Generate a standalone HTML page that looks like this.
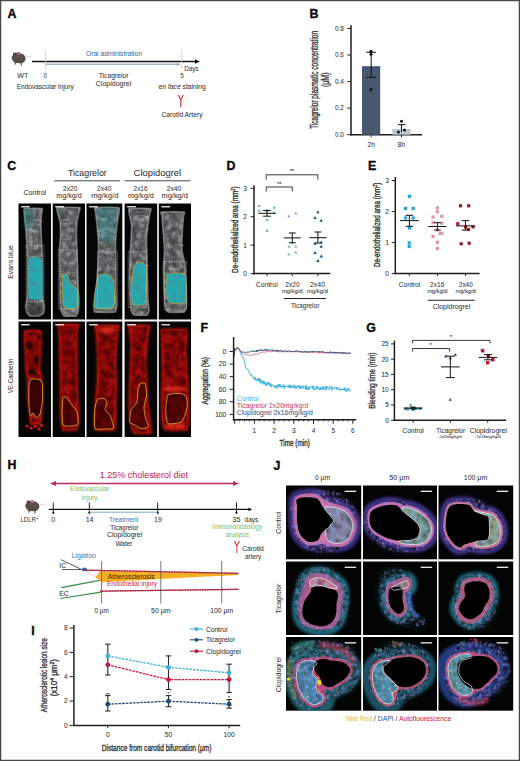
<!DOCTYPE html>
<html><head><meta charset="utf-8"><style>
html,body{margin:0;padding:0;background:#fff;overflow:hidden;}
svg{display:block;font-family:"Liberation Sans", sans-serif;}
</style></head><body>
<svg width="520" height="761" viewBox="0 0 520 761">
<defs>
<filter id="b05" x="-50%" y="-50%" width="200%" height="200%"><feGaussianBlur stdDeviation="0.5"/></filter>
<filter id="b1" x="-50%" y="-50%" width="200%" height="200%"><feGaussianBlur stdDeviation="0.8"/></filter>
<filter id="nzD" x="0" y="0" width="100%" height="100%"><feTurbulence type="fractalNoise" baseFrequency="0.13" numOctaves="2" seed="3"/><feColorMatrix type="matrix" values="0 0 0 0 0  0 0 0 0 0  0 0 0 0 0  0 0 0 1.0 -0.42"/></filter>
<filter id="nzL" x="0" y="0" width="100%" height="100%"><feTurbulence type="fractalNoise" baseFrequency="0.18" numOctaves="2" seed="8"/><feColorMatrix type="matrix" values="0 0 0 0 1  0 0 0 0 1  0 0 0 0 1  0 0 0 1.0 -0.45"/></filter>
<filter id="nzD2" x="0" y="0" width="100%" height="100%"><feTurbulence type="fractalNoise" baseFrequency="0.15" numOctaves="2" seed="5"/><feColorMatrix type="matrix" values="0 0 0 0 0.05  0 0 0 0 0.3  0 0 0 0 0.35  0 0 0 2.4 -0.95"/></filter>
<filter id="nzJ" x="0" y="0" width="100%" height="100%"><feTurbulence type="fractalNoise" baseFrequency="0.2" numOctaves="2" seed="13"/><feColorMatrix type="matrix" values="0 0 0 0 0  0 0 0 0 0  0 0 0 0 0  0 0 0 1.6 -0.62"/></filter>
<filter id="nzP" x="0" y="0" width="100%" height="100%"><feTurbulence type="fractalNoise" baseFrequency="0.22" numOctaves="2" seed="21"/><feColorMatrix type="matrix" values="0 0 0 0 0.2  0 0 0 0 0.45  0 0 0 0 0.75  0 0 0 2.0 -0.8"/></filter>
<filter id="nzR" x="0" y="0" width="100%" height="100%"><feTurbulence type="fractalNoise" baseFrequency="0.3" numOctaves="2" seed="17"/><feColorMatrix type="matrix" values="0 0 0 0 0.35  0 0 0 0 0.3  0 0 0 0 0.75  0 0 0 1.6 -0.7"/></filter>
<filter id="nzD3" x="0" y="0" width="100%" height="100%"><feTurbulence type="fractalNoise" baseFrequency="0.14" numOctaves="2" seed="9"/><feColorMatrix type="matrix" values="0 0 0 0 0.1  0 0 0 0 0  0 0 0 0 0  0 0 0 2.4 -0.7"/></filter>
<filter id="b2" x="-50%" y="-50%" width="200%" height="200%"><feGaussianBlur stdDeviation="1.6"/></filter>
<filter id="b3" x="-50%" y="-50%" width="200%" height="200%"><feGaussianBlur stdDeviation="3"/></filter>
</defs>
<rect width="520" height="761" fill="#fff"/>
<text x="7.40" y="17.90" font-size="12.4" fill="#0a0a0a" stroke="#0a0a0a" stroke-width="0.35" font-weight="bold">A</text>
<g transform="translate(0,0)"><path d="M11.4,57.6 L13.2,54.6 C14.6,52.6 17.5,52.4 19.8,53.4 C23,53.2 25.6,55.4 25.6,58.4 C25.6,61.4 23.2,63.1 20.2,63.3 L15.6,63.1 C13.6,62.3 12.2,60.2 11.4,57.6 Z" fill="#594d4a"/><circle cx="14.4" cy="53.8" r="1.4" fill="#4a3f3d"/><circle cx="18.7" cy="53.4" r="1.7" fill="#8e7f7b"/><path d="M15.3,62.5 L15.3,64.6 M21.3,62.5 L21.3,65.6" stroke="#4a3f3d" stroke-width="1.1"/><path d="M25.3,57.6 Q28,55.4 31.7,56.3" stroke="#e3c4c4" stroke-width="0.9" fill="none"/><path d="M16,56 l2,1 M20,58 l2,-1" stroke="#6e625e" stroke-width="0.6"/></g>
<line x1="32.00" y1="61.50" x2="196.00" y2="61.50" stroke="#111" stroke-width="1.5"/>
<path d="M195,59.2 L200,61.5 L195,63.8 Z" fill="#111"/>
<line x1="45.60" y1="50.50" x2="45.60" y2="69.00" stroke="#c8c8c8" stroke-width="0.8"/>
<line x1="181.70" y1="50.50" x2="181.70" y2="69.00" stroke="#c8c8c8" stroke-width="0.8"/>
<line x1="45.60" y1="64.20" x2="178.00" y2="64.20" stroke="#7f95ad" stroke-width="1.0"/>
<path d="M177,62.9 L180,64.2 L177,65.5 Z" fill="#7f95ad"/>
<text x="86.00" y="56.30" font-size="7" fill="#3d6da6" stroke="#3d6da6" stroke-width="0.05" textLength="56.00" lengthAdjust="spacingAndGlyphs">Oral administration</text>
<text x="17.30" y="78.00" font-size="7" fill="#333333" stroke="#333333" stroke-width="0.05" textLength="10.90" lengthAdjust="spacingAndGlyphs">WT</text>
<text x="43.40" y="78.00" font-size="7" fill="#333333" stroke="#333333" stroke-width="0.05" textLength="3.40" lengthAdjust="spacingAndGlyphs">0</text>
<text x="16.70" y="89.00" font-size="7" fill="#333333" stroke="#333333" stroke-width="0.05" textLength="57.00" lengthAdjust="spacingAndGlyphs">Endovascular injury</text>
<text x="98.70" y="77.50" font-size="7" fill="#333333" stroke="#333333" stroke-width="0.05" textLength="29.80" lengthAdjust="spacingAndGlyphs">Ticagrelor</text>
<text x="95.80" y="86.00" font-size="7" fill="#333333" stroke="#333333" stroke-width="0.05" textLength="35.40" lengthAdjust="spacingAndGlyphs">Clopidogrel</text>
<text x="180.50" y="78.00" font-size="7" fill="#333333" stroke="#333333" stroke-width="0.05" textLength="3.30" lengthAdjust="spacingAndGlyphs">5</text>
<text x="184.20" y="70.80" font-size="7" fill="#333333" stroke="#333333" stroke-width="0.05" textLength="14.30" lengthAdjust="spacingAndGlyphs">Days</text>
<text x="158.60" y="89.00" font-size="7" fill="#333333" stroke="#333333" stroke-width="0.05" textLength="47.20" lengthAdjust="spacingAndGlyphs">en <tspan font-style="italic">face</tspan> staining</text>
<path d="M178.4,95 L180.8,100 L183.2,95 M180.8,100 L180.8,107.3" fill="none" stroke="#c4262e" stroke-width="1.1"/>
<text x="161.50" y="117.00" font-size="7" fill="#333333" stroke="#333333" stroke-width="0.05" textLength="41.00" lengthAdjust="spacingAndGlyphs">Carotid Artery</text>
<text x="309.50" y="18.00" font-size="12.4" fill="#0a0a0a" stroke="#0a0a0a" stroke-width="0.35" font-weight="bold">B</text>
<line x1="351.00" y1="25.20" x2="351.00" y2="135.40" stroke="#1e1e1e" stroke-width="1.5"/>
<line x1="350.30" y1="134.70" x2="422.00" y2="134.70" stroke="#1e1e1e" stroke-width="1.5"/>
<line x1="347.30" y1="28.40" x2="351.00" y2="28.40" stroke="#1e1e1e" stroke-width="1"/>
<text x="343.80" y="30.70" font-size="6.4" fill="#333333" stroke="#333333" stroke-width="0.05" text-anchor="end">0.8</text>
<line x1="347.30" y1="54.98" x2="351.00" y2="54.98" stroke="#1e1e1e" stroke-width="1"/>
<text x="343.80" y="57.28" font-size="6.4" fill="#333333" stroke="#333333" stroke-width="0.05" text-anchor="end">0.6</text>
<line x1="347.30" y1="81.55" x2="351.00" y2="81.55" stroke="#1e1e1e" stroke-width="1"/>
<text x="343.80" y="83.85" font-size="6.4" fill="#333333" stroke="#333333" stroke-width="0.05" text-anchor="end">0.4</text>
<line x1="347.30" y1="108.12" x2="351.00" y2="108.12" stroke="#1e1e1e" stroke-width="1"/>
<text x="343.80" y="110.42" font-size="6.4" fill="#333333" stroke="#333333" stroke-width="0.05" text-anchor="end">0.2</text>
<line x1="347.30" y1="134.70" x2="351.00" y2="134.70" stroke="#1e1e1e" stroke-width="1"/>
<text x="343.80" y="137.00" font-size="6.4" fill="#333333" stroke="#333333" stroke-width="0.05" text-anchor="end">0.0</text>
<rect x="362.00" y="66.20" width="18.20" height="68.50" fill="#48586e"/>
<rect x="392.30" y="129.00" width="18.50" height="5.70" fill="#c2c8d0"/>
<line x1="371.20" y1="52.30" x2="371.20" y2="77.30" stroke="#111" stroke-width="1"/>
<line x1="366.30" y1="52.30" x2="376.00" y2="52.30" stroke="#111" stroke-width="1"/>
<line x1="366.30" y1="77.30" x2="376.00" y2="77.30" stroke="#111" stroke-width="1"/>
<line x1="401.50" y1="124.60" x2="401.50" y2="132.00" stroke="#111" stroke-width="1"/>
<line x1="398.00" y1="124.60" x2="405.50" y2="124.60" stroke="#111" stroke-width="1"/>
<circle cx="371.00" cy="51.30" r="1.50" fill="#111"/>
<circle cx="371.00" cy="54.30" r="1.50" fill="#111"/>
<circle cx="371.00" cy="89.50" r="1.50" fill="#111"/>
<circle cx="401.50" cy="121.20" r="1.50" fill="#111"/>
<circle cx="398.40" cy="132.10" r="1.50" fill="#111"/>
<circle cx="404.50" cy="130.00" r="1.50" fill="#111"/>
<line x1="371.20" y1="134.70" x2="371.20" y2="137.30" stroke="#222" stroke-width="1"/>
<line x1="401.50" y1="134.70" x2="401.50" y2="137.30" stroke="#222" stroke-width="1"/>
<text x="371.20" y="147.20" font-size="6.6" fill="#333333" stroke="#333333" stroke-width="0.05" text-anchor="middle">2h</text>
<text x="401.50" y="147.20" font-size="6.6" fill="#333333" stroke="#333333" stroke-width="0.05" text-anchor="middle">8h</text>
<text transform="translate(318.40,79.90) rotate(-90)" x="0" y="0" text-anchor="middle" font-size="10.2" fill="#333333" stroke="#333333" stroke-width="0.35" textLength="97.80" lengthAdjust="spacingAndGlyphs">Ticagrelor plasmatic concentration</text>
<text transform="translate(328.80,79.75) rotate(-90)" x="0" y="0" text-anchor="middle" font-size="10.2" fill="#333333" stroke="#333333" stroke-width="0.35" textLength="14.70" lengthAdjust="spacingAndGlyphs">(μM)</text>
<text x="7.20" y="169.90" font-size="12.4" fill="#0a0a0a" stroke="#0a0a0a" stroke-width="0.35" font-weight="bold">C</text>
<text x="67.90" y="175.90" font-size="8.8" fill="#333333" stroke="#333333" stroke-width="0.05" textLength="38.90" lengthAdjust="spacingAndGlyphs">Ticagrelor</text>
<text x="133.60" y="175.90" font-size="8.8" fill="#333333" stroke="#333333" stroke-width="0.05" textLength="47.60" lengthAdjust="spacingAndGlyphs">Clopidogrel</text>
<line x1="54.30" y1="180.80" x2="120.00" y2="180.80" stroke="#333" stroke-width="0.9"/>
<line x1="124.40" y1="180.80" x2="190.50" y2="180.80" stroke="#333" stroke-width="0.9"/>
<text x="23.50" y="194.60" font-size="7" fill="#333333" stroke="#333333" stroke-width="0.05" textLength="22.70" lengthAdjust="spacingAndGlyphs">Control</text>
<text x="63.00" y="190.60" font-size="7" fill="#333333" stroke="#333333" stroke-width="0.05" textLength="14.40" lengthAdjust="spacingAndGlyphs">2x20</text>
<text x="97.00" y="190.60" font-size="7" fill="#333333" stroke="#333333" stroke-width="0.05" textLength="14.40" lengthAdjust="spacingAndGlyphs">2x40</text>
<text x="133.60" y="190.60" font-size="7" fill="#333333" stroke="#333333" stroke-width="0.05" textLength="13.90" lengthAdjust="spacingAndGlyphs">2x16</text>
<text x="166.80" y="190.60" font-size="7" fill="#333333" stroke="#333333" stroke-width="0.05" textLength="14.40" lengthAdjust="spacingAndGlyphs">2x40</text>
<text x="56.30" y="197.80" font-size="7" fill="#333333" stroke="#333333" stroke-width="0.05" textLength="25.40" lengthAdjust="spacingAndGlyphs">mg/kg/d</text>
<text x="91.20" y="197.80" font-size="7" fill="#333333" stroke="#333333" stroke-width="0.05" textLength="27.20" lengthAdjust="spacingAndGlyphs">mg/kg/d</text>
<text x="127.90" y="197.80" font-size="7" fill="#333333" stroke="#333333" stroke-width="0.05" textLength="25.90" lengthAdjust="spacingAndGlyphs">mg/kg/d</text>
<text x="161.60" y="197.80" font-size="7" fill="#333333" stroke="#333333" stroke-width="0.05" textLength="26.30" lengthAdjust="spacingAndGlyphs">mg/kg/d</text>
<text transform="translate(13.20,262.00) rotate(-90)" x="0" y="0" text-anchor="middle" font-size="7" fill="#333333" stroke="#333333" stroke-width="0.05" textLength="33.50" lengthAdjust="spacingAndGlyphs">Evans blue</text>
<text transform="translate(13.20,376.00) rotate(-90)" x="0" y="0" text-anchor="middle" font-size="7" fill="#333333" stroke="#333333" stroke-width="0.05" textLength="34.50" lengthAdjust="spacingAndGlyphs">VE-Cadherin</text>
<rect x="18.50" y="203.50" width="32.50" height="116.00" fill="#050505"/>
<rect x="18.50" y="321.50" width="32.50" height="115.50" fill="#050505"/>
<rect x="52.70" y="203.50" width="32.30" height="116.00" fill="#050505"/>
<rect x="52.70" y="321.50" width="32.30" height="115.50" fill="#050505"/>
<rect x="86.50" y="203.50" width="35.80" height="116.00" fill="#050505"/>
<rect x="86.50" y="321.50" width="35.80" height="115.50" fill="#050505"/>
<rect x="124.60" y="203.50" width="32.60" height="116.00" fill="#050505"/>
<rect x="124.60" y="321.50" width="32.60" height="115.50" fill="#050505"/>
<rect x="158.80" y="203.50" width="32.20" height="116.00" fill="#050505"/>
<rect x="158.80" y="321.50" width="32.20" height="115.50" fill="#050505"/>
<clipPath id="cp1"><rect x="18.50" y="203.50" width="32.50" height="116.00"/></clipPath>
<g clip-path="url(#cp1)">
<path d="M24.50,208.50 C23.32,208.87 24.23,212.90 24.30,214.00 C24.37,215.10 25.35,223.27 25.50,225.00 C25.65,226.73 26.37,237.67 26.50,240.00 C26.63,242.33 27.43,256.67 27.50,260.00 C27.57,263.33 27.53,287.33 27.50,290.00 C27.47,292.67 27.13,298.93 27.00,300.00 C26.87,301.07 25.50,305.13 25.50,306.00 C25.50,306.87 26.70,312.33 27.00,313.00 C27.30,313.67 29.20,315.80 30.00,316.00 C30.80,316.20 38.10,316.20 39.00,316.00 C39.90,315.80 43.13,313.67 43.50,313.00 C43.87,312.33 44.53,306.87 44.50,306.00 C44.47,305.13 43.13,301.07 43.00,300.00 C42.87,298.93 42.53,292.67 42.50,290.00 C42.47,287.33 42.57,263.33 42.50,260.00 C42.43,256.67 41.60,242.33 41.50,240.00 C41.40,237.67 41.00,226.73 41.00,225.00 C41.00,223.27 41.43,215.10 41.50,214.00 C41.57,212.90 43.13,208.87 42.00,208.50 C40.87,208.13 25.68,208.13 24.50,208.50 Z" fill="#5e6264" filter="url(#b05)"/>
<clipPath id="cp2"><path d="M24.50,208.50 C23.32,208.87 24.23,212.90 24.30,214.00 C24.37,215.10 25.35,223.27 25.50,225.00 C25.65,226.73 26.37,237.67 26.50,240.00 C26.63,242.33 27.43,256.67 27.50,260.00 C27.57,263.33 27.53,287.33 27.50,290.00 C27.47,292.67 27.13,298.93 27.00,300.00 C26.87,301.07 25.50,305.13 25.50,306.00 C25.50,306.87 26.70,312.33 27.00,313.00 C27.30,313.67 29.20,315.80 30.00,316.00 C30.80,316.20 38.10,316.20 39.00,316.00 C39.90,315.80 43.13,313.67 43.50,313.00 C43.87,312.33 44.53,306.87 44.50,306.00 C44.47,305.13 43.13,301.07 43.00,300.00 C42.87,298.93 42.53,292.67 42.50,290.00 C42.47,287.33 42.57,263.33 42.50,260.00 C42.43,256.67 41.60,242.33 41.50,240.00 C41.40,237.67 41.00,226.73 41.00,225.00 C41.00,223.27 41.43,215.10 41.50,214.00 C41.57,212.90 43.13,208.87 42.00,208.50 C40.87,208.13 25.68,208.13 24.50,208.50 Z"/></clipPath><rect x="18.50" y="203.50" width="32.50" height="116.00" fill="#000" filter="url(#nzD)" clip-path="url(#cp2)"/>
<clipPath id="cp3"><path d="M24.50,208.50 C23.32,208.87 24.23,212.90 24.30,214.00 C24.37,215.10 25.35,223.27 25.50,225.00 C25.65,226.73 26.37,237.67 26.50,240.00 C26.63,242.33 27.43,256.67 27.50,260.00 C27.57,263.33 27.53,287.33 27.50,290.00 C27.47,292.67 27.13,298.93 27.00,300.00 C26.87,301.07 25.50,305.13 25.50,306.00 C25.50,306.87 26.70,312.33 27.00,313.00 C27.30,313.67 29.20,315.80 30.00,316.00 C30.80,316.20 38.10,316.20 39.00,316.00 C39.90,315.80 43.13,313.67 43.50,313.00 C43.87,312.33 44.53,306.87 44.50,306.00 C44.47,305.13 43.13,301.07 43.00,300.00 C42.87,298.93 42.53,292.67 42.50,290.00 C42.47,287.33 42.57,263.33 42.50,260.00 C42.43,256.67 41.60,242.33 41.50,240.00 C41.40,237.67 41.00,226.73 41.00,225.00 C41.00,223.27 41.43,215.10 41.50,214.00 C41.57,212.90 43.13,208.87 42.00,208.50 C40.87,208.13 25.68,208.13 24.50,208.50 Z"/></clipPath><rect x="18.50" y="203.50" width="32.50" height="116.00" fill="#000" filter="url(#nzL)" clip-path="url(#cp3)"/>
<path d="M24.50,208.50 C23.32,208.87 24.23,212.90 24.30,214.00 C24.37,215.10 25.35,223.27 25.50,225.00 C25.65,226.73 26.37,237.67 26.50,240.00 C26.63,242.33 27.43,256.67 27.50,260.00 C27.57,263.33 27.53,287.33 27.50,290.00 C27.47,292.67 27.13,298.93 27.00,300.00 C26.87,301.07 25.50,305.13 25.50,306.00 C25.50,306.87 26.70,312.33 27.00,313.00 C27.30,313.67 29.20,315.80 30.00,316.00 C30.80,316.20 38.10,316.20 39.00,316.00 C39.90,315.80 43.13,313.67 43.50,313.00 C43.87,312.33 44.53,306.87 44.50,306.00 C44.47,305.13 43.13,301.07 43.00,300.00 C42.87,298.93 42.53,292.67 42.50,290.00 C42.47,287.33 42.57,263.33 42.50,260.00 C42.43,256.67 41.60,242.33 41.50,240.00 C41.40,237.67 41.00,226.73 41.00,225.00 C41.00,223.27 41.43,215.10 41.50,214.00 C41.57,212.90 43.13,208.87 42.00,208.50 C40.87,208.13 25.68,208.13 24.50,208.50 Z" fill="none" stroke="#a4a8aa" stroke-width="1.6" opacity="0.6" filter="url(#b05)"/>
<path d="M31.3,256.5 q5.8,-0.2 8.0,0.3" stroke="#c0c2c4" stroke-width="0.6" fill="none" opacity="0.7"/>
<path d="M30.9,229.9 q4.9,1.8 6.4,-0.8" stroke="#c0c2c4" stroke-width="0.6" fill="none" opacity="0.7"/>
<path d="M33.4,220.5 q5.1,-2.7 9.9,1.9" stroke="#c0c2c4" stroke-width="0.6" fill="none" opacity="0.7"/>
<path d="M31.7,276.6 q3.5,-2.9 8.1,-1.8" stroke="#c0c2c4" stroke-width="0.6" fill="none" opacity="0.7"/>
<path d="M28.6,230.4 q3.1,-0.2 7.8,1.4" stroke="#c0c2c4" stroke-width="0.6" fill="none" opacity="0.7"/>
<path d="M31.9,263.2 q4.5,1.0 7.8,-0.9" stroke="#c0c2c4" stroke-width="0.6" fill="none" opacity="0.7"/>
<ellipse cx="35" cy="310" rx="8" ry="6" fill="#1a1a1a" opacity="0.55" filter="url(#b1)"/>
<path d="M24.50,210.00 C25.50,206.83 29.58,208.00 31.00,209.00 C32.42,210.00 33.00,212.83 33.00,216.00 C33.00,219.17 32.33,226.00 31.00,228.00 C29.67,230.00 26.08,231.00 25.00,228.00 C23.92,225.00 23.50,213.17 24.50,210.00 Z" fill="#2aa8a8" opacity="0.32" filter="url(#b2)"/>
<path d="M29.00,259.00 C29.75,256.75 34.70,257.40 36.00,257.50 C37.30,257.60 41.35,257.75 42.00,260.00 C42.65,262.25 42.50,276.10 42.50,280.00 C42.50,283.90 42.75,297.05 42.00,299.00 C41.25,300.95 36.30,299.60 35.00,299.50 C33.70,299.40 29.65,299.95 29.00,298.00 C28.35,296.05 28.50,283.90 28.50,280.00 C28.50,276.10 28.25,261.25 29.00,259.00 Z" fill="#26aaae" filter="url(#b05)"/>
<clipPath id="cp4"><path d="M29.00,259.00 C29.75,256.75 34.70,257.40 36.00,257.50 C37.30,257.60 41.35,257.75 42.00,260.00 C42.65,262.25 42.50,276.10 42.50,280.00 C42.50,283.90 42.75,297.05 42.00,299.00 C41.25,300.95 36.30,299.60 35.00,299.50 C33.70,299.40 29.65,299.95 29.00,298.00 C28.35,296.05 28.50,283.90 28.50,280.00 C28.50,276.10 28.25,261.25 29.00,259.00 Z"/></clipPath><rect x="18.50" y="203.50" width="32.50" height="116.00" fill="#000" filter="url(#nzD2)" clip-path="url(#cp4)"/>
<rect x="26" y="245.5" width="18.00" height="56.00" fill="none" stroke="#dddddd" stroke-width="0.6" stroke-dasharray="0.8 0.8"/>
<rect x="21.10" y="206.10" width="8.6" height="1.3" fill="#f0f0f0"/>
</g>
<clipPath id="cp5"><rect x="18.50" y="321.50" width="32.50" height="115.50"/></clipPath>
<g clip-path="url(#cp5)">
<path d="M25.00,331.00 C23.93,331.60 24.47,338.40 24.50,340.00 C24.53,341.60 25.40,353.00 25.50,355.00 C25.60,357.00 25.87,368.33 26.00,370.00 C26.13,371.67 27.37,378.00 27.50,380.00 C27.63,382.00 27.83,397.47 28.00,400.00 C28.17,402.53 29.80,416.40 30.00,418.00 C30.20,419.60 30.33,423.60 31.00,424.00 C31.67,424.40 39.30,424.40 40.00,424.00 C40.70,423.60 41.33,419.60 41.50,418.00 C41.67,416.40 42.47,402.53 42.50,400.00 C42.53,397.47 42.17,382.00 42.00,380.00 C41.83,378.00 40.10,371.67 40.00,370.00 C39.90,368.33 40.43,357.00 40.50,355.00 C40.57,353.00 41.00,341.60 41.00,340.00 C41.00,338.40 41.57,331.60 40.50,331.00 C39.43,330.40 26.07,330.40 25.00,331.00 Z" fill="#9c0a08" filter="url(#b05)"/>
<clipPath id="cp6"><path d="M25.00,331.00 C23.93,331.60 24.47,338.40 24.50,340.00 C24.53,341.60 25.40,353.00 25.50,355.00 C25.60,357.00 25.87,368.33 26.00,370.00 C26.13,371.67 27.37,378.00 27.50,380.00 C27.63,382.00 27.83,397.47 28.00,400.00 C28.17,402.53 29.80,416.40 30.00,418.00 C30.20,419.60 30.33,423.60 31.00,424.00 C31.67,424.40 39.30,424.40 40.00,424.00 C40.70,423.60 41.33,419.60 41.50,418.00 C41.67,416.40 42.47,402.53 42.50,400.00 C42.53,397.47 42.17,382.00 42.00,380.00 C41.83,378.00 40.10,371.67 40.00,370.00 C39.90,368.33 40.43,357.00 40.50,355.00 C40.57,353.00 41.00,341.60 41.00,340.00 C41.00,338.40 41.57,331.60 40.50,331.00 C39.43,330.40 26.07,330.40 25.00,331.00 Z"/></clipPath><rect x="18.50" y="321.50" width="32.50" height="115.50" fill="#000" filter="url(#nzD3)" clip-path="url(#cp6)"/>
<path d="M25.00,331.00 C23.93,331.60 24.47,338.40 24.50,340.00 C24.53,341.60 25.40,353.00 25.50,355.00 C25.60,357.00 25.87,368.33 26.00,370.00 C26.13,371.67 27.37,378.00 27.50,380.00 C27.63,382.00 27.83,397.47 28.00,400.00 C28.17,402.53 29.80,416.40 30.00,418.00 C30.20,419.60 30.33,423.60 31.00,424.00 C31.67,424.40 39.30,424.40 40.00,424.00 C40.70,423.60 41.33,419.60 41.50,418.00 C41.67,416.40 42.47,402.53 42.50,400.00 C42.53,397.47 42.17,382.00 42.00,380.00 C41.83,378.00 40.10,371.67 40.00,370.00 C39.90,368.33 40.43,357.00 40.50,355.00 C40.57,353.00 41.00,341.60 41.00,340.00 C41.00,338.40 41.57,331.60 40.50,331.00 C39.43,330.40 26.07,330.40 25.00,331.00 Z" fill="none" stroke="#e82418" stroke-width="2.2" opacity="0.55" filter="url(#b1)"/>
<ellipse cx="29" cy="345" rx="2" ry="4" fill="#100202" opacity="0.8" filter="url(#b1)"/>
<ellipse cx="37" cy="360" rx="2" ry="5" fill="#100202" opacity="0.8" filter="url(#b1)"/>
<ellipse cx="32" cy="372" rx="3" ry="3" fill="#100202" opacity="0.8" filter="url(#b1)"/>
<ellipse cx="39" cy="338" rx="1.5" ry="3" fill="#100202" opacity="0.8" filter="url(#b1)"/>
<path d="M30.00,380.00 C30.72,378.90 34.80,378.80 36.00,379.00 C37.20,379.20 41.35,379.90 42.00,382.00 C42.65,384.10 42.70,396.80 42.50,400.00 C42.30,403.20 40.65,412.20 40.00,414.00 C39.35,415.80 36.70,418.10 36.00,418.00 C35.30,417.90 33.55,413.20 33.00,413.00 C32.45,412.80 30.90,416.80 30.50,416.00 C30.10,415.20 29.17,407.60 29.00,405.00 C28.83,402.40 28.70,392.50 28.80,390.00 C28.90,387.50 29.28,381.10 30.00,380.00 Z" fill="#200202" opacity="0.75" filter="url(#b05)"/>
<path d="M30.00,380.00 C30.72,378.90 34.80,378.80 36.00,379.00 C37.20,379.20 41.35,379.90 42.00,382.00 C42.65,384.10 42.70,396.80 42.50,400.00 C42.30,403.20 40.65,412.20 40.00,414.00 C39.35,415.80 36.70,418.10 36.00,418.00 C35.30,417.90 33.55,413.20 33.00,413.00 C32.45,412.80 30.90,416.80 30.50,416.00 C30.10,415.20 29.17,407.60 29.00,405.00 C28.83,402.40 28.70,392.50 28.80,390.00 C28.90,387.50 29.28,381.10 30.00,380.00 Z" fill="none" stroke="#e8b030" stroke-width="0.8"/>
<circle cx="31" cy="428" r="1.6" fill="#d01818" filter="url(#b05)"/>
<circle cx="35" cy="426.5" r="1.6" fill="#d01818" filter="url(#b05)"/>
<circle cx="39" cy="429" r="1.6" fill="#d01818" filter="url(#b05)"/>
<circle cx="41.5" cy="425.5" r="1.6" fill="#d01818" filter="url(#b05)"/>
<circle cx="27" cy="426" r="1.6" fill="#d01818" filter="url(#b05)"/>
<rect x="21.10" y="324.10" width="8.6" height="1.3" fill="#f0f0f0"/>
</g>
<clipPath id="cp7"><rect x="52.70" y="203.50" width="32.30" height="116.00"/></clipPath>
<g clip-path="url(#cp7)">
<path d="M57.50,207.50 C56.03,207.80 57.33,211.03 57.50,212.00 C57.67,212.97 59.80,220.47 60.00,222.00 C60.20,223.53 60.53,233.13 60.50,235.00 C60.47,236.87 59.53,247.00 59.50,250.00 C59.47,253.00 59.97,276.67 60.00,280.00 C60.03,283.33 59.93,298.00 60.00,300.00 C60.07,302.00 60.73,308.93 61.00,310.00 C61.27,311.07 63.00,315.60 64.00,316.00 C65.00,316.40 75.03,316.40 76.00,316.00 C76.97,315.60 78.33,311.07 78.50,310.00 C78.67,308.93 78.53,302.00 78.50,300.00 C78.47,298.00 78.10,283.33 78.00,280.00 C77.90,276.67 77.10,253.00 77.00,250.00 C76.90,247.00 76.50,236.87 76.50,235.00 C76.50,233.13 76.83,223.53 77.00,222.00 C77.17,220.47 78.83,212.97 79.00,212.00 C79.17,211.03 80.93,207.80 79.50,207.50 C78.07,207.20 58.97,207.20 57.50,207.50 Z" fill="#5e6264" filter="url(#b05)"/>
<clipPath id="cp8"><path d="M57.50,207.50 C56.03,207.80 57.33,211.03 57.50,212.00 C57.67,212.97 59.80,220.47 60.00,222.00 C60.20,223.53 60.53,233.13 60.50,235.00 C60.47,236.87 59.53,247.00 59.50,250.00 C59.47,253.00 59.97,276.67 60.00,280.00 C60.03,283.33 59.93,298.00 60.00,300.00 C60.07,302.00 60.73,308.93 61.00,310.00 C61.27,311.07 63.00,315.60 64.00,316.00 C65.00,316.40 75.03,316.40 76.00,316.00 C76.97,315.60 78.33,311.07 78.50,310.00 C78.67,308.93 78.53,302.00 78.50,300.00 C78.47,298.00 78.10,283.33 78.00,280.00 C77.90,276.67 77.10,253.00 77.00,250.00 C76.90,247.00 76.50,236.87 76.50,235.00 C76.50,233.13 76.83,223.53 77.00,222.00 C77.17,220.47 78.83,212.97 79.00,212.00 C79.17,211.03 80.93,207.80 79.50,207.50 C78.07,207.20 58.97,207.20 57.50,207.50 Z"/></clipPath><rect x="52.70" y="203.50" width="32.30" height="116.00" fill="#000" filter="url(#nzD)" clip-path="url(#cp8)"/>
<clipPath id="cp9"><path d="M57.50,207.50 C56.03,207.80 57.33,211.03 57.50,212.00 C57.67,212.97 59.80,220.47 60.00,222.00 C60.20,223.53 60.53,233.13 60.50,235.00 C60.47,236.87 59.53,247.00 59.50,250.00 C59.47,253.00 59.97,276.67 60.00,280.00 C60.03,283.33 59.93,298.00 60.00,300.00 C60.07,302.00 60.73,308.93 61.00,310.00 C61.27,311.07 63.00,315.60 64.00,316.00 C65.00,316.40 75.03,316.40 76.00,316.00 C76.97,315.60 78.33,311.07 78.50,310.00 C78.67,308.93 78.53,302.00 78.50,300.00 C78.47,298.00 78.10,283.33 78.00,280.00 C77.90,276.67 77.10,253.00 77.00,250.00 C76.90,247.00 76.50,236.87 76.50,235.00 C76.50,233.13 76.83,223.53 77.00,222.00 C77.17,220.47 78.83,212.97 79.00,212.00 C79.17,211.03 80.93,207.80 79.50,207.50 C78.07,207.20 58.97,207.20 57.50,207.50 Z"/></clipPath><rect x="52.70" y="203.50" width="32.30" height="116.00" fill="#000" filter="url(#nzL)" clip-path="url(#cp9)"/>
<path d="M57.50,207.50 C56.03,207.80 57.33,211.03 57.50,212.00 C57.67,212.97 59.80,220.47 60.00,222.00 C60.20,223.53 60.53,233.13 60.50,235.00 C60.47,236.87 59.53,247.00 59.50,250.00 C59.47,253.00 59.97,276.67 60.00,280.00 C60.03,283.33 59.93,298.00 60.00,300.00 C60.07,302.00 60.73,308.93 61.00,310.00 C61.27,311.07 63.00,315.60 64.00,316.00 C65.00,316.40 75.03,316.40 76.00,316.00 C76.97,315.60 78.33,311.07 78.50,310.00 C78.67,308.93 78.53,302.00 78.50,300.00 C78.47,298.00 78.10,283.33 78.00,280.00 C77.90,276.67 77.10,253.00 77.00,250.00 C76.90,247.00 76.50,236.87 76.50,235.00 C76.50,233.13 76.83,223.53 77.00,222.00 C77.17,220.47 78.83,212.97 79.00,212.00 C79.17,211.03 80.93,207.80 79.50,207.50 C78.07,207.20 58.97,207.20 57.50,207.50 Z" fill="none" stroke="#a4a8aa" stroke-width="1.6" opacity="0.6" filter="url(#b05)"/>
<path d="M69.0,310.8 q5.5,1.2 7.3,-1.1" stroke="#c0c2c4" stroke-width="0.6" fill="none" opacity="0.7"/>
<path d="M61.3,239.5 q5.3,-0.6 9.4,-0.5" stroke="#c0c2c4" stroke-width="0.6" fill="none" opacity="0.7"/>
<path d="M67.7,306.8 q3.0,-1.7 9.6,-0.1" stroke="#c0c2c4" stroke-width="0.6" fill="none" opacity="0.7"/>
<path d="M64.0,309.0 q3.2,0.8 9.1,-0.9" stroke="#c0c2c4" stroke-width="0.6" fill="none" opacity="0.7"/>
<path d="M63.5,219.3 q5.9,1.5 6.5,-1.0" stroke="#c0c2c4" stroke-width="0.6" fill="none" opacity="0.7"/>
<path d="M61.2,220.7 q5.4,-1.9 8.2,-0.2" stroke="#c0c2c4" stroke-width="0.6" fill="none" opacity="0.7"/>
<path d="M62.80,274.00 C63.35,272.00 67.28,275.10 68.00,276.00 C68.72,276.90 69.00,281.60 70.00,283.00 C71.00,284.40 77.17,287.60 78.00,290.00 C78.83,292.40 79.60,305.20 78.30,307.00 C77.00,308.80 66.58,309.10 65.00,308.00 C63.42,306.90 62.72,299.40 62.50,296.00 C62.28,292.60 62.25,276.00 62.80,274.00 Z" fill="#26aaae" filter="url(#b05)"/>
<clipPath id="cp10"><path d="M62.80,274.00 C63.35,272.00 67.28,275.10 68.00,276.00 C68.72,276.90 69.00,281.60 70.00,283.00 C71.00,284.40 77.17,287.60 78.00,290.00 C78.83,292.40 79.60,305.20 78.30,307.00 C77.00,308.80 66.58,309.10 65.00,308.00 C63.42,306.90 62.72,299.40 62.50,296.00 C62.28,292.60 62.25,276.00 62.80,274.00 Z"/></clipPath><rect x="52.70" y="203.50" width="32.30" height="116.00" fill="#000" filter="url(#nzD2)" clip-path="url(#cp10)"/>
<path d="M62.80,274.00 C63.35,272.00 67.28,275.10 68.00,276.00 C68.72,276.90 69.00,281.60 70.00,283.00 C71.00,284.40 77.17,287.60 78.00,290.00 C78.83,292.40 79.60,305.20 78.30,307.00 C77.00,308.80 66.58,309.10 65.00,308.00 C63.42,306.90 62.72,299.40 62.50,296.00 C62.28,292.60 62.25,276.00 62.80,274.00 Z" fill="none" stroke="#c9a030" stroke-width="0.7"/>
<rect x="58.4" y="249.7" width="19.00" height="59.30" fill="none" stroke="#dddddd" stroke-width="0.6" stroke-dasharray="0.8 0.8"/>
<rect x="55.30" y="206.10" width="8.6" height="1.3" fill="#f0f0f0"/>
</g>
<clipPath id="cp11"><rect x="52.70" y="321.50" width="32.30" height="115.50"/></clipPath>
<g clip-path="url(#cp11)">
<path d="M58.50,324.50 C57.20,324.87 58.93,328.63 59.00,330.00 C59.07,331.37 59.43,342.67 59.50,345.00 C59.57,347.33 59.93,362.33 60.00,365.00 C60.07,367.67 60.47,382.67 60.50,385.00 C60.53,387.33 60.47,397.67 60.50,400.00 C60.53,402.33 60.83,418.00 61.00,420.00 C61.17,422.00 62.00,429.33 63.00,430.00 C64.00,430.67 74.93,430.67 76.00,430.00 C77.07,429.33 78.87,422.00 79.00,420.00 C79.13,418.00 78.10,402.33 78.00,400.00 C77.90,397.67 77.57,387.33 77.50,385.00 C77.43,382.67 77.03,367.67 77.00,365.00 C76.97,362.33 76.97,347.33 77.00,345.00 C77.03,342.67 77.40,331.37 77.50,330.00 C77.60,328.63 79.77,324.87 78.50,324.50 C77.23,324.13 59.80,324.13 58.50,324.50 Z" fill="#9c0a08" filter="url(#b05)"/>
<clipPath id="cp12"><path d="M58.50,324.50 C57.20,324.87 58.93,328.63 59.00,330.00 C59.07,331.37 59.43,342.67 59.50,345.00 C59.57,347.33 59.93,362.33 60.00,365.00 C60.07,367.67 60.47,382.67 60.50,385.00 C60.53,387.33 60.47,397.67 60.50,400.00 C60.53,402.33 60.83,418.00 61.00,420.00 C61.17,422.00 62.00,429.33 63.00,430.00 C64.00,430.67 74.93,430.67 76.00,430.00 C77.07,429.33 78.87,422.00 79.00,420.00 C79.13,418.00 78.10,402.33 78.00,400.00 C77.90,397.67 77.57,387.33 77.50,385.00 C77.43,382.67 77.03,367.67 77.00,365.00 C76.97,362.33 76.97,347.33 77.00,345.00 C77.03,342.67 77.40,331.37 77.50,330.00 C77.60,328.63 79.77,324.87 78.50,324.50 C77.23,324.13 59.80,324.13 58.50,324.50 Z"/></clipPath><rect x="52.70" y="321.50" width="32.30" height="115.50" fill="#000" filter="url(#nzD3)" clip-path="url(#cp12)"/>
<path d="M58.50,324.50 C57.20,324.87 58.93,328.63 59.00,330.00 C59.07,331.37 59.43,342.67 59.50,345.00 C59.57,347.33 59.93,362.33 60.00,365.00 C60.07,367.67 60.47,382.67 60.50,385.00 C60.53,387.33 60.47,397.67 60.50,400.00 C60.53,402.33 60.83,418.00 61.00,420.00 C61.17,422.00 62.00,429.33 63.00,430.00 C64.00,430.67 74.93,430.67 76.00,430.00 C77.07,429.33 78.87,422.00 79.00,420.00 C79.13,418.00 78.10,402.33 78.00,400.00 C77.90,397.67 77.57,387.33 77.50,385.00 C77.43,382.67 77.03,367.67 77.00,365.00 C76.97,362.33 76.97,347.33 77.00,345.00 C77.03,342.67 77.40,331.37 77.50,330.00 C77.60,328.63 79.77,324.87 78.50,324.50 C77.23,324.13 59.80,324.13 58.50,324.50 Z" fill="none" stroke="#e82418" stroke-width="2.2" opacity="0.55" filter="url(#b1)"/>
<path d="M63.00,397.00 C63.48,395.80 66.10,397.20 67.00,398.00 C67.90,398.80 71.00,403.60 72.00,405.00 C73.00,406.40 76.40,410.10 77.00,412.00 C77.60,413.90 78.60,422.60 78.00,424.00 C77.40,425.40 72.50,425.90 71.00,426.00 C69.50,426.10 63.88,426.60 63.00,425.00 C62.12,423.40 62.20,412.80 62.20,410.00 C62.20,407.20 62.52,398.20 63.00,397.00 Z" fill="#200202" opacity="0.5" filter="url(#b05)"/>
<path d="M63.00,397.00 C63.48,395.80 66.10,397.20 67.00,398.00 C67.90,398.80 71.00,403.60 72.00,405.00 C73.00,406.40 76.40,410.10 77.00,412.00 C77.60,413.90 78.60,422.60 78.00,424.00 C77.40,425.40 72.50,425.90 71.00,426.00 C69.50,426.10 63.88,426.60 63.00,425.00 C62.12,423.40 62.20,412.80 62.20,410.00 C62.20,407.20 62.52,398.20 63.00,397.00 Z" fill="none" stroke="#e8b030" stroke-width="0.8"/>
<rect x="55.30" y="324.10" width="8.6" height="1.3" fill="#f0f0f0"/>
</g>
<clipPath id="cp13"><rect x="86.50" y="203.50" width="35.80" height="116.00"/></clipPath>
<g clip-path="url(#cp13)">
<path d="M95.50,207.50 C93.97,207.80 95.40,210.83 95.50,212.00 C95.60,213.17 96.80,222.80 97.00,225.00 C97.20,227.20 98.43,242.33 98.50,245.00 C98.57,247.67 98.17,262.00 98.00,265.00 C97.83,268.00 96.27,287.33 96.00,290.00 C95.73,292.67 94.07,303.53 94.00,305.00 C93.93,306.47 93.60,311.53 95.00,312.00 C96.40,312.47 113.57,312.47 115.00,312.00 C116.43,311.53 116.43,306.47 116.50,305.00 C116.57,303.53 116.03,292.67 116.00,290.00 C115.97,287.33 116.03,268.00 116.00,265.00 C115.97,262.00 115.43,247.67 115.50,245.00 C115.57,242.33 116.77,227.20 117.00,225.00 C117.23,222.80 118.90,213.17 119.00,212.00 C119.10,210.83 120.07,207.80 118.50,207.50 C116.93,207.20 97.03,207.20 95.50,207.50 Z" fill="#5e6264" filter="url(#b05)"/>
<clipPath id="cp14"><path d="M95.50,207.50 C93.97,207.80 95.40,210.83 95.50,212.00 C95.60,213.17 96.80,222.80 97.00,225.00 C97.20,227.20 98.43,242.33 98.50,245.00 C98.57,247.67 98.17,262.00 98.00,265.00 C97.83,268.00 96.27,287.33 96.00,290.00 C95.73,292.67 94.07,303.53 94.00,305.00 C93.93,306.47 93.60,311.53 95.00,312.00 C96.40,312.47 113.57,312.47 115.00,312.00 C116.43,311.53 116.43,306.47 116.50,305.00 C116.57,303.53 116.03,292.67 116.00,290.00 C115.97,287.33 116.03,268.00 116.00,265.00 C115.97,262.00 115.43,247.67 115.50,245.00 C115.57,242.33 116.77,227.20 117.00,225.00 C117.23,222.80 118.90,213.17 119.00,212.00 C119.10,210.83 120.07,207.80 118.50,207.50 C116.93,207.20 97.03,207.20 95.50,207.50 Z"/></clipPath><rect x="86.50" y="203.50" width="35.80" height="116.00" fill="#000" filter="url(#nzD)" clip-path="url(#cp14)"/>
<clipPath id="cp15"><path d="M95.50,207.50 C93.97,207.80 95.40,210.83 95.50,212.00 C95.60,213.17 96.80,222.80 97.00,225.00 C97.20,227.20 98.43,242.33 98.50,245.00 C98.57,247.67 98.17,262.00 98.00,265.00 C97.83,268.00 96.27,287.33 96.00,290.00 C95.73,292.67 94.07,303.53 94.00,305.00 C93.93,306.47 93.60,311.53 95.00,312.00 C96.40,312.47 113.57,312.47 115.00,312.00 C116.43,311.53 116.43,306.47 116.50,305.00 C116.57,303.53 116.03,292.67 116.00,290.00 C115.97,287.33 116.03,268.00 116.00,265.00 C115.97,262.00 115.43,247.67 115.50,245.00 C115.57,242.33 116.77,227.20 117.00,225.00 C117.23,222.80 118.90,213.17 119.00,212.00 C119.10,210.83 120.07,207.80 118.50,207.50 C116.93,207.20 97.03,207.20 95.50,207.50 Z"/></clipPath><rect x="86.50" y="203.50" width="35.80" height="116.00" fill="#000" filter="url(#nzL)" clip-path="url(#cp15)"/>
<path d="M95.50,207.50 C93.97,207.80 95.40,210.83 95.50,212.00 C95.60,213.17 96.80,222.80 97.00,225.00 C97.20,227.20 98.43,242.33 98.50,245.00 C98.57,247.67 98.17,262.00 98.00,265.00 C97.83,268.00 96.27,287.33 96.00,290.00 C95.73,292.67 94.07,303.53 94.00,305.00 C93.93,306.47 93.60,311.53 95.00,312.00 C96.40,312.47 113.57,312.47 115.00,312.00 C116.43,311.53 116.43,306.47 116.50,305.00 C116.57,303.53 116.03,292.67 116.00,290.00 C115.97,287.33 116.03,268.00 116.00,265.00 C115.97,262.00 115.43,247.67 115.50,245.00 C115.57,242.33 116.77,227.20 117.00,225.00 C117.23,222.80 118.90,213.17 119.00,212.00 C119.10,210.83 120.07,207.80 118.50,207.50 C116.93,207.20 97.03,207.20 95.50,207.50 Z" fill="none" stroke="#a4a8aa" stroke-width="1.6" opacity="0.6" filter="url(#b05)"/>
<path d="M103.1,228.9 q3.4,0.9 6.5,-0.3" stroke="#c0c2c4" stroke-width="0.6" fill="none" opacity="0.7"/>
<path d="M97.7,231.0 q5.9,1.8 7.2,1.5" stroke="#c0c2c4" stroke-width="0.6" fill="none" opacity="0.7"/>
<path d="M99.2,230.8 q5.6,0.9 6.4,2.0" stroke="#c0c2c4" stroke-width="0.6" fill="none" opacity="0.7"/>
<path d="M97.5,231.1 q5.3,-1.0 7.2,-1.7" stroke="#c0c2c4" stroke-width="0.6" fill="none" opacity="0.7"/>
<path d="M101.4,219.2 q3.7,0.6 7.5,-0.2" stroke="#c0c2c4" stroke-width="0.6" fill="none" opacity="0.7"/>
<path d="M100.2,303.1 q4.7,2.2 6.7,-1.4" stroke="#c0c2c4" stroke-width="0.6" fill="none" opacity="0.7"/>
<path d="M97.00,209.00 C100.17,206.33 113.83,206.33 117.00,209.00 C120.17,211.67 116.67,219.83 116.00,225.00 C115.33,230.17 115.50,237.50 113.00,240.00 C110.50,242.50 103.50,242.50 101.00,240.00 C98.50,237.50 98.67,230.17 98.00,225.00 C97.33,219.83 93.83,211.67 97.00,209.00 Z" fill="#2aa8a8" opacity="0.32" filter="url(#b2)"/>
<path d="M99.00,275.00 C100.10,274.10 106.60,273.50 108.00,274.00 C109.40,274.50 112.35,277.80 113.00,280.00 C113.65,282.20 114.60,293.20 114.50,296.00 C114.40,298.80 113.95,306.80 112.00,308.00 C110.05,309.20 96.75,309.30 95.00,308.00 C93.25,306.70 94.30,297.50 94.50,295.00 C94.70,292.50 96.55,285.00 97.00,283.00 C97.45,281.00 97.90,275.90 99.00,275.00 Z" fill="#26aaae" filter="url(#b05)"/>
<clipPath id="cp16"><path d="M99.00,275.00 C100.10,274.10 106.60,273.50 108.00,274.00 C109.40,274.50 112.35,277.80 113.00,280.00 C113.65,282.20 114.60,293.20 114.50,296.00 C114.40,298.80 113.95,306.80 112.00,308.00 C110.05,309.20 96.75,309.30 95.00,308.00 C93.25,306.70 94.30,297.50 94.50,295.00 C94.70,292.50 96.55,285.00 97.00,283.00 C97.45,281.00 97.90,275.90 99.00,275.00 Z"/></clipPath><rect x="86.50" y="203.50" width="35.80" height="116.00" fill="#000" filter="url(#nzD2)" clip-path="url(#cp16)"/>
<path d="M99.00,275.00 C100.10,274.10 106.60,273.50 108.00,274.00 C109.40,274.50 112.35,277.80 113.00,280.00 C113.65,282.20 114.60,293.20 114.50,296.00 C114.40,298.80 113.95,306.80 112.00,308.00 C110.05,309.20 96.75,309.30 95.00,308.00 C93.25,306.70 94.30,297.50 94.50,295.00 C94.70,292.50 96.55,285.00 97.00,283.00 C97.45,281.00 97.90,275.90 99.00,275.00 Z" fill="none" stroke="#c9a030" stroke-width="0.7"/>
<rect x="97.5" y="251.8" width="20.10" height="56.20" fill="none" stroke="#dddddd" stroke-width="0.6" stroke-dasharray="0.8 0.8"/>
<rect x="89.10" y="206.10" width="8.6" height="1.3" fill="#f0f0f0"/>
</g>
<clipPath id="cp17"><rect x="86.50" y="321.50" width="35.80" height="115.50"/></clipPath>
<g clip-path="url(#cp17)">
<path d="M95.50,325.50 C94.00,325.93 95.90,330.70 96.00,332.00 C96.10,333.30 96.90,342.80 97.00,345.00 C97.10,347.20 97.50,362.33 97.50,365.00 C97.50,367.67 97.17,382.33 97.00,385.00 C96.83,387.67 95.20,402.67 95.00,405.00 C94.80,407.33 93.93,418.33 94.00,420.00 C94.07,421.67 94.67,429.33 96.00,430.00 C97.33,430.67 112.67,430.67 114.00,430.00 C115.33,429.33 115.87,421.67 116.00,420.00 C116.13,418.33 115.97,407.33 116.00,405.00 C116.03,402.67 116.50,387.67 116.50,385.00 C116.50,382.33 116.00,367.67 116.00,365.00 C116.00,362.33 116.37,347.20 116.50,345.00 C116.63,342.80 117.87,333.30 118.00,332.00 C118.13,330.70 120.00,325.93 118.50,325.50 C117.00,325.07 97.00,325.07 95.50,325.50 Z" fill="#9c0a08" filter="url(#b05)"/>
<clipPath id="cp18"><path d="M95.50,325.50 C94.00,325.93 95.90,330.70 96.00,332.00 C96.10,333.30 96.90,342.80 97.00,345.00 C97.10,347.20 97.50,362.33 97.50,365.00 C97.50,367.67 97.17,382.33 97.00,385.00 C96.83,387.67 95.20,402.67 95.00,405.00 C94.80,407.33 93.93,418.33 94.00,420.00 C94.07,421.67 94.67,429.33 96.00,430.00 C97.33,430.67 112.67,430.67 114.00,430.00 C115.33,429.33 115.87,421.67 116.00,420.00 C116.13,418.33 115.97,407.33 116.00,405.00 C116.03,402.67 116.50,387.67 116.50,385.00 C116.50,382.33 116.00,367.67 116.00,365.00 C116.00,362.33 116.37,347.20 116.50,345.00 C116.63,342.80 117.87,333.30 118.00,332.00 C118.13,330.70 120.00,325.93 118.50,325.50 C117.00,325.07 97.00,325.07 95.50,325.50 Z"/></clipPath><rect x="86.50" y="321.50" width="35.80" height="115.50" fill="#000" filter="url(#nzD3)" clip-path="url(#cp18)"/>
<path d="M95.50,325.50 C94.00,325.93 95.90,330.70 96.00,332.00 C96.10,333.30 96.90,342.80 97.00,345.00 C97.10,347.20 97.50,362.33 97.50,365.00 C97.50,367.67 97.17,382.33 97.00,385.00 C96.83,387.67 95.20,402.67 95.00,405.00 C94.80,407.33 93.93,418.33 94.00,420.00 C94.07,421.67 94.67,429.33 96.00,430.00 C97.33,430.67 112.67,430.67 114.00,430.00 C115.33,429.33 115.87,421.67 116.00,420.00 C116.13,418.33 115.97,407.33 116.00,405.00 C116.03,402.67 116.50,387.67 116.50,385.00 C116.50,382.33 116.00,367.67 116.00,365.00 C116.00,362.33 116.37,347.20 116.50,345.00 C116.63,342.80 117.87,333.30 118.00,332.00 C118.13,330.70 120.00,325.93 118.50,325.50 C117.00,325.07 97.00,325.07 95.50,325.50 Z" fill="none" stroke="#e82418" stroke-width="2.2" opacity="0.55" filter="url(#b1)"/>
<ellipse cx="107" cy="330" rx="10" ry="3" fill="#f03020" opacity="0.7" filter="url(#b1)"/>
<path d="M98.00,399.00 C98.75,398.35 102.10,398.20 103.00,398.50 C103.90,398.80 106.80,400.85 107.00,402.00 C107.20,403.15 104.70,408.70 105.00,410.00 C105.30,411.30 109.15,413.20 110.00,415.00 C110.85,416.80 114.10,426.60 113.50,428.00 C112.90,429.40 105.85,428.95 104.00,429.00 C102.15,429.05 95.95,429.90 95.00,428.50 C94.05,427.10 94.45,417.35 94.50,415.00 C94.55,412.65 95.15,406.60 95.50,405.00 C95.85,403.40 97.25,399.65 98.00,399.00 Z" fill="#200202" opacity="0.5" filter="url(#b05)"/>
<path d="M98.00,399.00 C98.75,398.35 102.10,398.20 103.00,398.50 C103.90,398.80 106.80,400.85 107.00,402.00 C107.20,403.15 104.70,408.70 105.00,410.00 C105.30,411.30 109.15,413.20 110.00,415.00 C110.85,416.80 114.10,426.60 113.50,428.00 C112.90,429.40 105.85,428.95 104.00,429.00 C102.15,429.05 95.95,429.90 95.00,428.50 C94.05,427.10 94.45,417.35 94.50,415.00 C94.55,412.65 95.15,406.60 95.50,405.00 C95.85,403.40 97.25,399.65 98.00,399.00 Z" fill="none" stroke="#e8b030" stroke-width="0.8"/>
<rect x="89.10" y="324.10" width="8.6" height="1.3" fill="#f0f0f0"/>
</g>
<clipPath id="cp19"><rect x="124.60" y="203.50" width="32.60" height="116.00"/></clipPath>
<g clip-path="url(#cp19)">
<path d="M129.50,208.50 C128.07,208.80 128.87,211.90 129.00,213.00 C129.13,214.10 131.37,223.20 131.50,225.00 C131.63,226.80 131.10,238.00 131.00,240.00 C130.90,242.00 130.10,252.33 130.00,255.00 C129.90,257.67 129.50,277.00 129.50,280.00 C129.50,283.00 129.90,298.00 130.00,300.00 C130.10,302.00 130.73,309.00 131.00,310.00 C131.27,311.00 132.93,314.67 134.00,315.00 C135.07,315.33 146.00,315.33 147.00,315.00 C148.00,314.67 148.93,311.00 149.00,310.00 C149.07,309.00 148.10,302.00 148.00,300.00 C147.90,298.00 147.57,283.00 147.50,280.00 C147.43,277.00 147.07,257.67 147.00,255.00 C146.93,252.33 146.43,242.00 146.50,240.00 C146.57,238.00 147.77,226.80 148.00,225.00 C148.23,223.20 149.83,214.10 150.00,213.00 C150.17,211.90 151.87,208.80 150.50,208.50 C149.13,208.20 130.93,208.20 129.50,208.50 Z" fill="#5e6264" filter="url(#b05)"/>
<clipPath id="cp20"><path d="M129.50,208.50 C128.07,208.80 128.87,211.90 129.00,213.00 C129.13,214.10 131.37,223.20 131.50,225.00 C131.63,226.80 131.10,238.00 131.00,240.00 C130.90,242.00 130.10,252.33 130.00,255.00 C129.90,257.67 129.50,277.00 129.50,280.00 C129.50,283.00 129.90,298.00 130.00,300.00 C130.10,302.00 130.73,309.00 131.00,310.00 C131.27,311.00 132.93,314.67 134.00,315.00 C135.07,315.33 146.00,315.33 147.00,315.00 C148.00,314.67 148.93,311.00 149.00,310.00 C149.07,309.00 148.10,302.00 148.00,300.00 C147.90,298.00 147.57,283.00 147.50,280.00 C147.43,277.00 147.07,257.67 147.00,255.00 C146.93,252.33 146.43,242.00 146.50,240.00 C146.57,238.00 147.77,226.80 148.00,225.00 C148.23,223.20 149.83,214.10 150.00,213.00 C150.17,211.90 151.87,208.80 150.50,208.50 C149.13,208.20 130.93,208.20 129.50,208.50 Z"/></clipPath><rect x="124.60" y="203.50" width="32.60" height="116.00" fill="#000" filter="url(#nzD)" clip-path="url(#cp20)"/>
<clipPath id="cp21"><path d="M129.50,208.50 C128.07,208.80 128.87,211.90 129.00,213.00 C129.13,214.10 131.37,223.20 131.50,225.00 C131.63,226.80 131.10,238.00 131.00,240.00 C130.90,242.00 130.10,252.33 130.00,255.00 C129.90,257.67 129.50,277.00 129.50,280.00 C129.50,283.00 129.90,298.00 130.00,300.00 C130.10,302.00 130.73,309.00 131.00,310.00 C131.27,311.00 132.93,314.67 134.00,315.00 C135.07,315.33 146.00,315.33 147.00,315.00 C148.00,314.67 148.93,311.00 149.00,310.00 C149.07,309.00 148.10,302.00 148.00,300.00 C147.90,298.00 147.57,283.00 147.50,280.00 C147.43,277.00 147.07,257.67 147.00,255.00 C146.93,252.33 146.43,242.00 146.50,240.00 C146.57,238.00 147.77,226.80 148.00,225.00 C148.23,223.20 149.83,214.10 150.00,213.00 C150.17,211.90 151.87,208.80 150.50,208.50 C149.13,208.20 130.93,208.20 129.50,208.50 Z"/></clipPath><rect x="124.60" y="203.50" width="32.60" height="116.00" fill="#000" filter="url(#nzL)" clip-path="url(#cp21)"/>
<path d="M129.50,208.50 C128.07,208.80 128.87,211.90 129.00,213.00 C129.13,214.10 131.37,223.20 131.50,225.00 C131.63,226.80 131.10,238.00 131.00,240.00 C130.90,242.00 130.10,252.33 130.00,255.00 C129.90,257.67 129.50,277.00 129.50,280.00 C129.50,283.00 129.90,298.00 130.00,300.00 C130.10,302.00 130.73,309.00 131.00,310.00 C131.27,311.00 132.93,314.67 134.00,315.00 C135.07,315.33 146.00,315.33 147.00,315.00 C148.00,314.67 148.93,311.00 149.00,310.00 C149.07,309.00 148.10,302.00 148.00,300.00 C147.90,298.00 147.57,283.00 147.50,280.00 C147.43,277.00 147.07,257.67 147.00,255.00 C146.93,252.33 146.43,242.00 146.50,240.00 C146.57,238.00 147.77,226.80 148.00,225.00 C148.23,223.20 149.83,214.10 150.00,213.00 C150.17,211.90 151.87,208.80 150.50,208.50 C149.13,208.20 130.93,208.20 129.50,208.50 Z" fill="none" stroke="#a4a8aa" stroke-width="1.6" opacity="0.6" filter="url(#b05)"/>
<path d="M139.6,301.0 q3.7,-1.9 9.0,1.8" stroke="#c0c2c4" stroke-width="0.6" fill="none" opacity="0.7"/>
<path d="M140.8,230.9 q5.6,0.6 7.7,-1.6" stroke="#c0c2c4" stroke-width="0.6" fill="none" opacity="0.7"/>
<path d="M140.9,215.3 q3.7,1.2 7.0,1.3" stroke="#c0c2c4" stroke-width="0.6" fill="none" opacity="0.7"/>
<path d="M135.1,270.3 q3.5,1.3 6.3,-1.1" stroke="#c0c2c4" stroke-width="0.6" fill="none" opacity="0.7"/>
<path d="M139.9,266.6 q4.8,-1.3 9.7,-1.2" stroke="#c0c2c4" stroke-width="0.6" fill="none" opacity="0.7"/>
<path d="M134.9,213.1 q4.3,-2.6 6.7,-0.5" stroke="#c0c2c4" stroke-width="0.6" fill="none" opacity="0.7"/>
<path d="M136.00,263.50 C137.00,262.75 141.95,262.05 143.00,262.50 C144.05,262.95 146.15,265.25 146.50,268.00 C146.85,270.75 146.65,286.40 146.50,290.00 C146.35,293.60 146.35,302.50 145.00,304.00 C143.65,305.50 134.35,306.40 133.00,305.00 C131.65,303.60 131.50,293.50 131.50,290.00 C131.50,286.50 132.55,272.65 133.00,270.00 C133.45,267.35 135.00,264.25 136.00,263.50 Z" fill="#26aaae" filter="url(#b05)"/>
<clipPath id="cp22"><path d="M136.00,263.50 C137.00,262.75 141.95,262.05 143.00,262.50 C144.05,262.95 146.15,265.25 146.50,268.00 C146.85,270.75 146.65,286.40 146.50,290.00 C146.35,293.60 146.35,302.50 145.00,304.00 C143.65,305.50 134.35,306.40 133.00,305.00 C131.65,303.60 131.50,293.50 131.50,290.00 C131.50,286.50 132.55,272.65 133.00,270.00 C133.45,267.35 135.00,264.25 136.00,263.50 Z"/></clipPath><rect x="124.60" y="203.50" width="32.60" height="116.00" fill="#000" filter="url(#nzD2)" clip-path="url(#cp22)"/>
<path d="M136.00,263.50 C137.00,262.75 141.95,262.05 143.00,262.50 C144.05,262.95 146.15,265.25 146.50,268.00 C146.85,270.75 146.65,286.40 146.50,290.00 C146.35,293.60 146.35,302.50 145.00,304.00 C143.65,305.50 134.35,306.40 133.00,305.00 C131.65,303.60 131.50,293.50 131.50,290.00 C131.50,286.50 132.55,272.65 133.00,270.00 C133.45,267.35 135.00,264.25 136.00,263.50 Z" fill="none" stroke="#c9a030" stroke-width="0.7"/>
<rect x="128.2" y="251.7" width="18.10" height="55.80" fill="none" stroke="#dddddd" stroke-width="0.6" stroke-dasharray="0.8 0.8"/>
<rect x="127.20" y="206.10" width="8.6" height="1.3" fill="#f0f0f0"/>
</g>
<clipPath id="cp23"><rect x="124.60" y="321.50" width="32.60" height="115.50"/></clipPath>
<g clip-path="url(#cp23)">
<path d="M129.00,325.50 C127.67,325.93 129.37,330.70 129.50,332.00 C129.63,333.30 130.93,342.80 131.00,345.00 C131.07,347.20 130.60,362.33 130.50,365.00 C130.40,367.67 129.60,382.33 129.50,385.00 C129.40,387.67 128.97,402.67 129.00,405.00 C129.03,407.33 129.67,418.13 130.00,420.00 C130.33,421.87 132.60,432.13 134.00,433.00 C135.40,433.87 149.93,433.87 151.00,433.00 C152.07,432.13 150.20,421.87 150.00,420.00 C149.80,418.13 148.20,407.33 148.00,405.00 C147.80,402.67 147.13,387.67 147.00,385.00 C146.87,382.33 146.00,367.67 146.00,365.00 C146.00,362.33 146.83,347.20 147.00,345.00 C147.17,342.80 148.33,333.30 148.50,332.00 C148.67,330.70 150.80,325.93 149.50,325.50 C148.20,325.07 130.33,325.07 129.00,325.50 Z" fill="#9c0a08" filter="url(#b05)"/>
<clipPath id="cp24"><path d="M129.00,325.50 C127.67,325.93 129.37,330.70 129.50,332.00 C129.63,333.30 130.93,342.80 131.00,345.00 C131.07,347.20 130.60,362.33 130.50,365.00 C130.40,367.67 129.60,382.33 129.50,385.00 C129.40,387.67 128.97,402.67 129.00,405.00 C129.03,407.33 129.67,418.13 130.00,420.00 C130.33,421.87 132.60,432.13 134.00,433.00 C135.40,433.87 149.93,433.87 151.00,433.00 C152.07,432.13 150.20,421.87 150.00,420.00 C149.80,418.13 148.20,407.33 148.00,405.00 C147.80,402.67 147.13,387.67 147.00,385.00 C146.87,382.33 146.00,367.67 146.00,365.00 C146.00,362.33 146.83,347.20 147.00,345.00 C147.17,342.80 148.33,333.30 148.50,332.00 C148.67,330.70 150.80,325.93 149.50,325.50 C148.20,325.07 130.33,325.07 129.00,325.50 Z"/></clipPath><rect x="124.60" y="321.50" width="32.60" height="115.50" fill="#000" filter="url(#nzD3)" clip-path="url(#cp24)"/>
<path d="M129.00,325.50 C127.67,325.93 129.37,330.70 129.50,332.00 C129.63,333.30 130.93,342.80 131.00,345.00 C131.07,347.20 130.60,362.33 130.50,365.00 C130.40,367.67 129.60,382.33 129.50,385.00 C129.40,387.67 128.97,402.67 129.00,405.00 C129.03,407.33 129.67,418.13 130.00,420.00 C130.33,421.87 132.60,432.13 134.00,433.00 C135.40,433.87 149.93,433.87 151.00,433.00 C152.07,432.13 150.20,421.87 150.00,420.00 C149.80,418.13 148.20,407.33 148.00,405.00 C147.80,402.67 147.13,387.67 147.00,385.00 C146.87,382.33 146.00,367.67 146.00,365.00 C146.00,362.33 146.83,347.20 147.00,345.00 C147.17,342.80 148.33,333.30 148.50,332.00 C148.67,330.70 150.80,325.93 149.50,325.50 C148.20,325.07 130.33,325.07 129.00,325.50 Z" fill="none" stroke="#e82418" stroke-width="2.2" opacity="0.55" filter="url(#b1)"/>
<path d="M140.00,384.00 C140.70,383.35 144.35,382.40 145.00,383.50 C145.65,384.60 146.60,392.65 146.50,395.00 C146.40,397.35 144.10,404.70 144.00,407.00 C143.90,409.30 145.05,416.00 145.50,418.00 C145.95,420.00 148.95,425.95 148.50,427.00 C148.05,428.05 142.35,428.70 141.00,428.50 C139.65,428.30 136.12,425.65 135.00,425.00 C133.88,424.35 130.20,423.50 129.80,422.00 C129.40,420.50 130.28,412.00 131.00,410.00 C131.72,408.00 136.30,404.00 137.00,402.00 C137.70,400.00 137.70,391.80 138.00,390.00 C138.30,388.20 139.30,384.65 140.00,384.00 Z" fill="#200202" opacity="0.5" filter="url(#b05)"/>
<path d="M140.00,384.00 C140.70,383.35 144.35,382.40 145.00,383.50 C145.65,384.60 146.60,392.65 146.50,395.00 C146.40,397.35 144.10,404.70 144.00,407.00 C143.90,409.30 145.05,416.00 145.50,418.00 C145.95,420.00 148.95,425.95 148.50,427.00 C148.05,428.05 142.35,428.70 141.00,428.50 C139.65,428.30 136.12,425.65 135.00,425.00 C133.88,424.35 130.20,423.50 129.80,422.00 C129.40,420.50 130.28,412.00 131.00,410.00 C131.72,408.00 136.30,404.00 137.00,402.00 C137.70,400.00 137.70,391.80 138.00,390.00 C138.30,388.20 139.30,384.65 140.00,384.00 Z" fill="none" stroke="#e8b030" stroke-width="0.8"/>
<rect x="127.20" y="324.10" width="8.6" height="1.3" fill="#f0f0f0"/>
</g>
<clipPath id="cp25"><rect x="158.80" y="203.50" width="32.20" height="116.00"/></clipPath>
<g clip-path="url(#cp25)">
<path d="M161.50,212.00 C160.03,212.27 161.90,214.80 162.00,216.00 C162.10,217.20 162.83,227.73 163.00,230.00 C163.17,232.27 164.47,247.67 164.50,250.00 C164.53,252.33 163.53,262.33 163.50,265.00 C163.47,267.67 163.90,287.33 164.00,290.00 C164.10,292.67 164.73,303.53 165.00,305.00 C165.27,306.47 166.73,311.53 168.00,312.00 C169.27,312.47 182.77,312.47 184.00,312.00 C185.23,311.53 186.37,306.47 186.50,305.00 C186.63,303.53 186.10,292.67 186.00,290.00 C185.90,287.33 185.27,267.67 185.00,265.00 C184.73,262.33 182.17,252.33 182.00,250.00 C181.83,247.67 182.40,232.27 182.50,230.00 C182.60,227.73 183.40,217.20 183.50,216.00 C183.60,214.80 185.47,212.27 184.00,212.00 C182.53,211.73 162.97,211.73 161.50,212.00 Z" fill="#5e6264" filter="url(#b05)"/>
<clipPath id="cp26"><path d="M161.50,212.00 C160.03,212.27 161.90,214.80 162.00,216.00 C162.10,217.20 162.83,227.73 163.00,230.00 C163.17,232.27 164.47,247.67 164.50,250.00 C164.53,252.33 163.53,262.33 163.50,265.00 C163.47,267.67 163.90,287.33 164.00,290.00 C164.10,292.67 164.73,303.53 165.00,305.00 C165.27,306.47 166.73,311.53 168.00,312.00 C169.27,312.47 182.77,312.47 184.00,312.00 C185.23,311.53 186.37,306.47 186.50,305.00 C186.63,303.53 186.10,292.67 186.00,290.00 C185.90,287.33 185.27,267.67 185.00,265.00 C184.73,262.33 182.17,252.33 182.00,250.00 C181.83,247.67 182.40,232.27 182.50,230.00 C182.60,227.73 183.40,217.20 183.50,216.00 C183.60,214.80 185.47,212.27 184.00,212.00 C182.53,211.73 162.97,211.73 161.50,212.00 Z"/></clipPath><rect x="158.80" y="203.50" width="32.20" height="116.00" fill="#000" filter="url(#nzD)" clip-path="url(#cp26)"/>
<clipPath id="cp27"><path d="M161.50,212.00 C160.03,212.27 161.90,214.80 162.00,216.00 C162.10,217.20 162.83,227.73 163.00,230.00 C163.17,232.27 164.47,247.67 164.50,250.00 C164.53,252.33 163.53,262.33 163.50,265.00 C163.47,267.67 163.90,287.33 164.00,290.00 C164.10,292.67 164.73,303.53 165.00,305.00 C165.27,306.47 166.73,311.53 168.00,312.00 C169.27,312.47 182.77,312.47 184.00,312.00 C185.23,311.53 186.37,306.47 186.50,305.00 C186.63,303.53 186.10,292.67 186.00,290.00 C185.90,287.33 185.27,267.67 185.00,265.00 C184.73,262.33 182.17,252.33 182.00,250.00 C181.83,247.67 182.40,232.27 182.50,230.00 C182.60,227.73 183.40,217.20 183.50,216.00 C183.60,214.80 185.47,212.27 184.00,212.00 C182.53,211.73 162.97,211.73 161.50,212.00 Z"/></clipPath><rect x="158.80" y="203.50" width="32.20" height="116.00" fill="#000" filter="url(#nzL)" clip-path="url(#cp27)"/>
<path d="M161.50,212.00 C160.03,212.27 161.90,214.80 162.00,216.00 C162.10,217.20 162.83,227.73 163.00,230.00 C163.17,232.27 164.47,247.67 164.50,250.00 C164.53,252.33 163.53,262.33 163.50,265.00 C163.47,267.67 163.90,287.33 164.00,290.00 C164.10,292.67 164.73,303.53 165.00,305.00 C165.27,306.47 166.73,311.53 168.00,312.00 C169.27,312.47 182.77,312.47 184.00,312.00 C185.23,311.53 186.37,306.47 186.50,305.00 C186.63,303.53 186.10,292.67 186.00,290.00 C185.90,287.33 185.27,267.67 185.00,265.00 C184.73,262.33 182.17,252.33 182.00,250.00 C181.83,247.67 182.40,232.27 182.50,230.00 C182.60,227.73 183.40,217.20 183.50,216.00 C183.60,214.80 185.47,212.27 184.00,212.00 C182.53,211.73 162.97,211.73 161.50,212.00 Z" fill="none" stroke="#a4a8aa" stroke-width="1.6" opacity="0.6" filter="url(#b05)"/>
<path d="M167.9,267.6 q4.1,2.3 9.9,0.6" stroke="#c0c2c4" stroke-width="0.6" fill="none" opacity="0.7"/>
<path d="M171.6,278.6 q3.4,-2.8 6.1,1.6" stroke="#c0c2c4" stroke-width="0.6" fill="none" opacity="0.7"/>
<path d="M174.7,279.5 q3.1,0.8 7.9,0.9" stroke="#c0c2c4" stroke-width="0.6" fill="none" opacity="0.7"/>
<path d="M175.0,244.3 q3.2,0.3 8.9,1.6" stroke="#c0c2c4" stroke-width="0.6" fill="none" opacity="0.7"/>
<path d="M172.6,282.8 q5.4,2.5 7.4,0.7" stroke="#c0c2c4" stroke-width="0.6" fill="none" opacity="0.7"/>
<path d="M173.9,297.9 q4.3,1.7 9.5,0.3" stroke="#c0c2c4" stroke-width="0.6" fill="none" opacity="0.7"/>
<path d="M168.00,274.00 C168.95,273.30 174.30,272.90 176.00,273.00 C177.70,273.10 183.95,273.30 185.00,275.00 C186.05,276.70 186.45,287.25 186.50,290.00 C186.55,292.75 187.15,301.20 185.50,302.50 C183.85,303.80 171.95,303.75 170.00,303.00 C168.05,302.25 166.35,297.30 166.00,295.00 C165.65,292.70 166.30,282.10 166.50,280.00 C166.70,277.90 167.05,274.70 168.00,274.00 Z" fill="#26aaae" filter="url(#b05)"/>
<clipPath id="cp28"><path d="M168.00,274.00 C168.95,273.30 174.30,272.90 176.00,273.00 C177.70,273.10 183.95,273.30 185.00,275.00 C186.05,276.70 186.45,287.25 186.50,290.00 C186.55,292.75 187.15,301.20 185.50,302.50 C183.85,303.80 171.95,303.75 170.00,303.00 C168.05,302.25 166.35,297.30 166.00,295.00 C165.65,292.70 166.30,282.10 166.50,280.00 C166.70,277.90 167.05,274.70 168.00,274.00 Z"/></clipPath><rect x="158.80" y="203.50" width="32.20" height="116.00" fill="#000" filter="url(#nzD2)" clip-path="url(#cp28)"/>
<path d="M168.00,274.00 C168.95,273.30 174.30,272.90 176.00,273.00 C177.70,273.10 183.95,273.30 185.00,275.00 C186.05,276.70 186.45,287.25 186.50,290.00 C186.55,292.75 187.15,301.20 185.50,302.50 C183.85,303.80 171.95,303.75 170.00,303.00 C168.05,302.25 166.35,297.30 166.00,295.00 C165.65,292.70 166.30,282.10 166.50,280.00 C166.70,277.90 167.05,274.70 168.00,274.00 Z" fill="none" stroke="#c9a030" stroke-width="0.7"/>
<rect x="164.3" y="261.5" width="22.20" height="48.50" fill="none" stroke="#dddddd" stroke-width="0.6" stroke-dasharray="0.8 0.8"/>
<rect x="161.40" y="206.10" width="8.6" height="1.3" fill="#f0f0f0"/>
</g>
<clipPath id="cp29"><rect x="158.80" y="321.50" width="32.20" height="115.50"/></clipPath>
<g clip-path="url(#cp29)">
<path d="M162.00,329.50 C160.37,329.87 161.50,333.63 161.50,335.00 C161.50,336.37 161.93,347.67 162.00,350.00 C162.07,352.33 162.50,367.67 162.50,370.00 C162.50,372.33 162.07,383.00 162.00,385.00 C161.93,387.00 161.50,397.67 161.50,400.00 C161.50,402.33 161.77,418.00 162.00,420.00 C162.23,422.00 163.33,429.33 165.00,430.00 C166.67,430.67 185.43,430.67 187.00,430.00 C188.57,429.33 188.40,422.00 188.50,420.00 C188.60,418.00 188.53,402.33 188.50,400.00 C188.47,397.67 188.10,387.00 188.00,385.00 C187.90,383.00 187.13,372.33 187.00,370.00 C186.87,367.67 186.00,352.33 186.00,350.00 C186.00,347.67 187.00,336.37 187.00,335.00 C187.00,333.63 187.67,329.87 186.00,329.50 C184.33,329.13 163.63,329.13 162.00,329.50 Z" fill="#9c0a08" filter="url(#b05)"/>
<clipPath id="cp30"><path d="M162.00,329.50 C160.37,329.87 161.50,333.63 161.50,335.00 C161.50,336.37 161.93,347.67 162.00,350.00 C162.07,352.33 162.50,367.67 162.50,370.00 C162.50,372.33 162.07,383.00 162.00,385.00 C161.93,387.00 161.50,397.67 161.50,400.00 C161.50,402.33 161.77,418.00 162.00,420.00 C162.23,422.00 163.33,429.33 165.00,430.00 C166.67,430.67 185.43,430.67 187.00,430.00 C188.57,429.33 188.40,422.00 188.50,420.00 C188.60,418.00 188.53,402.33 188.50,400.00 C188.47,397.67 188.10,387.00 188.00,385.00 C187.90,383.00 187.13,372.33 187.00,370.00 C186.87,367.67 186.00,352.33 186.00,350.00 C186.00,347.67 187.00,336.37 187.00,335.00 C187.00,333.63 187.67,329.87 186.00,329.50 C184.33,329.13 163.63,329.13 162.00,329.50 Z"/></clipPath><rect x="158.80" y="321.50" width="32.20" height="115.50" fill="#000" filter="url(#nzD3)" clip-path="url(#cp30)"/>
<path d="M162.00,329.50 C160.37,329.87 161.50,333.63 161.50,335.00 C161.50,336.37 161.93,347.67 162.00,350.00 C162.07,352.33 162.50,367.67 162.50,370.00 C162.50,372.33 162.07,383.00 162.00,385.00 C161.93,387.00 161.50,397.67 161.50,400.00 C161.50,402.33 161.77,418.00 162.00,420.00 C162.23,422.00 163.33,429.33 165.00,430.00 C166.67,430.67 185.43,430.67 187.00,430.00 C188.57,429.33 188.40,422.00 188.50,420.00 C188.60,418.00 188.53,402.33 188.50,400.00 C188.47,397.67 188.10,387.00 188.00,385.00 C187.90,383.00 187.13,372.33 187.00,370.00 C186.87,367.67 186.00,352.33 186.00,350.00 C186.00,347.67 187.00,336.37 187.00,335.00 C187.00,333.63 187.67,329.87 186.00,329.50 C184.33,329.13 163.63,329.13 162.00,329.50 Z" fill="none" stroke="#e82418" stroke-width="2.2" opacity="0.55" filter="url(#b1)"/>
<ellipse cx="175" cy="389" rx="12" ry="3" fill="#f03020" opacity="0.7" filter="url(#b1)"/>
<ellipse cx="175" cy="426" rx="11" ry="3" fill="#f03020" opacity="0.7" filter="url(#b1)"/>
<path d="M168.00,395.00 C169.42,393.35 178.20,393.40 180.00,393.50 C181.80,393.60 185.27,394.85 186.00,396.00 C186.73,397.15 187.40,403.10 187.30,405.00 C187.20,406.90 185.63,413.30 185.00,415.00 C184.37,416.70 182.70,421.15 181.00,422.00 C179.30,422.85 169.52,424.70 168.00,423.50 C166.48,422.30 165.80,412.85 165.80,410.00 C165.80,407.15 166.58,396.65 168.00,395.00 Z" fill="#200202" opacity="0.5" filter="url(#b05)"/>
<path d="M168.00,395.00 C169.42,393.35 178.20,393.40 180.00,393.50 C181.80,393.60 185.27,394.85 186.00,396.00 C186.73,397.15 187.40,403.10 187.30,405.00 C187.20,406.90 185.63,413.30 185.00,415.00 C184.37,416.70 182.70,421.15 181.00,422.00 C179.30,422.85 169.52,424.70 168.00,423.50 C166.48,422.30 165.80,412.85 165.80,410.00 C165.80,407.15 166.58,396.65 168.00,395.00 Z" fill="none" stroke="#e8b030" stroke-width="0.8"/>
<rect x="161.40" y="324.10" width="8.6" height="1.3" fill="#f0f0f0"/>
</g>
<text x="226.40" y="169.50" font-size="12.4" fill="#0a0a0a" stroke="#0a0a0a" stroke-width="0.35" font-weight="bold">D</text>
<line x1="254.00" y1="185.20" x2="254.00" y2="274.40" stroke="#1e1e1e" stroke-width="1.5"/>
<line x1="253.30" y1="273.60" x2="330.30" y2="273.60" stroke="#1e1e1e" stroke-width="1.5"/>
<line x1="250.50" y1="273.60" x2="254.00" y2="273.60" stroke="#222" stroke-width="1"/>
<text x="247.00" y="276.00" font-size="6.6" fill="#333333" stroke="#333333" stroke-width="0.05" text-anchor="end">0</text>
<line x1="250.50" y1="245.17" x2="254.00" y2="245.17" stroke="#222" stroke-width="1"/>
<text x="247.00" y="247.57" font-size="6.6" fill="#333333" stroke="#333333" stroke-width="0.05" text-anchor="end">1</text>
<line x1="250.50" y1="216.73" x2="254.00" y2="216.73" stroke="#222" stroke-width="1"/>
<text x="247.00" y="219.13" font-size="6.6" fill="#333333" stroke="#333333" stroke-width="0.05" text-anchor="end">2</text>
<line x1="250.50" y1="188.30" x2="254.00" y2="188.30" stroke="#222" stroke-width="1"/>
<text x="247.00" y="190.70" font-size="6.6" fill="#333333" stroke="#333333" stroke-width="0.05" text-anchor="end">3</text>
<line x1="267.00" y1="273.70" x2="267.00" y2="276.20" stroke="#222" stroke-width="1"/>
<line x1="292.30" y1="273.70" x2="292.30" y2="276.20" stroke="#222" stroke-width="1"/>
<line x1="317.90" y1="273.70" x2="317.90" y2="276.20" stroke="#222" stroke-width="1"/>
<text transform="translate(238.30,229.60) rotate(-90)" x="0" y="0" text-anchor="middle" font-size="9" fill="#333333" stroke="#333333" stroke-width="0.35" textLength="86.60" lengthAdjust="spacingAndGlyphs">De-endothelialized area (mm<tspan font-size="5.5" dy="-3.5">2</tspan><tspan dy="3.5">)</tspan></text>
<path d="M266.2,191.5 L266.2,187 L292.3,187 L292.3,191.5" fill="none" stroke="#222" stroke-width="0.9"/>
<path d="M266.2,179.6 L266.2,174.8 L317.9,174.8 L317.9,179.6" fill="none" stroke="#222" stroke-width="0.9"/>
<text x="279.30" y="185.60" font-size="6" fill="#333333" stroke="#333333" stroke-width="0.05" text-anchor="middle">**</text>
<text x="291.80" y="173.40" font-size="6" fill="#333333" stroke="#333333" stroke-width="0.05" text-anchor="middle">**</text>
<path d="M259.20,203.90 L260.90,206.88 L257.50,206.88 Z" fill="#5cb6d8"/>
<path d="M259.20,208.70 L260.90,211.68 L257.50,211.68 Z" fill="#5cb6d8"/>
<path d="M274.20,205.80 L275.90,208.78 L272.50,208.78 Z" fill="#5cb6d8"/>
<path d="M274.20,211.00 L275.90,213.97 L272.50,213.97 Z" fill="#5cb6d8"/>
<path d="M267.00,208.70 L268.70,211.68 L265.30,211.68 Z" fill="#5cb6d8"/>
<path d="M267.00,217.90 L268.70,220.88 L265.30,220.88 Z" fill="#5cb6d8"/>
<path d="M267.00,228.90 L268.70,231.88 L265.30,231.88 Z" fill="#5cb6d8"/>
<path d="M289.00,214.50 L290.70,217.47 L287.30,217.47 Z" fill="#8fb0cf"/>
<path d="M295.80,211.60 L297.50,214.58 L294.10,214.58 Z" fill="#8fb0cf"/>
<path d="M289.00,244.80 L290.70,247.78 L287.30,247.78 Z" fill="#8fb0cf"/>
<path d="M295.80,244.80 L297.50,247.78 L294.10,247.78 Z" fill="#8fb0cf"/>
<path d="M289.00,252.50 L290.70,255.47 L287.30,255.47 Z" fill="#8fb0cf"/>
<path d="M295.80,250.60 L297.50,253.58 L294.10,253.58 Z" fill="#8fb0cf"/>
<path d="M292.30,241.30 L294.00,244.28 L290.60,244.28 Z" fill="#8fb0cf"/>
<path d="M317.90,210.20 L319.60,213.18 L316.20,213.18 Z" fill="#1f4f85"/>
<path d="M315.00,216.00 L316.70,218.97 L313.30,218.97 Z" fill="#1f4f85"/>
<path d="M321.20,218.70 L322.90,221.68 L319.50,221.68 Z" fill="#1f4f85"/>
<path d="M315.00,241.80 L316.70,244.78 L313.30,244.78 Z" fill="#1f4f85"/>
<path d="M321.20,240.40 L322.90,243.38 L319.50,243.38 Z" fill="#1f4f85"/>
<path d="M321.20,244.80 L322.90,247.78 L319.50,247.78 Z" fill="#1f4f85"/>
<path d="M315.00,251.00 L316.70,253.97 L313.30,253.97 Z" fill="#1f4f85"/>
<path d="M321.20,254.50 L322.90,257.47 L319.50,257.47 Z" fill="#1f4f85"/>
<path d="M317.90,259.10 L319.60,262.07 L316.20,262.07 Z" fill="#1f4f85"/>
<line x1="258.30" y1="213.30" x2="275.70" y2="213.30" stroke="#111" stroke-width="1"/>
<line x1="267.00" y1="210.40" x2="267.00" y2="216.20" stroke="#111" stroke-width="1"/>
<line x1="263.10" y1="210.40" x2="270.90" y2="210.40" stroke="#111" stroke-width="1"/>
<line x1="263.10" y1="216.20" x2="270.90" y2="216.20" stroke="#111" stroke-width="1"/>
<line x1="283.80" y1="237.90" x2="300.80" y2="237.90" stroke="#111" stroke-width="1"/>
<line x1="292.30" y1="233.00" x2="292.30" y2="242.70" stroke="#111" stroke-width="1"/>
<line x1="288.90" y1="233.00" x2="295.70" y2="233.00" stroke="#111" stroke-width="1"/>
<line x1="288.90" y1="242.70" x2="295.70" y2="242.70" stroke="#111" stroke-width="1"/>
<line x1="309.20" y1="237.70" x2="326.60" y2="237.70" stroke="#111" stroke-width="1"/>
<line x1="317.90" y1="232.00" x2="317.90" y2="243.00" stroke="#111" stroke-width="1"/>
<line x1="314.50" y1="232.00" x2="321.30" y2="232.00" stroke="#111" stroke-width="1"/>
<line x1="314.50" y1="243.00" x2="321.30" y2="243.00" stroke="#111" stroke-width="1"/>
<text x="266.70" y="286.50" font-size="7" fill="#333333" stroke="#333333" stroke-width="0.05" text-anchor="middle" textLength="21.90" lengthAdjust="spacingAndGlyphs">Control</text>
<text x="285.30" y="286.50" font-size="7" fill="#333333" stroke="#333333" stroke-width="0.05" textLength="14.30" lengthAdjust="spacingAndGlyphs">2x20</text>
<text x="310.00" y="286.50" font-size="7" fill="#333333" stroke="#333333" stroke-width="0.05" textLength="15.00" lengthAdjust="spacingAndGlyphs">2x40</text>
<text x="281.90" y="293.30" font-size="5.2" fill="#333333" stroke="#333333" stroke-width="0.05" textLength="20.70" lengthAdjust="spacingAndGlyphs">mg/kg/d</text>
<text x="307.00" y="293.30" font-size="5.2" fill="#333333" stroke="#333333" stroke-width="0.05" textLength="21.00" lengthAdjust="spacingAndGlyphs">mg/kg/d</text>
<line x1="283.80" y1="298.50" x2="325.90" y2="298.50" stroke="#222" stroke-width="1.1"/>
<text x="290.90" y="307.80" font-size="7" fill="#333333" stroke="#333333" stroke-width="0.05" textLength="28.40" lengthAdjust="spacingAndGlyphs">Ticagrelor</text>
<text x="368.10" y="169.60" font-size="12.4" fill="#0a0a0a" stroke="#0a0a0a" stroke-width="0.35" font-weight="bold">E</text>
<line x1="395.30" y1="177.00" x2="395.30" y2="274.30" stroke="#1e1e1e" stroke-width="1.5"/>
<line x1="394.60" y1="273.60" x2="479.60" y2="273.60" stroke="#1e1e1e" stroke-width="1.5"/>
<line x1="391.80" y1="273.60" x2="395.30" y2="273.60" stroke="#222" stroke-width="1"/>
<text x="388.80" y="276.00" font-size="6.6" fill="#333333" stroke="#333333" stroke-width="0.05" text-anchor="end">0</text>
<line x1="391.80" y1="242.57" x2="395.30" y2="242.57" stroke="#222" stroke-width="1"/>
<text x="388.80" y="244.97" font-size="6.6" fill="#333333" stroke="#333333" stroke-width="0.05" text-anchor="end">1</text>
<line x1="391.80" y1="211.53" x2="395.30" y2="211.53" stroke="#222" stroke-width="1"/>
<text x="388.80" y="213.93" font-size="6.6" fill="#333333" stroke="#333333" stroke-width="0.05" text-anchor="end">2</text>
<line x1="391.80" y1="180.50" x2="395.30" y2="180.50" stroke="#222" stroke-width="1"/>
<text x="388.80" y="182.90" font-size="6.6" fill="#333333" stroke="#333333" stroke-width="0.05" text-anchor="end">3</text>
<line x1="409.30" y1="273.40" x2="409.30" y2="275.90" stroke="#222" stroke-width="1"/>
<line x1="437.50" y1="273.40" x2="437.50" y2="275.90" stroke="#222" stroke-width="1"/>
<line x1="465.50" y1="273.40" x2="465.50" y2="275.90" stroke="#222" stroke-width="1"/>
<text transform="translate(380.20,224.80) rotate(-90)" x="0" y="0" text-anchor="middle" font-size="9" fill="#333333" stroke="#333333" stroke-width="0.35" textLength="84.30" lengthAdjust="spacingAndGlyphs">De-endothelialized area (mm<tspan font-size="5.5" dy="-3.5">2</tspan><tspan dy="3.5">)</tspan></text>
<rect x="407.80" y="194.70" width="3.20" height="3.20" fill="#2aa3d6"/>
<rect x="404.00" y="206.90" width="3.20" height="3.20" fill="#2aa3d6"/>
<rect x="411.60" y="206.90" width="3.20" height="3.20" fill="#2aa3d6"/>
<rect x="404.00" y="216.40" width="3.20" height="3.20" fill="#2aa3d6"/>
<rect x="411.60" y="216.40" width="3.20" height="3.20" fill="#2aa3d6"/>
<rect x="407.80" y="226.40" width="3.20" height="3.20" fill="#2aa3d6"/>
<rect x="407.60" y="241.40" width="3.20" height="3.20" fill="#2aa3d6"/>
<rect x="407.60" y="244.90" width="3.20" height="3.20" fill="#2aa3d6"/>
<rect x="435.80" y="206.30" width="3.20" height="3.20" fill="#dc94a8"/>
<rect x="435.80" y="210.10" width="3.20" height="3.20" fill="#dc94a8"/>
<rect x="431.40" y="215.40" width="3.20" height="3.20" fill="#dc94a8"/>
<rect x="440.20" y="214.70" width="3.20" height="3.20" fill="#dc94a8"/>
<rect x="431.40" y="221.10" width="3.20" height="3.20" fill="#dc94a8"/>
<rect x="440.20" y="221.50" width="3.20" height="3.20" fill="#dc94a8"/>
<rect x="440.20" y="231.70" width="3.20" height="3.20" fill="#dc94a8"/>
<rect x="435.80" y="228.50" width="3.20" height="3.20" fill="#dc94a8"/>
<rect x="431.40" y="234.80" width="3.20" height="3.20" fill="#dc94a8"/>
<rect x="435.80" y="240.60" width="3.20" height="3.20" fill="#dc94a8"/>
<rect x="435.80" y="246.90" width="3.20" height="3.20" fill="#dc94a8"/>
<rect x="438.80" y="231.90" width="3.20" height="3.20" fill="#dc94a8"/>
<rect x="458.90" y="204.20" width="3.20" height="3.20" fill="#9c1a1e"/>
<rect x="467.10" y="204.20" width="3.20" height="3.20" fill="#9c1a1e"/>
<rect x="456.20" y="222.20" width="3.20" height="3.20" fill="#9c1a1e"/>
<rect x="463.90" y="225.30" width="3.20" height="3.20" fill="#9c1a1e"/>
<rect x="471.40" y="225.30" width="3.20" height="3.20" fill="#9c1a1e"/>
<rect x="466.90" y="227.90" width="3.20" height="3.20" fill="#9c1a1e"/>
<rect x="459.60" y="242.20" width="3.20" height="3.20" fill="#9c1a1e"/>
<rect x="467.60" y="241.60" width="3.20" height="3.20" fill="#9c1a1e"/>
<line x1="399.90" y1="220.60" x2="418.90" y2="220.60" stroke="#111" stroke-width="1"/>
<line x1="409.40" y1="215.30" x2="409.40" y2="226.30" stroke="#111" stroke-width="1"/>
<line x1="405.60" y1="215.30" x2="413.20" y2="215.30" stroke="#111" stroke-width="1"/>
<line x1="405.60" y1="226.30" x2="413.20" y2="226.30" stroke="#111" stroke-width="1"/>
<line x1="428.40" y1="226.50" x2="446.40" y2="226.50" stroke="#111" stroke-width="1"/>
<line x1="437.40" y1="222.70" x2="437.40" y2="230.10" stroke="#111" stroke-width="1"/>
<line x1="434.00" y1="222.70" x2="440.80" y2="222.70" stroke="#111" stroke-width="1"/>
<line x1="434.00" y1="230.10" x2="440.80" y2="230.10" stroke="#111" stroke-width="1"/>
<line x1="456.00" y1="225.90" x2="475.00" y2="225.90" stroke="#111" stroke-width="1"/>
<line x1="465.50" y1="220.60" x2="465.50" y2="230.10" stroke="#111" stroke-width="1"/>
<line x1="461.70" y1="220.60" x2="469.30" y2="220.60" stroke="#111" stroke-width="1"/>
<line x1="461.70" y1="230.10" x2="469.30" y2="230.10" stroke="#111" stroke-width="1"/>
<text x="409.50" y="286.50" font-size="7" fill="#333333" stroke="#333333" stroke-width="0.05" text-anchor="middle" textLength="21.50" lengthAdjust="spacingAndGlyphs">Control</text>
<text x="430.00" y="286.50" font-size="7" fill="#333333" stroke="#333333" stroke-width="0.05" textLength="14.30" lengthAdjust="spacingAndGlyphs">2x16</text>
<text x="458.90" y="286.50" font-size="7" fill="#333333" stroke="#333333" stroke-width="0.05" textLength="13.80" lengthAdjust="spacingAndGlyphs">2x40</text>
<text x="427.40" y="293.10" font-size="5.2" fill="#333333" stroke="#333333" stroke-width="0.05" textLength="20.10" lengthAdjust="spacingAndGlyphs">mg/kg/d</text>
<text x="455.40" y="293.10" font-size="5.2" fill="#333333" stroke="#333333" stroke-width="0.05" textLength="20.40" lengthAdjust="spacingAndGlyphs">mg/kg/d</text>
<line x1="427.80" y1="300.20" x2="474.80" y2="300.20" stroke="#222" stroke-width="1.1"/>
<text x="432.70" y="309.40" font-size="7" fill="#333333" stroke="#333333" stroke-width="0.05" textLength="37.50" lengthAdjust="spacingAndGlyphs">Clopidrogrel</text>
<text x="200.50" y="331.60" font-size="12.4" fill="#0a0a0a" stroke="#0a0a0a" stroke-width="0.35" font-weight="bold">F</text>
<line x1="233.60" y1="337.00" x2="233.60" y2="420.40" stroke="#1e1e1e" stroke-width="1.5"/>
<line x1="232.90" y1="419.70" x2="356.20" y2="419.70" stroke="#1e1e1e" stroke-width="1.5"/>
<line x1="229.60" y1="351.50" x2="233.60" y2="351.50" stroke="#1e1e1e" stroke-width="1"/>
<text x="226.30" y="353.80" font-size="6.7" fill="#333333" stroke="#333333" stroke-width="0.05" text-anchor="end">0</text>
<line x1="229.60" y1="364.08" x2="233.60" y2="364.08" stroke="#1e1e1e" stroke-width="1"/>
<text x="226.30" y="366.38" font-size="6.7" fill="#333333" stroke="#333333" stroke-width="0.05" text-anchor="end">20</text>
<line x1="229.60" y1="376.66" x2="233.60" y2="376.66" stroke="#1e1e1e" stroke-width="1"/>
<text x="226.30" y="378.96" font-size="6.7" fill="#333333" stroke="#333333" stroke-width="0.05" text-anchor="end">40</text>
<line x1="229.60" y1="389.24" x2="233.60" y2="389.24" stroke="#1e1e1e" stroke-width="1"/>
<text x="226.30" y="391.54" font-size="6.7" fill="#333333" stroke="#333333" stroke-width="0.05" text-anchor="end">60</text>
<line x1="229.60" y1="401.82" x2="233.60" y2="401.82" stroke="#1e1e1e" stroke-width="1"/>
<text x="226.30" y="404.12" font-size="6.7" fill="#333333" stroke="#333333" stroke-width="0.05" text-anchor="end">80</text>
<line x1="229.60" y1="414.40" x2="233.60" y2="414.40" stroke="#1e1e1e" stroke-width="1"/>
<text x="226.30" y="416.70" font-size="6.7" fill="#333333" stroke="#333333" stroke-width="0.05" text-anchor="end">100</text>
<line x1="234.70" y1="419.70" x2="234.70" y2="423.80" stroke="#1e1e1e" stroke-width="1.0"/>
<line x1="239.62" y1="419.70" x2="239.62" y2="421.60" stroke="#1e1e1e" stroke-width="0.7"/>
<line x1="244.55" y1="419.70" x2="244.55" y2="421.60" stroke="#1e1e1e" stroke-width="0.7"/>
<line x1="249.47" y1="419.70" x2="249.47" y2="421.60" stroke="#1e1e1e" stroke-width="0.7"/>
<line x1="254.40" y1="419.70" x2="254.40" y2="423.80" stroke="#1e1e1e" stroke-width="1.0"/>
<line x1="259.32" y1="419.70" x2="259.32" y2="421.60" stroke="#1e1e1e" stroke-width="0.7"/>
<line x1="264.25" y1="419.70" x2="264.25" y2="421.60" stroke="#1e1e1e" stroke-width="0.7"/>
<line x1="269.18" y1="419.70" x2="269.18" y2="421.60" stroke="#1e1e1e" stroke-width="0.7"/>
<line x1="274.10" y1="419.70" x2="274.10" y2="423.80" stroke="#1e1e1e" stroke-width="1.0"/>
<line x1="279.02" y1="419.70" x2="279.02" y2="421.60" stroke="#1e1e1e" stroke-width="0.7"/>
<line x1="283.95" y1="419.70" x2="283.95" y2="421.60" stroke="#1e1e1e" stroke-width="0.7"/>
<line x1="288.88" y1="419.70" x2="288.88" y2="421.60" stroke="#1e1e1e" stroke-width="0.7"/>
<line x1="293.80" y1="419.70" x2="293.80" y2="423.80" stroke="#1e1e1e" stroke-width="1.0"/>
<line x1="298.72" y1="419.70" x2="298.72" y2="421.60" stroke="#1e1e1e" stroke-width="0.7"/>
<line x1="303.65" y1="419.70" x2="303.65" y2="421.60" stroke="#1e1e1e" stroke-width="0.7"/>
<line x1="308.57" y1="419.70" x2="308.57" y2="421.60" stroke="#1e1e1e" stroke-width="0.7"/>
<line x1="313.50" y1="419.70" x2="313.50" y2="423.80" stroke="#1e1e1e" stroke-width="1.0"/>
<line x1="318.42" y1="419.70" x2="318.42" y2="421.60" stroke="#1e1e1e" stroke-width="0.7"/>
<line x1="323.35" y1="419.70" x2="323.35" y2="421.60" stroke="#1e1e1e" stroke-width="0.7"/>
<line x1="328.27" y1="419.70" x2="328.27" y2="421.60" stroke="#1e1e1e" stroke-width="0.7"/>
<line x1="333.20" y1="419.70" x2="333.20" y2="423.80" stroke="#1e1e1e" stroke-width="1.0"/>
<line x1="338.12" y1="419.70" x2="338.12" y2="421.60" stroke="#1e1e1e" stroke-width="0.7"/>
<line x1="343.05" y1="419.70" x2="343.05" y2="421.60" stroke="#1e1e1e" stroke-width="0.7"/>
<line x1="347.97" y1="419.70" x2="347.97" y2="421.60" stroke="#1e1e1e" stroke-width="0.7"/>
<line x1="352.90" y1="419.70" x2="352.90" y2="423.80" stroke="#1e1e1e" stroke-width="1.0"/>
<text x="254.40" y="432.70" font-size="6.5" fill="#333333" stroke="#333333" stroke-width="0.05" text-anchor="middle">1</text>
<text x="274.10" y="432.70" font-size="6.5" fill="#333333" stroke="#333333" stroke-width="0.05" text-anchor="middle">2</text>
<text x="293.80" y="432.70" font-size="6.5" fill="#333333" stroke="#333333" stroke-width="0.05" text-anchor="middle">3</text>
<text x="313.50" y="432.70" font-size="6.5" fill="#333333" stroke="#333333" stroke-width="0.05" text-anchor="middle">4</text>
<text x="333.20" y="432.70" font-size="6.5" fill="#333333" stroke="#333333" stroke-width="0.05" text-anchor="middle">5</text>
<text x="352.90" y="432.70" font-size="6.5" fill="#333333" stroke="#333333" stroke-width="0.05" text-anchor="middle">6</text>
<text x="279.60" y="445.70" font-size="9.3" fill="#333333" stroke="#333333" stroke-width="0.35" textLength="30.30" lengthAdjust="spacingAndGlyphs">Time (min)</text>
<text transform="translate(208.30,380.80) rotate(-90)" x="0" y="0" text-anchor="middle" font-size="8.7" fill="#333333" stroke="#333333" stroke-width="0.35" textLength="47.40" lengthAdjust="spacingAndGlyphs">Aggregation (%)</text>
<polyline points="233.71,351.14 234.11,351.44 234.50,350.89 234.90,350.75 235.29,350.23 235.69,348.87 236.08,348.22 236.47,348.83 236.87,347.65 237.26,347.40 237.66,348.43 238.05,347.99 238.44,348.98 238.84,349.16 239.23,350.20 239.62,350.45 240.02,352.07 240.41,353.36 240.81,353.83 241.20,355.00 241.59,355.65 241.99,355.42 242.38,356.75 242.78,356.66 243.17,356.60 243.56,357.14 243.96,359.61 244.35,360.70 244.75,362.80 245.14,364.79 245.53,366.19 245.93,367.81 246.32,368.01 246.72,368.89 247.11,368.54 247.50,369.59 247.90,370.08 248.29,369.73 248.69,370.59 249.08,371.56 249.47,373.43 249.87,373.52 250.26,374.49 250.66,373.99 251.05,375.30 251.44,374.89 251.84,374.78 252.23,376.00 252.63,376.23 253.02,377.98 253.41,377.33 253.81,378.83 254.20,378.90 254.60,379.91 254.99,378.85 255.38,376.90 255.78,380.36 256.17,381.07 256.57,380.95 256.96,379.49 257.36,380.18 257.75,378.01 258.14,380.99 258.54,380.04 258.93,378.99 259.32,378.28 259.72,382.17 260.11,383.11 260.51,379.37 260.90,382.92 261.30,381.47 261.69,380.58 262.08,381.49 262.48,383.86 262.87,384.49 263.26,380.85 263.66,383.47 264.05,380.91 264.45,384.01 264.84,382.34 265.24,384.94 265.63,385.52 266.02,383.51 266.42,385.90 266.81,382.95 267.20,382.06 267.60,384.59 267.99,382.18 268.39,383.07 268.78,384.16 269.18,385.18 269.57,383.21 269.96,382.75 270.36,386.50 270.75,384.01 271.14,386.97 271.54,386.76 271.93,384.50 272.33,384.99 272.72,385.38 273.12,386.07 273.51,385.99 273.90,385.96 274.30,386.37 274.69,387.96 275.09,386.11 275.48,385.88 275.87,387.28 276.27,385.16 276.66,385.49 277.06,388.57 277.45,386.51 277.84,386.63 278.24,384.20 278.63,386.04 279.03,386.79 279.42,384.26 279.81,386.97 280.21,387.06 280.60,384.48 281.00,387.06 281.39,386.34 281.78,387.32 282.18,385.85 282.57,387.47 282.97,387.63 283.36,384.40 283.75,384.59 284.15,387.39 284.54,388.70 284.94,385.49 285.33,386.44 285.72,387.07 286.12,385.84 286.51,386.05 286.91,385.83 287.30,386.10 287.69,387.13 288.09,385.80 288.48,386.16 288.88,387.95 289.27,384.58 289.66,387.04 290.06,387.79 290.45,385.87 290.85,385.47 291.24,388.11 291.63,385.55 292.03,385.33 292.42,386.46 292.82,387.66 293.21,384.97 293.60,385.97 294.00,386.04 294.39,388.31 294.79,386.54 295.18,388.44 295.57,385.35 295.97,386.12 296.36,387.56 296.76,388.64 297.15,386.69 297.54,385.69 297.94,385.24 298.33,387.11 298.73,385.60 299.12,388.41 299.51,388.57 299.91,385.63 300.30,386.08 300.70,388.50 301.09,387.77 301.48,388.54 301.88,386.48 302.27,385.53 302.67,386.29 303.06,388.58 303.45,386.24 303.85,386.61 304.24,386.95 304.64,386.99 305.03,386.97 305.42,389.31 305.82,385.87 306.21,385.21 306.61,389.49 307.00,389.22 307.39,389.73 307.79,387.25 308.18,389.61 308.58,389.53 308.97,386.36 309.36,388.76 309.76,389.19 310.15,388.43 310.55,387.80 310.94,386.78 311.33,387.03 311.73,386.54 312.12,385.83 312.52,388.21 312.91,386.86 313.30,389.25 313.70,385.80 314.09,389.70 314.49,388.77 314.88,389.82 315.27,389.71 315.67,389.74 316.06,388.29 316.45,385.74 316.85,389.07 317.24,386.48 317.64,387.06 318.03,388.71 318.42,388.09 318.82,387.59 319.21,389.97 319.61,388.49 320.00,387.27 320.39,386.87 320.79,389.63 321.18,387.89 321.58,389.28 321.97,387.34 322.36,386.65 322.76,388.19 323.15,389.48 323.55,386.57 323.94,389.39 324.33,390.00 324.73,389.49 325.12,389.58 325.52,385.91 325.91,388.74 326.30,389.82 326.70,386.16 327.09,387.18 327.49,387.19 327.88,388.39 328.27,387.94 328.67,388.19 329.06,389.59 329.46,386.10 329.85,386.37 330.24,386.72 330.64,386.74 331.03,386.51 331.43,390.64 331.82,390.13 332.21,386.68 332.61,388.59 333.00,387.77 333.40,387.80 333.79,387.99 334.18,389.36 334.58,389.12 334.97,388.12 335.37,387.38 335.76,388.04 336.15,387.14 336.55,389.12 336.94,389.88 337.34,388.39 337.73,387.06 338.12,387.53 338.52,388.44 338.91,389.52 339.31,390.35 339.70,388.56 340.09,390.49 340.49,389.71 340.88,388.87 341.28,388.62 341.67,389.21 342.06,390.17 342.46,388.91 342.85,390.18 343.25,389.14 343.64,388.19 344.03,389.52 344.43,390.27 344.82,387.46 345.22,389.08 345.61,389.10 346.00,391.17 346.40,391.44 346.79,388.91 347.19,391.30 347.58,390.82 347.97,388.44 348.37,389.36 348.76,387.83 349.16,390.96 349.55,390.28 349.94,391.30 350.34,390.88 350.73,390.31" fill="none" stroke="#3ab4dc" stroke-width="1.0" stroke-linejoin="round"/>
<polyline points="233.71,351.45 234.31,351.17 234.90,350.59 235.49,349.70 236.08,348.80 236.67,348.14 237.26,347.84 237.85,347.86 238.44,348.21 239.03,348.71 239.62,349.55 240.22,350.37 240.81,351.26 241.40,352.13 241.99,352.92 242.58,353.66 243.17,354.00 243.76,354.08 244.35,354.12 244.94,354.10 245.53,354.26 246.13,354.47 246.72,354.66 247.31,354.85 247.90,355.02 248.49,355.01 249.08,355.22 249.67,355.29 250.26,355.27 250.85,355.03 251.44,355.13 252.04,354.77 252.63,355.16 253.22,354.96 253.81,354.59 254.40,354.28 254.99,354.52 255.58,354.19 256.17,354.30 256.76,354.24 257.36,354.00 257.95,353.84 258.54,353.80 259.13,353.48 259.72,353.06 260.31,352.89 260.90,352.94 261.49,352.21 262.08,352.00 262.67,352.20 263.26,351.89 263.86,352.02 264.45,351.98 265.04,351.88 265.63,352.27 266.22,351.74 266.81,351.84 267.40,351.67 267.99,351.90 268.58,351.63 269.18,351.64 269.77,351.84 270.36,351.53 270.95,351.65 271.54,351.83 272.13,351.30 272.72,351.25 273.31,351.34 273.90,351.67 274.49,351.57 275.09,351.34 275.68,351.40 276.27,351.31 276.86,351.49 277.45,351.24 278.04,351.66 278.63,351.79 279.22,351.84 279.81,351.71 280.40,351.87 280.99,351.29 281.59,351.47 282.18,351.91 282.77,351.80 283.36,351.59 283.95,351.94 284.54,351.75 285.13,351.89 285.72,351.57 286.31,351.52 286.90,351.69 287.50,351.51 288.09,351.68 288.68,352.05 289.27,351.67 289.86,351.47 290.45,351.50 291.04,351.59 291.63,351.98 292.22,351.72 292.81,351.68 293.41,351.56 294.00,352.12 294.59,351.77 295.18,351.64 295.77,351.55 296.36,351.56 296.95,351.65 297.54,351.99 298.13,351.67 298.72,351.62 299.32,351.93 299.91,351.80 300.50,352.30 301.09,351.77 301.68,352.05 302.27,352.24 302.86,352.03 303.45,352.43 304.04,352.13 304.63,352.01 305.23,352.15 305.82,351.94 306.41,352.21 307.00,352.13 307.59,352.55 308.18,352.54 308.77,352.35 309.36,352.08 309.95,352.24 310.54,352.24 311.14,352.23 311.73,352.26 312.32,352.67 312.91,352.22 313.50,352.16 314.09,352.71 314.68,352.49 315.27,352.76 315.86,352.40 316.45,352.72 317.05,352.58 317.64,352.68 318.23,352.66 318.82,352.52 319.41,352.28 320.00,352.37 320.59,352.81 321.18,352.84 321.77,352.88 322.36,352.53 322.96,352.75 323.55,352.86 324.14,352.78 324.73,352.91 325.32,352.75 325.91,352.84 326.50,352.88 327.09,352.64 327.68,353.07 328.27,353.10 328.87,352.56 329.46,353.14 330.05,353.14 330.64,352.97 331.23,352.58 331.82,353.13 332.41,352.65 333.00,353.18 333.59,352.99 334.18,352.61 334.78,352.69 335.37,352.99 335.96,352.96 336.55,353.09 337.14,353.22 337.73,352.79 338.32,352.67 338.91,353.27 339.50,352.72 340.09,353.29 340.69,352.84 341.28,353.30 341.87,353.31 342.46,353.39 343.05,353.21 343.64,353.44 344.23,353.04 344.82,353.36 345.41,353.16 346.00,353.54 346.60,353.48 347.19,353.31 347.78,353.36 348.37,353.06 348.96,353.08 349.55,353.44 350.14,353.38 350.73,353.62" fill="none" stroke="#d0506e" stroke-width="0.8" stroke-linejoin="round"/>
<polyline points="233.71,351.56 234.11,351.49 234.50,351.20 234.90,350.81 235.29,350.16 235.69,349.66 236.08,348.67 236.47,348.36 236.87,348.18 237.26,347.82 237.66,347.93 238.05,347.76 238.44,348.25 238.84,348.59 239.23,349.24 239.62,349.82 240.02,350.14 240.41,350.77 240.81,351.29 241.20,351.96 241.59,352.16 241.99,351.97 242.38,352.27 242.78,351.98 243.17,352.21 243.56,352.00 243.96,351.97 244.35,352.38 244.75,352.10 245.14,352.11 245.53,352.47 245.93,352.42 246.32,352.15 246.72,352.43 247.11,352.21 247.50,352.22 247.90,351.96 248.29,352.23 248.69,352.05 249.08,352.11 249.47,352.00 249.87,351.67 250.26,351.63 250.66,351.13 251.05,351.05 251.44,350.89 251.84,351.22 252.23,351.66 252.63,350.75 253.02,351.76 253.41,351.22 253.81,351.15 254.20,351.89 254.60,351.33 254.99,351.03 255.38,351.23 255.78,351.50 256.17,350.46 256.57,351.77 256.96,350.26 257.36,351.29 257.75,351.35 258.14,350.03 258.54,351.11 258.93,350.39 259.32,350.64 259.72,349.70 260.11,349.69 260.51,349.82 260.90,350.92 261.30,349.72 261.69,350.50 262.08,350.72 262.48,350.69 262.87,349.75 263.26,349.74 263.66,349.98 264.05,350.34 264.45,349.34 264.84,350.31 265.24,350.39 265.63,350.49 266.02,349.26 266.42,350.64 266.81,349.37 267.20,349.76 267.60,350.19 267.99,350.68 268.39,349.83 268.78,350.73 269.18,350.19 269.57,349.86 269.96,349.90 270.36,349.71 270.75,349.59 271.14,349.73 271.54,350.58 271.93,351.07 272.33,349.84 272.72,349.70 273.12,351.15 273.51,350.49 273.90,350.33 274.30,350.10 274.69,350.67 275.09,351.05 275.48,350.51 275.87,350.49 276.27,349.96 276.66,351.28 277.06,349.96 277.45,350.68 277.84,351.21 278.24,350.16 278.63,351.08 279.03,351.42 279.42,350.94 279.81,351.18 280.21,350.15 280.60,350.65 281.00,350.22 281.39,351.28 281.78,350.46 282.18,350.70 282.57,351.54 282.97,351.33 283.36,351.53 283.75,350.75 284.15,350.82 284.54,351.20 284.94,350.84 285.33,350.58 285.72,350.76 286.12,350.39 286.51,350.76 286.91,351.70 287.30,351.68 287.69,351.19 288.09,351.02 288.48,350.80 288.88,350.44 289.27,350.73 289.66,351.52 290.06,351.66 290.45,350.91 290.85,351.57 291.24,351.56 291.63,351.45 292.03,351.41 292.42,351.57 292.82,350.97 293.21,351.49 293.60,350.85 294.00,351.16 294.39,351.59 294.79,351.48 295.18,350.88 295.57,351.87 295.97,351.43 296.36,351.34 296.76,350.49 297.15,351.30 297.54,350.87 297.94,351.52 298.33,351.21 298.73,351.76 299.12,351.52 299.51,351.76 299.91,351.10 300.30,351.56 300.70,351.72 301.09,351.88 301.48,351.17 301.88,351.93 302.27,351.99 302.67,351.74 303.06,352.19 303.45,352.18 303.85,351.54 304.24,351.57 304.64,351.04 305.03,352.07 305.42,352.24 305.82,351.57 306.21,351.91 306.61,351.97 307.00,352.00 307.39,351.18 307.79,352.11 308.18,351.82 308.58,351.97 308.97,351.61 309.36,351.93 309.76,352.17 310.15,351.97 310.55,352.11 310.94,351.07 311.33,351.28 311.73,351.71 312.12,352.03 312.52,351.39 312.91,352.09 313.30,352.01 313.70,351.12 314.09,351.77 314.49,351.41 314.88,351.15 315.27,351.28 315.67,351.56 316.06,351.36 316.45,351.39 316.85,351.16 317.24,351.82 317.64,351.71 318.03,352.07 318.42,352.05 318.82,351.53 319.21,352.55 319.61,351.20 320.00,351.83 320.39,351.66 320.79,351.87 321.18,351.45 321.58,352.55 321.97,351.87 322.36,351.38 322.76,352.27 323.15,351.51 323.55,352.21 323.94,351.91 324.33,352.30 324.73,352.89 325.12,352.69 325.52,352.11 325.91,352.72 326.30,352.48 326.70,352.09 327.09,351.76 327.49,352.46 327.88,352.43 328.27,353.04 328.67,353.07 329.06,352.54 329.46,352.16 329.85,352.99 330.24,351.65 330.64,351.82 331.03,352.52 331.43,352.60 331.82,351.89 332.21,352.63 332.61,353.03 333.00,352.26 333.40,352.34 333.79,352.03 334.18,352.14 334.58,353.17 334.97,352.28 335.37,353.17 335.76,353.11 336.15,352.65 336.55,352.16 336.94,353.26 337.34,352.55 337.73,352.45 338.12,352.32 338.52,353.35 338.91,352.63 339.31,352.35 339.70,352.66 340.09,352.15 340.49,352.93 340.88,352.69 341.28,352.49 341.67,353.25 342.06,353.35 342.46,352.14 342.85,352.96 343.25,352.59 343.64,353.62 344.03,353.41 344.43,352.63 344.82,352.69 345.22,352.54 345.61,353.82 346.00,352.79 346.40,353.29 346.79,353.11 347.19,353.39 347.58,353.34 347.97,353.57 348.37,352.64 348.76,353.62 349.16,352.94 349.55,353.30 349.94,353.01 350.34,352.95 350.73,353.31" fill="none" stroke="#2e4a78" stroke-width="0.9" stroke-linejoin="round"/>
<line x1="234.20" y1="347.80" x2="234.20" y2="356.50" stroke="#333" stroke-width="1.2"/>
<text x="236.80" y="400.60" font-size="7" fill="#4cb8de" stroke="#4cb8de" stroke-width="0.05" textLength="21.80" lengthAdjust="spacingAndGlyphs">Control</text>
<text x="236.80" y="407.60" font-size="7" fill="#cc4464" stroke="#cc4464" stroke-width="0.05" textLength="71.50" lengthAdjust="spacingAndGlyphs">Ticagrelor 2x20mg/kg/d</text>
<text x="236.80" y="415.00" font-size="7" fill="#34568a" stroke="#34568a" stroke-width="0.05" textLength="76.10" lengthAdjust="spacingAndGlyphs">Clopidogrel 2x16mg/kg/d</text>
<text x="366.20" y="332.00" font-size="12.4" fill="#0a0a0a" stroke="#0a0a0a" stroke-width="0.35" font-weight="bold">G</text>
<line x1="394.40" y1="340.70" x2="394.40" y2="420.90" stroke="#1e1e1e" stroke-width="1.5"/>
<line x1="393.70" y1="420.20" x2="506.20" y2="420.20" stroke="#1e1e1e" stroke-width="1.5"/>
<line x1="391.00" y1="420.20" x2="394.60" y2="420.20" stroke="#222" stroke-width="1"/>
<text x="388.80" y="422.60" font-size="6.6" fill="#333333" stroke="#333333" stroke-width="0.05" text-anchor="end">0</text>
<line x1="391.00" y1="404.94" x2="394.60" y2="404.94" stroke="#222" stroke-width="1"/>
<text x="388.80" y="407.34" font-size="6.6" fill="#333333" stroke="#333333" stroke-width="0.05" text-anchor="end">5</text>
<line x1="391.00" y1="389.68" x2="394.60" y2="389.68" stroke="#222" stroke-width="1"/>
<text x="388.80" y="392.08" font-size="6.6" fill="#333333" stroke="#333333" stroke-width="0.05" text-anchor="end">10</text>
<line x1="391.00" y1="374.42" x2="394.60" y2="374.42" stroke="#222" stroke-width="1"/>
<text x="388.80" y="376.82" font-size="6.6" fill="#333333" stroke="#333333" stroke-width="0.05" text-anchor="end">15</text>
<line x1="391.00" y1="359.16" x2="394.60" y2="359.16" stroke="#222" stroke-width="1"/>
<text x="388.80" y="361.56" font-size="6.6" fill="#333333" stroke="#333333" stroke-width="0.05" text-anchor="end">20</text>
<line x1="391.00" y1="343.90" x2="394.60" y2="343.90" stroke="#222" stroke-width="1"/>
<text x="388.80" y="346.30" font-size="6.6" fill="#333333" stroke="#333333" stroke-width="0.05" text-anchor="end">25</text>
<line x1="413.20" y1="420.20" x2="413.20" y2="422.80" stroke="#222" stroke-width="1"/>
<line x1="450.30" y1="420.20" x2="450.30" y2="422.80" stroke="#222" stroke-width="1"/>
<line x1="487.70" y1="420.20" x2="487.70" y2="422.80" stroke="#222" stroke-width="1"/>
<text transform="translate(374.60,380.60) rotate(-90)" x="0" y="0" text-anchor="middle" font-size="9.3" fill="#333333" stroke="#333333" stroke-width="0.35" textLength="56.30" lengthAdjust="spacingAndGlyphs">Bleeding time (min)</text>
<path d="M412.6,351.7 L412.6,348.5 L449.6,348.5 L449.6,351.7" fill="none" stroke="#222" stroke-width="0.9"/>
<path d="M412.6,343.3 L412.6,340.4 L490,340.4 L490,343.3" fill="none" stroke="#222" stroke-width="0.9"/>
<text x="430.70" y="347.00" font-size="6" fill="#333333" stroke="#333333" stroke-width="0.05" text-anchor="middle">*</text>
<text x="451.10" y="339.00" font-size="6" fill="#333333" stroke="#333333" stroke-width="0.05" text-anchor="middle">*</text>
<path d="M410.60,403.30 L412.30,406.27 L408.90,406.27 Z" fill="#2f94b0"/>
<path d="M408.00,407.60 L409.70,410.57 L406.30,410.57 Z" fill="#2f94b0"/>
<path d="M413.00,407.90 L414.70,410.88 L411.30,410.88 Z" fill="#2f94b0"/>
<path d="M416.00,406.90 L417.70,409.88 L414.30,409.88 Z" fill="#2f94b0"/>
<path d="M420.00,407.10 L421.70,410.07 L418.30,410.07 Z" fill="#2f94b0"/>
<path d="M405.50,407.10 L407.20,410.07 L403.80,410.07 Z" fill="#2f94b0"/>
<path d="M445.70,354.60 L447.30,357.40 L444.10,357.40 Z" fill="#1f4f75"/>
<path d="M455.40,353.00 L457.00,355.80 L453.80,355.80 Z" fill="#1f4f75"/>
<path d="M450.30,356.50 L451.90,359.30 L448.70,359.30 Z" fill="#1f4f75"/>
<path d="M450.30,398.00 L451.90,400.80 L448.70,400.80 Z" fill="#1f4f75"/>
<rect x="480.90" y="349.00" width="3.40" height="3.40" fill="#c8102e"/>
<rect x="486.70" y="354.10" width="3.40" height="3.40" fill="#c8102e"/>
<rect x="486.00" y="361.00" width="3.40" height="3.40" fill="#c8102e"/>
<rect x="491.10" y="358.00" width="3.40" height="3.40" fill="#c8102e"/>
<line x1="403.80" y1="408.10" x2="422.40" y2="408.10" stroke="#111" stroke-width="1.3"/>
<line x1="413.10" y1="407.20" x2="413.10" y2="409.00" stroke="#111" stroke-width="1.3"/>
<line x1="410.60" y1="407.20" x2="415.60" y2="407.20" stroke="#111" stroke-width="1.3"/>
<line x1="410.60" y1="409.00" x2="415.60" y2="409.00" stroke="#111" stroke-width="1.3"/>
<line x1="441.00" y1="366.90" x2="459.60" y2="366.90" stroke="#111" stroke-width="1"/>
<line x1="450.30" y1="356.20" x2="450.30" y2="377.60" stroke="#111" stroke-width="1"/>
<line x1="445.80" y1="356.20" x2="454.80" y2="356.20" stroke="#111" stroke-width="1"/>
<line x1="445.80" y1="377.60" x2="454.80" y2="377.60" stroke="#111" stroke-width="1"/>
<line x1="478.50" y1="357.40" x2="497.30" y2="357.40" stroke="#111" stroke-width="1"/>
<line x1="487.90" y1="354.60" x2="487.90" y2="359.80" stroke="#111" stroke-width="1"/>
<line x1="483.90" y1="354.60" x2="491.90" y2="354.60" stroke="#111" stroke-width="1"/>
<line x1="483.90" y1="359.80" x2="491.90" y2="359.80" stroke="#111" stroke-width="1"/>
<text x="413.10" y="432.60" font-size="7" fill="#333333" stroke="#333333" stroke-width="0.05" text-anchor="middle" textLength="21.50" lengthAdjust="spacingAndGlyphs">Control</text>
<text x="450.70" y="432.60" font-size="7" fill="#333333" stroke="#333333" stroke-width="0.05" text-anchor="middle" textLength="29.10" lengthAdjust="spacingAndGlyphs">Ticagrelor</text>
<text x="488.30" y="432.60" font-size="7" fill="#333333" stroke="#333333" stroke-width="0.05" text-anchor="middle" textLength="37.20" lengthAdjust="spacingAndGlyphs">Clopidrogrel</text>
<text x="450.50" y="438.40" font-size="3.6" fill="#333333" stroke="#333333" stroke-width="0.05" text-anchor="middle" textLength="22.60" lengthAdjust="spacingAndGlyphs">2x20mg/kg/d</text>
<text x="488.60" y="438.40" font-size="3.6" fill="#333333" stroke="#333333" stroke-width="0.05" text-anchor="middle" textLength="24.80" lengthAdjust="spacingAndGlyphs">2x16mg/kg/d</text>
<text x="7.50" y="469.30" font-size="12.4" fill="#0a0a0a" stroke="#0a0a0a" stroke-width="0.35" font-weight="bold">H</text>
<line x1="53.00" y1="483.50" x2="235.50" y2="483.50" stroke="#c42a5e" stroke-width="1.3"/>
<path d="M50,483.5 L56,480.9 L56,486.1 Z" fill="#c42a5e"/>
<path d="M239,483.5 L233,480.9 L233,486.1 Z" fill="#c42a5e"/>
<text x="99.80" y="478.00" font-size="8.6" fill="#c42a5e" stroke="#c42a5e" stroke-width="0.05" textLength="88.20" lengthAdjust="spacingAndGlyphs">1.25% cholesterol diet</text>
<line x1="48.80" y1="509.40" x2="249.00" y2="509.40" stroke="#111" stroke-width="1.1"/>
<path d="M248.5,507.6 L252,509.4 L248.5,511.2 Z" fill="#111"/>
<line x1="53.30" y1="502.50" x2="53.30" y2="513.40" stroke="#111" stroke-width="0.9"/>
<path d="M52.0,512 L53.3,514.6 L54.599999999999994,512 Z" fill="#111"/>
<line x1="89.30" y1="502.50" x2="89.30" y2="513.40" stroke="#111" stroke-width="0.9"/>
<path d="M88.0,512 L89.3,514.6 L90.6,512 Z" fill="#111"/>
<line x1="157.70" y1="502.50" x2="157.70" y2="513.40" stroke="#111" stroke-width="0.9"/>
<path d="M156.39999999999998,512 L157.7,514.6 L159.0,512 Z" fill="#111"/>
<line x1="236.50" y1="502.50" x2="236.50" y2="513.40" stroke="#111" stroke-width="0.9"/>
<path d="M235.2,512 L236.5,514.6 L237.8,512 Z" fill="#111"/>
<line x1="89.30" y1="512.20" x2="157.70" y2="512.20" stroke="#6f9ed0" stroke-width="0.9"/>
<text x="70.00" y="491.30" font-size="7" fill="#7cc27a" stroke="#7cc27a" stroke-width="0.05" textLength="39.50" lengthAdjust="spacingAndGlyphs">Endovascular</text>
<text x="81.80" y="499.50" font-size="7" fill="#7cc27a" stroke="#7cc27a" stroke-width="0.05" textLength="15.70" lengthAdjust="spacingAndGlyphs">injury</text>
<g transform="translate(13.7,448)"><path d="M11.4,57.6 L13.2,54.6 C14.6,52.6 17.5,52.4 19.8,53.4 C23,53.2 25.6,55.4 25.6,58.4 C25.6,61.4 23.2,63.1 20.2,63.3 L15.6,63.1 C13.6,62.3 12.2,60.2 11.4,57.6 Z" fill="#594d4a"/><circle cx="14.4" cy="53.8" r="1.4" fill="#4a3f3d"/><circle cx="18.7" cy="53.4" r="1.7" fill="#b08a8e"/><path d="M15.3,62.5 L15.3,64.6 M21.3,62.5 L21.3,65.6" stroke="#4a3f3d" stroke-width="1.1"/><path d="M25.3,57.6 Q28,55.4 31.7,56.3" stroke="#e3c4c4" stroke-width="0.9" fill="none"/><path d="M16,56 l2,1 M20,58 l2,-1" stroke="#6e625e" stroke-width="0.6"/></g>
<text x="20.50" y="522.00" font-size="7" fill="#333333" stroke="#333333" stroke-width="0.05" textLength="18.50" lengthAdjust="spacingAndGlyphs">LDLR<tspan font-size="4" dy="-3">-/-</tspan></text>
<text x="53.30" y="522.00" font-size="7" fill="#333333" stroke="#333333" stroke-width="0.05" text-anchor="middle">0</text>
<text x="89.60" y="522.00" font-size="7" fill="#333333" stroke="#333333" stroke-width="0.05" text-anchor="middle">14</text>
<text x="158.00" y="521.50" font-size="7" fill="#333333" stroke="#333333" stroke-width="0.05" text-anchor="middle">19</text>
<text x="236.40" y="522.40" font-size="7" fill="#333333" stroke="#333333" stroke-width="0.05" text-anchor="middle">35</text>
<text x="244.60" y="522.00" font-size="7" fill="#333333" stroke="#333333" stroke-width="0.05" textLength="13.60" lengthAdjust="spacingAndGlyphs">days</text>
<text x="109.00" y="521.50" font-size="7" fill="#3c7cc0" stroke="#3c7cc0" stroke-width="0.05" textLength="29.40" lengthAdjust="spacingAndGlyphs">Treatment</text>
<text x="110.30" y="529.50" font-size="7" fill="#333333" stroke="#333333" stroke-width="0.05" textLength="28.10" lengthAdjust="spacingAndGlyphs">Ticagrelor</text>
<text x="107.00" y="537.40" font-size="7" fill="#333333" stroke="#333333" stroke-width="0.05" textLength="35.30" lengthAdjust="spacingAndGlyphs">Clopidogrel</text>
<text x="115.50" y="545.80" font-size="7" fill="#333333" stroke="#333333" stroke-width="0.05" textLength="17.00" lengthAdjust="spacingAndGlyphs">Water</text>
<text x="212.30" y="529.20" font-size="7" fill="#7cc27a" stroke="#7cc27a" stroke-width="0.05" textLength="50.00" lengthAdjust="spacingAndGlyphs">Immunohistology</text>
<text x="225.40" y="537.00" font-size="7" fill="#7cc27a" stroke="#7cc27a" stroke-width="0.05" textLength="23.50" lengthAdjust="spacingAndGlyphs">analysis</text>
<path d="M234.4,541 L236.9,546 L239.4,541 M236.9,546 L236.9,553" fill="none" stroke="#d04058" stroke-width="1.1"/>
<text x="242.30" y="550.80" font-size="7" fill="#333333" stroke="#333333" stroke-width="0.05" textLength="21.50" lengthAdjust="spacingAndGlyphs">Carotid</text>
<text x="245.00" y="558.50" font-size="7" fill="#333333" stroke="#333333" stroke-width="0.05" textLength="16.20" lengthAdjust="spacingAndGlyphs">artery</text>
<path d="M95.5,577 L100,571.3 L238,573.6 L238,575 Q170,578.2 102,582.2 Z" fill="#f5b022"/>
<path d="M85,570.3 L96,577.2 L101,582" stroke="#e890a8" stroke-width="1.1" fill="none" stroke-dasharray="0.9 1.2"/>
<text x="71.70" y="557.50" font-size="7" fill="#3c7cc0" stroke="#3c7cc0" stroke-width="0.05" textLength="24.10" lengthAdjust="spacingAndGlyphs">Ligation</text>
<line x1="60.80" y1="559.60" x2="81.00" y2="569.20" stroke="#333" stroke-width="0.8"/>
<line x1="62.00" y1="569.50" x2="84.00" y2="569.50" stroke="#333" stroke-width="0.8"/>
<text x="59.20" y="568.30" font-size="7" fill="#333333" stroke="#333333" stroke-width="0.05" textLength="7.00" lengthAdjust="spacingAndGlyphs">IC</text>
<ellipse cx="84.4" cy="569.4" rx="2.6" ry="1.9" fill="#2a72b8"/>
<line x1="84.00" y1="570.20" x2="238.50" y2="573.30" stroke="#c93058" stroke-width="1.3"/>
<line x1="100.00" y1="591.20" x2="238.50" y2="589.30" stroke="#c93058" stroke-width="1.3"/>
<line x1="84" y1="570.2" x2="238.5" y2="573.3" stroke="#7a1e30" stroke-width="1.3" stroke-dasharray="0.9 1.6"/>
<line x1="100" y1="591.2" x2="238.5" y2="589.3" stroke="#7a1e30" stroke-width="1.3" stroke-dasharray="0.9 1.6"/>
<line x1="61.20" y1="587.70" x2="99.50" y2="580.40" stroke="#3b8a4a" stroke-width="1.2"/>
<line x1="60.20" y1="598.50" x2="101.00" y2="592.10" stroke="#3b8a4a" stroke-width="1.2"/>
<text x="59.20" y="596.00" font-size="7" fill="#333333" stroke="#333333" stroke-width="0.05" textLength="9.60" lengthAdjust="spacingAndGlyphs">EC</text>
<line x1="101.60" y1="561.00" x2="101.60" y2="603.60" stroke="#555" stroke-width="0.8"/>
<line x1="160.80" y1="561.00" x2="160.80" y2="603.60" stroke="#555" stroke-width="0.8"/>
<line x1="221.70" y1="561.00" x2="221.70" y2="603.60" stroke="#555" stroke-width="0.8"/>
<text x="107.80" y="579.00" font-size="7" fill="#3a2a00" stroke="#3a2a00" stroke-width="0.05" textLength="46.80" lengthAdjust="spacingAndGlyphs">Atherosclerosis</text>
<text x="106.90" y="585.80" font-size="7" fill="#c93058" stroke="#c93058" stroke-width="0.05" textLength="50.10" lengthAdjust="spacingAndGlyphs">Endothelial injury</text>
<text x="101.70" y="612.80" font-size="7" fill="#333333" stroke="#333333" stroke-width="0.05" text-anchor="middle" textLength="14.40" lengthAdjust="spacingAndGlyphs">0 μm</text>
<text x="160.80" y="612.80" font-size="7" fill="#333333" stroke="#333333" stroke-width="0.05" text-anchor="middle" textLength="19.60" lengthAdjust="spacingAndGlyphs">50 μm</text>
<text x="221.70" y="612.80" font-size="7" fill="#333333" stroke="#333333" stroke-width="0.05" text-anchor="middle" textLength="23.00" lengthAdjust="spacingAndGlyphs">100 μm</text>
<text x="31.30" y="634.80" font-size="12.4" fill="#0a0a0a" stroke="#0a0a0a" stroke-width="0.35" font-weight="bold">I</text>
<line x1="73.90" y1="625.00" x2="73.90" y2="726.10" stroke="#1e1e1e" stroke-width="1.5"/>
<line x1="73.20" y1="725.40" x2="240.20" y2="725.40" stroke="#1e1e1e" stroke-width="1.5"/>
<line x1="69.50" y1="725.40" x2="73.80" y2="725.40" stroke="#222" stroke-width="1"/>
<text x="67.60" y="727.80" font-size="6.6" fill="#333333" stroke="#333333" stroke-width="0.05" text-anchor="end">0</text>
<line x1="69.50" y1="701.05" x2="73.80" y2="701.05" stroke="#222" stroke-width="1"/>
<text x="67.60" y="703.45" font-size="6.6" fill="#333333" stroke="#333333" stroke-width="0.05" text-anchor="end">2</text>
<line x1="69.50" y1="676.70" x2="73.80" y2="676.70" stroke="#222" stroke-width="1"/>
<text x="67.60" y="679.10" font-size="6.6" fill="#333333" stroke="#333333" stroke-width="0.05" text-anchor="end">4</text>
<line x1="69.50" y1="652.35" x2="73.80" y2="652.35" stroke="#222" stroke-width="1"/>
<text x="67.60" y="654.75" font-size="6.6" fill="#333333" stroke="#333333" stroke-width="0.05" text-anchor="end">6</text>
<line x1="69.50" y1="628.00" x2="73.80" y2="628.00" stroke="#222" stroke-width="1"/>
<text x="67.60" y="630.40" font-size="6.6" fill="#333333" stroke="#333333" stroke-width="0.05" text-anchor="end">8</text>
<line x1="107.80" y1="725.40" x2="107.80" y2="728.20" stroke="#222" stroke-width="1"/>
<line x1="168.45" y1="725.40" x2="168.45" y2="728.20" stroke="#222" stroke-width="1"/>
<line x1="229.10" y1="725.40" x2="229.10" y2="728.20" stroke="#222" stroke-width="1"/>
<text x="107.80" y="737.40" font-size="6.6" fill="#333333" stroke="#333333" stroke-width="0.05" text-anchor="middle">0</text>
<text x="168.45" y="737.40" font-size="6.6" fill="#333333" stroke="#333333" stroke-width="0.05" text-anchor="middle">50</text>
<text x="229.10" y="737.40" font-size="6.6" fill="#333333" stroke="#333333" stroke-width="0.05" text-anchor="middle">100</text>
<text x="101.80" y="750.70" font-size="9" fill="#333333" stroke="#333333" stroke-width="0.35" textLength="109.60" lengthAdjust="spacingAndGlyphs">Distance from carotid bifurcation (μm)</text>
<text transform="translate(47.20,675.20) rotate(-90)" x="0" y="0" text-anchor="middle" font-size="9.7" fill="#333333" stroke="#333333" stroke-width="0.35" textLength="73.90" lengthAdjust="spacingAndGlyphs">Atherosclerotic lesion size</text>
<text transform="translate(57.30,677.70) rotate(-90)" x="0" y="0" text-anchor="middle" font-size="9.7" fill="#333333" stroke="#333333" stroke-width="0.35" textLength="37.30" lengthAdjust="spacingAndGlyphs">(x10<tspan font-size="6" dy="-3.5">4</tspan><tspan dy="3.5"> μm</tspan><tspan font-size="6" dy="-3.5">2</tspan><tspan dy="3.5">)</tspan></text>
<line x1="107.80" y1="644.20" x2="107.80" y2="675.00" stroke="#2a2a2a" stroke-width="1.1"/>
<line x1="105.10" y1="644.20" x2="110.50" y2="644.20" stroke="#2a2a2a" stroke-width="1.1"/>
<line x1="105.10" y1="675.00" x2="110.50" y2="675.00" stroke="#2a2a2a" stroke-width="1.1"/>
<line x1="168.50" y1="655.90" x2="168.50" y2="689.50" stroke="#2a2a2a" stroke-width="1.1"/>
<line x1="165.80" y1="655.90" x2="171.20" y2="655.90" stroke="#2a2a2a" stroke-width="1.1"/>
<line x1="165.80" y1="689.50" x2="171.20" y2="689.50" stroke="#2a2a2a" stroke-width="1.1"/>
<line x1="229.10" y1="664.20" x2="229.10" y2="692.50" stroke="#2a2a2a" stroke-width="1.1"/>
<line x1="226.40" y1="664.20" x2="231.80" y2="664.20" stroke="#2a2a2a" stroke-width="1.1"/>
<line x1="226.40" y1="692.50" x2="231.80" y2="692.50" stroke="#2a2a2a" stroke-width="1.1"/>
<line x1="107.80" y1="695.60" x2="107.80" y2="711.00" stroke="#2a2a2a" stroke-width="1.1"/>
<line x1="105.10" y1="695.60" x2="110.50" y2="695.60" stroke="#2a2a2a" stroke-width="1.1"/>
<line x1="105.10" y1="711.00" x2="110.50" y2="711.00" stroke="#2a2a2a" stroke-width="1.1"/>
<line x1="168.50" y1="695.60" x2="168.50" y2="706.70" stroke="#2a2a2a" stroke-width="1.1"/>
<line x1="165.80" y1="695.60" x2="171.20" y2="695.60" stroke="#2a2a2a" stroke-width="1.1"/>
<line x1="165.80" y1="706.70" x2="171.20" y2="706.70" stroke="#2a2a2a" stroke-width="1.1"/>
<line x1="229.10" y1="699.60" x2="229.10" y2="708.20" stroke="#2a2a2a" stroke-width="1.1"/>
<line x1="226.40" y1="699.60" x2="231.80" y2="699.60" stroke="#2a2a2a" stroke-width="1.1"/>
<line x1="226.40" y1="708.20" x2="231.80" y2="708.20" stroke="#2a2a2a" stroke-width="1.1"/>
<path d="M107.8,655.9 L168.5,667.3 L229.1,672.8" fill="none" stroke="#3eb0dc" stroke-width="1.3" stroke-dasharray="2.6 1"/>
<circle cx="107.80" cy="655.90" r="2.40" fill="#3eb0dc"/>
<circle cx="168.50" cy="667.30" r="2.40" fill="#3eb0dc"/>
<circle cx="229.10" cy="672.80" r="2.40" fill="#3eb0dc"/>
<path d="M107.8,664.8 L168.5,679.6 L229.1,679.6" fill="none" stroke="#c8173a" stroke-width="1.3" stroke-dasharray="2.6 1"/>
<circle cx="107.80" cy="664.80" r="2.40" fill="#c8173a"/>
<circle cx="168.50" cy="679.60" r="2.40" fill="#c8173a"/>
<circle cx="229.10" cy="679.60" r="2.40" fill="#c8173a"/>
<path d="M107.8,704.2 L168.5,701.2 L229.1,704.2" fill="none" stroke="#1f4a75" stroke-width="1.3" stroke-dasharray="2.6 1"/>
<circle cx="107.80" cy="704.20" r="2.40" fill="#1f4a75"/>
<circle cx="168.50" cy="701.20" r="2.40" fill="#1f4a75"/>
<circle cx="229.10" cy="704.20" r="2.40" fill="#1f4a75"/>
<text x="107.80" y="696.60" font-size="5" fill="#333333" stroke="#333333" stroke-width="0.05" text-anchor="middle">**</text>
<text x="168.50" y="695.80" font-size="5" fill="#333333" stroke="#333333" stroke-width="0.05" text-anchor="middle">*</text>
<text x="229.10" y="700.20" font-size="5" fill="#333333" stroke="#333333" stroke-width="0.05" text-anchor="middle">*</text>
<line x1="190.00" y1="629.00" x2="203.00" y2="629.00" stroke="#3eb0dc" stroke-width="1.1"/>
<circle cx="196.50" cy="629.00" r="1.90" fill="#3eb0dc"/>
<text x="205.90" y="631.50" font-size="7" fill="#333333" stroke="#333333" stroke-width="0.05" textLength="21.50" lengthAdjust="spacingAndGlyphs">Control</text>
<line x1="190.00" y1="639.80" x2="203.00" y2="639.80" stroke="#1f4a75" stroke-width="1.1"/>
<circle cx="196.50" cy="639.80" r="1.90" fill="#1f4a75"/>
<text x="205.90" y="642.30" font-size="7" fill="#333333" stroke="#333333" stroke-width="0.05" textLength="29.00" lengthAdjust="spacingAndGlyphs">Ticagrelor</text>
<line x1="190.00" y1="651.20" x2="203.00" y2="651.20" stroke="#c8173a" stroke-width="1.1"/>
<circle cx="196.50" cy="651.20" r="1.90" fill="#c8173a"/>
<text x="205.90" y="653.70" font-size="7" fill="#333333" stroke="#333333" stroke-width="0.05" textLength="35.00" lengthAdjust="spacingAndGlyphs">Clopidogrel</text>
<text x="273.60" y="469.50" font-size="12.4" fill="#0a0a0a" stroke="#0a0a0a" stroke-width="0.35" font-weight="bold">J</text>
<text x="322.50" y="480.00" font-size="7" fill="#333333" stroke="#333333" stroke-width="0.05" text-anchor="middle" textLength="15.00" lengthAdjust="spacingAndGlyphs">0 μm</text>
<text x="399.30" y="479.80" font-size="7" fill="#333333" stroke="#333333" stroke-width="0.05" text-anchor="middle" textLength="20.30" lengthAdjust="spacingAndGlyphs">50 μm</text>
<text x="475.50" y="479.80" font-size="7" fill="#333333" stroke="#333333" stroke-width="0.05" text-anchor="middle" textLength="23.50" lengthAdjust="spacingAndGlyphs">100 μm</text>
<rect x="286.00" y="485.50" width="75.20" height="73.80" fill="#040404"/>
<rect x="286.00" y="561.50" width="75.20" height="73.50" fill="#040404"/>
<rect x="286.00" y="637.00" width="75.20" height="73.70" fill="#040404"/>
<rect x="363.00" y="485.50" width="74.00" height="73.80" fill="#040404"/>
<rect x="363.00" y="561.50" width="74.00" height="73.50" fill="#040404"/>
<rect x="363.00" y="637.00" width="74.00" height="73.70" fill="#040404"/>
<rect x="438.50" y="485.50" width="74.70" height="73.80" fill="#040404"/>
<rect x="438.50" y="561.50" width="74.70" height="73.50" fill="#040404"/>
<rect x="438.50" y="637.00" width="74.70" height="73.70" fill="#040404"/>
<clipPath id="cp31"><rect x="286.00" y="485.50" width="75.20" height="73.80"/></clipPath>
<g clip-path="url(#cp31)"><g transform="translate(286.00,485.50) scale(1.0027,0.9973)">
<circle cx="11.4" cy="22.5" r="1.0" fill="#e08040" opacity="0.55"/>
<circle cx="5.6" cy="21.1" r="1.0" fill="#e08040" opacity="0.55"/>
<circle cx="10.8" cy="19.8" r="1.0" fill="#e08040" opacity="0.55"/>
<circle cx="8.8" cy="23.4" r="1.1" fill="#e08040" opacity="0.55"/>
<circle cx="5.8" cy="22.5" r="1.2" fill="#e08040" opacity="0.55"/>
<circle cx="5.5" cy="23.5" r="1.5" fill="#e08040" opacity="0.55"/>
<circle cx="11.1" cy="23.4" r="0.9" fill="#e08040" opacity="0.55"/>
<circle cx="10.3" cy="23.4" r="1.2" fill="#e08040" opacity="0.55"/>
<circle cx="7.7" cy="18.6" r="1.0" fill="#e08040" opacity="0.55"/>
<circle cx="9.1" cy="23.5" r="1.5" fill="#e08040" opacity="0.55"/>
<circle cx="7.8" cy="23.2" r="0.8" fill="#e08040" opacity="0.55"/>
<circle cx="11.1" cy="21.3" r="0.6" fill="#e08040" opacity="0.55"/>
<path d="M6.00,30.00 C6.67,25.67 7.33,19.83 10.00,16.00 C12.67,12.17 17.33,9.00 22.00,7.00 C26.67,5.00 32.67,3.83 38.00,4.00 C43.33,4.17 49.50,5.67 54.00,8.00 C58.50,10.33 62.33,14.00 65.00,18.00 C67.67,22.00 69.33,27.33 70.00,32.00 C70.67,36.67 70.33,41.67 69.00,46.00 C67.67,50.33 65.17,54.67 62.00,58.00 C58.83,61.33 54.33,64.33 50.00,66.00 C45.67,67.67 40.67,68.33 36.00,68.00 C31.33,67.67 26.17,66.33 22.00,64.00 C17.83,61.67 13.67,57.67 11.00,54.00 C8.33,50.33 6.83,46.00 6.00,42.00 C5.17,38.00 5.33,34.33 6.00,30.00 Z" fill="#5444b4" opacity="0.22" filter="url(#b3)"/>
<path d="M11.50,14.00 C12.70,12.33 17.53,11.77 20.00,11.50 C22.47,11.23 27.60,11.13 30.00,12.00 C32.40,12.87 35.60,16.73 38.00,18.00 C40.40,19.27 45.20,20.50 48.00,21.50 C50.80,22.50 56.67,23.83 59.00,25.50 C61.33,27.17 64.43,31.67 65.50,34.00 C66.57,36.33 67.40,40.40 67.00,43.00 C66.60,45.60 64.10,51.50 62.50,53.50 C60.90,55.50 57.47,57.47 55.00,58.00 C52.53,58.53 46.53,57.90 44.00,57.50 C41.47,57.10 37.87,55.13 36.00,55.00 C34.13,54.87 31.87,56.30 30.00,56.50 C28.13,56.70 24.13,57.50 22.00,56.50 C19.87,55.50 15.47,51.60 14.00,49.00 C12.53,46.40 11.40,40.33 11.00,37.00 C10.60,33.67 10.93,27.07 11.00,24.00 C11.07,20.93 10.30,15.67 11.50,14.00 Z" fill="none" stroke="#5444b4" stroke-width="16.8" stroke-linejoin="round" opacity="0.7" filter="url(#b2)"/>
<clipPath id="cp32"><path d="M6.00,30.00 C6.67,25.67 7.33,19.83 10.00,16.00 C12.67,12.17 17.33,9.00 22.00,7.00 C26.67,5.00 32.67,3.83 38.00,4.00 C43.33,4.17 49.50,5.67 54.00,8.00 C58.50,10.33 62.33,14.00 65.00,18.00 C67.67,22.00 69.33,27.33 70.00,32.00 C70.67,36.67 70.33,41.67 69.00,46.00 C67.67,50.33 65.17,54.67 62.00,58.00 C58.83,61.33 54.33,64.33 50.00,66.00 C45.67,67.67 40.67,68.33 36.00,68.00 C31.33,67.67 26.17,66.33 22.00,64.00 C17.83,61.67 13.67,57.67 11.00,54.00 C8.33,50.33 6.83,46.00 6.00,42.00 C5.17,38.00 5.33,34.33 6.00,30.00 Z"/></clipPath><rect x="-2.00" y="-2.00" width="79.00" height="78.00" fill="#000" filter="url(#nzJ)" clip-path="url(#cp32)"/>
<path d="M11.50,14.00 C12.70,12.33 17.53,11.77 20.00,11.50 C22.47,11.23 27.60,11.13 30.00,12.00 C32.40,12.87 35.60,16.73 38.00,18.00 C40.40,19.27 45.20,20.50 48.00,21.50 C50.80,22.50 56.67,23.83 59.00,25.50 C61.33,27.17 64.43,31.67 65.50,34.00 C66.57,36.33 67.40,40.40 67.00,43.00 C66.60,45.60 64.10,51.50 62.50,53.50 C60.90,55.50 57.47,57.47 55.00,58.00 C52.53,58.53 46.53,57.90 44.00,57.50 C41.47,57.10 37.87,55.13 36.00,55.00 C34.13,54.87 31.87,56.30 30.00,56.50 C28.13,56.70 24.13,57.50 22.00,56.50 C19.87,55.50 15.47,51.60 14.00,49.00 C12.53,46.40 11.40,40.33 11.00,37.00 C10.60,33.67 10.93,27.07 11.00,24.00 C11.07,20.93 10.30,15.67 11.50,14.00 Z" fill="none" stroke="#d87ab0" stroke-width="6.8" opacity="0.85" filter="url(#b1)"/>
<clipPath id="cp33"><path d="M6.00,30.00 C6.67,25.67 7.33,19.83 10.00,16.00 C12.67,12.17 17.33,9.00 22.00,7.00 C26.67,5.00 32.67,3.83 38.00,4.00 C43.33,4.17 49.50,5.67 54.00,8.00 C58.50,10.33 62.33,14.00 65.00,18.00 C67.67,22.00 69.33,27.33 70.00,32.00 C70.67,36.67 70.33,41.67 69.00,46.00 C67.67,50.33 65.17,54.67 62.00,58.00 C58.83,61.33 54.33,64.33 50.00,66.00 C45.67,67.67 40.67,68.33 36.00,68.00 C31.33,67.67 26.17,66.33 22.00,64.00 C17.83,61.67 13.67,57.67 11.00,54.00 C8.33,50.33 6.83,46.00 6.00,42.00 C5.17,38.00 5.33,34.33 6.00,30.00 Z"/></clipPath><rect x="-2.00" y="-2.00" width="79.00" height="78.00" fill="#000" filter="url(#nzR)" clip-path="url(#cp33)"/>
<path d="M11.50,14.00 C12.70,12.33 17.53,11.77 20.00,11.50 C22.47,11.23 27.60,11.13 30.00,12.00 C32.40,12.87 35.60,16.73 38.00,18.00 C40.40,19.27 45.20,20.50 48.00,21.50 C50.80,22.50 56.67,23.83 59.00,25.50 C61.33,27.17 64.43,31.67 65.50,34.00 C66.57,36.33 67.40,40.40 67.00,43.00 C66.60,45.60 64.10,51.50 62.50,53.50 C60.90,55.50 57.47,57.47 55.00,58.00 C52.53,58.53 46.53,57.90 44.00,57.50 C41.47,57.10 37.87,55.13 36.00,55.00 C34.13,54.87 31.87,56.30 30.00,56.50 C28.13,56.70 24.13,57.50 22.00,56.50 C19.87,55.50 15.47,51.60 14.00,49.00 C12.53,46.40 11.40,40.33 11.00,37.00 C10.60,33.67 10.93,27.07 11.00,24.00 C11.07,20.93 10.30,15.67 11.50,14.00 Z" fill="#d87ab0" opacity="0.9" filter="url(#b05)"/>
<path d="M39.20,21.50 C40.17,21.28 46.90,21.76 48.90,22.20 C50.90,22.64 57.57,24.71 59.20,25.90 C60.83,27.09 64.46,32.40 65.20,34.10 C65.94,35.80 66.90,40.98 66.60,42.90 C66.30,44.82 63.38,51.81 62.20,53.30 C61.02,54.79 56.58,57.43 54.80,57.80 C53.02,58.17 45.88,57.60 44.40,57.00 C42.92,56.40 40.52,53.06 40.00,51.80 C39.48,50.54 38.98,45.29 39.20,44.40 C39.42,43.51 41.68,43.42 42.20,42.90 C42.72,42.38 43.88,40.01 44.40,39.20 C44.92,38.39 47.92,36.28 47.40,34.80 C46.88,33.32 40.02,25.73 39.20,24.40 C38.38,23.07 38.23,21.72 39.20,21.50 Z" fill="#8a7ea0" filter="url(#b05)"/>
<clipPath id="cp34"><path d="M39.20,21.50 C40.17,21.28 46.90,21.76 48.90,22.20 C50.90,22.64 57.57,24.71 59.20,25.90 C60.83,27.09 64.46,32.40 65.20,34.10 C65.94,35.80 66.90,40.98 66.60,42.90 C66.30,44.82 63.38,51.81 62.20,53.30 C61.02,54.79 56.58,57.43 54.80,57.80 C53.02,58.17 45.88,57.60 44.40,57.00 C42.92,56.40 40.52,53.06 40.00,51.80 C39.48,50.54 38.98,45.29 39.20,44.40 C39.42,43.51 41.68,43.42 42.20,42.90 C42.72,42.38 43.88,40.01 44.40,39.20 C44.92,38.39 47.92,36.28 47.40,34.80 C46.88,33.32 40.02,25.73 39.20,24.40 C38.38,23.07 38.23,21.72 39.20,21.50 Z"/></clipPath><rect x="-2.00" y="-2.00" width="79.00" height="78.00" fill="#000" filter="url(#nzP)" clip-path="url(#cp34)"/>
<clipPath id="cp35"><path d="M39.20,21.50 C40.17,21.28 46.90,21.76 48.90,22.20 C50.90,22.64 57.57,24.71 59.20,25.90 C60.83,27.09 64.46,32.40 65.20,34.10 C65.94,35.80 66.90,40.98 66.60,42.90 C66.30,44.82 63.38,51.81 62.20,53.30 C61.02,54.79 56.58,57.43 54.80,57.80 C53.02,58.17 45.88,57.60 44.40,57.00 C42.92,56.40 40.52,53.06 40.00,51.80 C39.48,50.54 38.98,45.29 39.20,44.40 C39.42,43.51 41.68,43.42 42.20,42.90 C42.72,42.38 43.88,40.01 44.40,39.20 C44.92,38.39 47.92,36.28 47.40,34.80 C46.88,33.32 40.02,25.73 39.20,24.40 C38.38,23.07 38.23,21.72 39.20,21.50 Z"/></clipPath><rect x="-2.00" y="-2.00" width="79.00" height="78.00" fill="#000" filter="url(#nzD)" clip-path="url(#cp35)"/>
<path d="M11.80,13.30 C14.88,11.70 25.52,11.37 29.60,12.60 C33.68,13.83 34.70,18.73 36.30,20.70 C37.90,22.67 37.35,22.05 39.20,24.40 C41.05,26.75 46.53,32.33 47.40,34.80 C48.27,37.27 45.27,37.85 44.40,39.20 C43.53,40.55 43.07,42.03 42.20,42.90 C41.33,43.77 40.43,43.40 39.20,44.40 C37.97,45.40 36.03,47.17 34.80,48.90 C33.57,50.63 33.90,53.57 31.80,54.80 C29.70,56.03 25.15,57.28 22.20,56.30 C19.25,55.32 15.95,52.12 14.10,48.90 C12.25,45.68 11.60,41.45 11.10,37.00 C10.60,32.55 10.98,26.15 11.10,22.20 C11.22,18.25 8.72,14.90 11.80,13.30 Z" fill="#050505" filter="url(#b05)"/>
<path d="M39.20,21.50 C40.17,21.28 46.90,21.76 48.90,22.20 C50.90,22.64 57.57,24.71 59.20,25.90 C60.83,27.09 64.46,32.40 65.20,34.10 C65.94,35.80 66.90,40.98 66.60,42.90 C66.30,44.82 63.38,51.81 62.20,53.30 C61.02,54.79 56.58,57.43 54.80,57.80 C53.02,58.17 45.88,57.60 44.40,57.00 C42.92,56.40 40.52,53.06 40.00,51.80 C39.48,50.54 38.98,45.29 39.20,44.40 C39.42,43.51 41.68,43.42 42.20,42.90 C42.72,42.38 43.88,40.01 44.40,39.20 C44.92,38.39 47.92,36.28 47.40,34.80 C46.88,33.32 40.02,25.73 39.20,24.40 C38.38,23.07 38.23,21.72 39.20,21.50 Z" fill="none" stroke="#f4f4f4" stroke-width="0.8" opacity="0.9"/>
<rect x="58.5" y="5.2" width="11.5" height="1.3" fill="#eeeeee"/>
</g></g>
<clipPath id="cp36"><rect x="363.00" y="485.50" width="74.00" height="73.80"/></clipPath>
<g clip-path="url(#cp36)"><g transform="translate(363.00,485.50) scale(0.9867,0.9973)">
<circle cx="2.9" cy="37.1" r="1.3" fill="#d06a40" opacity="0.55"/>
<circle cx="4.6" cy="34.2" r="1.0" fill="#d06a40" opacity="0.55"/>
<circle cx="10.1" cy="36.6" r="0.7" fill="#d06a40" opacity="0.55"/>
<circle cx="1.4" cy="37.0" r="1.0" fill="#d06a40" opacity="0.55"/>
<circle cx="11.7" cy="30.0" r="1.0" fill="#d06a40" opacity="0.55"/>
<circle cx="11.1" cy="31.9" r="1.5" fill="#d06a40" opacity="0.55"/>
<circle cx="13.6" cy="30.3" r="0.6" fill="#d06a40" opacity="0.55"/>
<circle cx="8.6" cy="37.9" r="0.9" fill="#d06a40" opacity="0.55"/>
<circle cx="4.0" cy="33.5" r="0.6" fill="#d06a40" opacity="0.55"/>
<path d="M2.50,36.00 C2.83,31.67 5.08,27.17 8.00,24.00 C10.92,20.83 15.50,18.50 20.00,17.00 C24.50,15.50 30.83,14.83 35.00,15.00 C39.17,15.17 41.17,16.50 45.00,18.00 C48.83,19.50 54.17,21.67 58.00,24.00 C61.83,26.33 65.58,28.67 68.00,32.00 C70.42,35.33 72.50,40.00 72.50,44.00 C72.50,48.00 70.42,52.67 68.00,56.00 C65.58,59.33 62.00,62.17 58.00,64.00 C54.00,65.83 48.67,66.67 44.00,67.00 C39.33,67.33 34.67,67.17 30.00,66.00 C25.33,64.83 20.00,62.67 16.00,60.00 C12.00,57.33 8.25,54.00 6.00,50.00 C3.75,46.00 2.17,40.33 2.50,36.00 Z" fill="#5444b4" opacity="0.22" filter="url(#b3)"/>
<path d="M7.00,34.00 C6.81,31.41 7.00,26.93 9.00,25.00 C11.00,23.07 18.67,20.23 22.00,19.50 C25.33,18.77 31.60,19.17 34.00,19.50 C36.40,19.83 38.00,21.53 40.00,22.00 C42.00,22.47 46.47,22.20 49.00,23.00 C51.53,23.80 56.65,26.33 59.00,28.00 C61.35,29.67 65.19,33.31 66.60,35.50 C68.01,37.69 69.60,42.03 69.60,44.40 C69.60,46.77 67.99,51.42 66.60,53.30 C65.21,55.18 61.76,57.71 59.20,58.50 C56.64,59.29 50.16,59.29 47.40,59.20 C44.64,59.11 40.82,58.36 38.50,57.80 C36.18,57.24 32.20,55.77 30.00,55.00 C27.80,54.23 24.61,53.41 22.00,52.00 C19.39,50.59 12.40,46.80 10.40,44.40 C8.40,42.00 7.19,36.59 7.00,34.00 Z" fill="none" stroke="#5444b4" stroke-width="15.2" stroke-linejoin="round" opacity="0.7" filter="url(#b2)"/>
<clipPath id="cp37"><path d="M2.50,36.00 C2.83,31.67 5.08,27.17 8.00,24.00 C10.92,20.83 15.50,18.50 20.00,17.00 C24.50,15.50 30.83,14.83 35.00,15.00 C39.17,15.17 41.17,16.50 45.00,18.00 C48.83,19.50 54.17,21.67 58.00,24.00 C61.83,26.33 65.58,28.67 68.00,32.00 C70.42,35.33 72.50,40.00 72.50,44.00 C72.50,48.00 70.42,52.67 68.00,56.00 C65.58,59.33 62.00,62.17 58.00,64.00 C54.00,65.83 48.67,66.67 44.00,67.00 C39.33,67.33 34.67,67.17 30.00,66.00 C25.33,64.83 20.00,62.67 16.00,60.00 C12.00,57.33 8.25,54.00 6.00,50.00 C3.75,46.00 2.17,40.33 2.50,36.00 Z"/></clipPath><rect x="-2.00" y="-2.00" width="79.00" height="78.00" fill="#000" filter="url(#nzJ)" clip-path="url(#cp37)"/>
<path d="M7.00,34.00 C6.81,31.41 7.00,26.93 9.00,25.00 C11.00,23.07 18.67,20.23 22.00,19.50 C25.33,18.77 31.60,19.17 34.00,19.50 C36.40,19.83 38.00,21.53 40.00,22.00 C42.00,22.47 46.47,22.20 49.00,23.00 C51.53,23.80 56.65,26.33 59.00,28.00 C61.35,29.67 65.19,33.31 66.60,35.50 C68.01,37.69 69.60,42.03 69.60,44.40 C69.60,46.77 67.99,51.42 66.60,53.30 C65.21,55.18 61.76,57.71 59.20,58.50 C56.64,59.29 50.16,59.29 47.40,59.20 C44.64,59.11 40.82,58.36 38.50,57.80 C36.18,57.24 32.20,55.77 30.00,55.00 C27.80,54.23 24.61,53.41 22.00,52.00 C19.39,50.59 12.40,46.80 10.40,44.40 C8.40,42.00 7.19,36.59 7.00,34.00 Z" fill="none" stroke="#d878b8" stroke-width="5.2" opacity="0.85" filter="url(#b1)"/>
<clipPath id="cp38"><path d="M2.50,36.00 C2.83,31.67 5.08,27.17 8.00,24.00 C10.92,20.83 15.50,18.50 20.00,17.00 C24.50,15.50 30.83,14.83 35.00,15.00 C39.17,15.17 41.17,16.50 45.00,18.00 C48.83,19.50 54.17,21.67 58.00,24.00 C61.83,26.33 65.58,28.67 68.00,32.00 C70.42,35.33 72.50,40.00 72.50,44.00 C72.50,48.00 70.42,52.67 68.00,56.00 C65.58,59.33 62.00,62.17 58.00,64.00 C54.00,65.83 48.67,66.67 44.00,67.00 C39.33,67.33 34.67,67.17 30.00,66.00 C25.33,64.83 20.00,62.67 16.00,60.00 C12.00,57.33 8.25,54.00 6.00,50.00 C3.75,46.00 2.17,40.33 2.50,36.00 Z"/></clipPath><rect x="-2.00" y="-2.00" width="79.00" height="78.00" fill="#000" filter="url(#nzR)" clip-path="url(#cp38)"/>
<path d="M7.00,34.00 C6.81,31.41 7.00,26.93 9.00,25.00 C11.00,23.07 18.67,20.23 22.00,19.50 C25.33,18.77 31.60,19.17 34.00,19.50 C36.40,19.83 38.00,21.53 40.00,22.00 C42.00,22.47 46.47,22.20 49.00,23.00 C51.53,23.80 56.65,26.33 59.00,28.00 C61.35,29.67 65.19,33.31 66.60,35.50 C68.01,37.69 69.60,42.03 69.60,44.40 C69.60,46.77 67.99,51.42 66.60,53.30 C65.21,55.18 61.76,57.71 59.20,58.50 C56.64,59.29 50.16,59.29 47.40,59.20 C44.64,59.11 40.82,58.36 38.50,57.80 C36.18,57.24 32.20,55.77 30.00,55.00 C27.80,54.23 24.61,53.41 22.00,52.00 C19.39,50.59 12.40,46.80 10.40,44.40 C8.40,42.00 7.19,36.59 7.00,34.00 Z" fill="#d878b8" opacity="0.9" filter="url(#b05)"/>
<path d="M40.00,22.20 C40.89,21.98 46.98,22.41 48.90,23.00 C50.82,23.59 57.43,26.85 59.20,28.10 C60.97,29.35 65.56,33.87 66.60,35.50 C67.64,37.13 69.60,42.62 69.60,44.40 C69.60,46.18 67.64,51.89 66.60,53.30 C65.56,54.71 61.12,57.91 59.20,58.50 C57.28,59.09 49.47,59.27 47.40,59.20 C45.33,59.13 39.54,58.17 38.50,57.80 C37.46,57.43 35.96,55.80 37.00,55.50 C38.04,55.20 47.05,55.17 48.90,54.80 C50.75,54.43 54.61,52.84 55.50,51.80 C56.39,50.76 57.80,45.73 57.80,44.40 C57.80,43.07 56.39,39.68 55.50,38.50 C54.61,37.32 50.45,33.93 48.90,32.60 C47.35,31.27 40.89,26.24 40.00,25.20 C39.11,24.16 39.11,22.42 40.00,22.20 Z" fill="#7a9a8e" filter="url(#b05)"/>
<clipPath id="cp39"><path d="M40.00,22.20 C40.89,21.98 46.98,22.41 48.90,23.00 C50.82,23.59 57.43,26.85 59.20,28.10 C60.97,29.35 65.56,33.87 66.60,35.50 C67.64,37.13 69.60,42.62 69.60,44.40 C69.60,46.18 67.64,51.89 66.60,53.30 C65.56,54.71 61.12,57.91 59.20,58.50 C57.28,59.09 49.47,59.27 47.40,59.20 C45.33,59.13 39.54,58.17 38.50,57.80 C37.46,57.43 35.96,55.80 37.00,55.50 C38.04,55.20 47.05,55.17 48.90,54.80 C50.75,54.43 54.61,52.84 55.50,51.80 C56.39,50.76 57.80,45.73 57.80,44.40 C57.80,43.07 56.39,39.68 55.50,38.50 C54.61,37.32 50.45,33.93 48.90,32.60 C47.35,31.27 40.89,26.24 40.00,25.20 C39.11,24.16 39.11,22.42 40.00,22.20 Z"/></clipPath><rect x="-2.00" y="-2.00" width="79.00" height="78.00" fill="#000" filter="url(#nzP)" clip-path="url(#cp39)"/>
<clipPath id="cp40"><path d="M40.00,22.20 C40.89,21.98 46.98,22.41 48.90,23.00 C50.82,23.59 57.43,26.85 59.20,28.10 C60.97,29.35 65.56,33.87 66.60,35.50 C67.64,37.13 69.60,42.62 69.60,44.40 C69.60,46.18 67.64,51.89 66.60,53.30 C65.56,54.71 61.12,57.91 59.20,58.50 C57.28,59.09 49.47,59.27 47.40,59.20 C45.33,59.13 39.54,58.17 38.50,57.80 C37.46,57.43 35.96,55.80 37.00,55.50 C38.04,55.20 47.05,55.17 48.90,54.80 C50.75,54.43 54.61,52.84 55.50,51.80 C56.39,50.76 57.80,45.73 57.80,44.40 C57.80,43.07 56.39,39.68 55.50,38.50 C54.61,37.32 50.45,33.93 48.90,32.60 C47.35,31.27 40.89,26.24 40.00,25.20 C39.11,24.16 39.11,22.42 40.00,22.20 Z"/></clipPath><rect x="-2.00" y="-2.00" width="79.00" height="78.00" fill="#000" filter="url(#nzD)" clip-path="url(#cp40)"/>
<path d="M8.90,25.20 C11.48,22.62 18.00,20.87 22.20,20.00 C26.40,19.13 31.13,19.13 34.10,20.00 C37.07,20.87 37.53,23.10 40.00,25.20 C42.47,27.30 46.32,30.38 48.90,32.60 C51.48,34.82 54.02,36.53 55.50,38.50 C56.98,40.47 57.80,42.18 57.80,44.40 C57.80,46.62 56.98,50.07 55.50,51.80 C54.02,53.53 51.98,54.18 48.90,54.80 C45.82,55.42 41.45,56.00 37.00,55.50 C32.55,55.00 26.63,53.65 22.20,51.80 C17.77,49.95 12.98,47.12 10.40,44.40 C7.82,41.68 6.95,38.70 6.70,35.50 C6.45,32.30 6.32,27.78 8.90,25.20 Z" fill="#050505" filter="url(#b05)"/>
<path d="M40.00,22.20 C40.89,21.98 46.98,22.41 48.90,23.00 C50.82,23.59 57.43,26.85 59.20,28.10 C60.97,29.35 65.56,33.87 66.60,35.50 C67.64,37.13 69.60,42.62 69.60,44.40 C69.60,46.18 67.64,51.89 66.60,53.30 C65.56,54.71 61.12,57.91 59.20,58.50 C57.28,59.09 49.47,59.27 47.40,59.20 C45.33,59.13 39.54,58.17 38.50,57.80 C37.46,57.43 35.96,55.80 37.00,55.50 C38.04,55.20 47.05,55.17 48.90,54.80 C50.75,54.43 54.61,52.84 55.50,51.80 C56.39,50.76 57.80,45.73 57.80,44.40 C57.80,43.07 56.39,39.68 55.50,38.50 C54.61,37.32 50.45,33.93 48.90,32.60 C47.35,31.27 40.89,26.24 40.00,25.20 C39.11,24.16 39.11,22.42 40.00,22.20 Z" fill="none" stroke="#f4f4f4" stroke-width="0.8" opacity="0.9"/>
<rect x="58.5" y="5.2" width="11.5" height="1.3" fill="#eeeeee"/>
</g></g>
<clipPath id="cp41"><rect x="438.50" y="485.50" width="74.70" height="73.80"/></clipPath>
<g clip-path="url(#cp41)"><g transform="translate(438.50,485.50) scale(0.9960,0.9973)">
<path d="M4.50,40.00 C4.50,35.00 5.42,30.17 7.00,26.00 C8.58,21.83 10.50,17.33 14.00,15.00 C17.50,12.67 23.33,12.00 28.00,12.00 C32.67,12.00 38.00,13.33 42.00,15.00 C46.00,16.67 48.67,19.50 52.00,22.00 C55.33,24.50 59.50,26.33 62.00,30.00 C64.50,33.67 66.67,39.67 67.00,44.00 C67.33,48.33 66.17,52.67 64.00,56.00 C61.83,59.33 57.67,62.33 54.00,64.00 C50.33,65.67 46.33,65.67 42.00,66.00 C37.67,66.33 32.50,66.33 28.00,66.00 C23.50,65.67 18.50,65.67 15.00,64.00 C11.50,62.33 8.75,60.00 7.00,56.00 C5.25,52.00 4.50,45.00 4.50,40.00 Z" fill="#5444b4" opacity="0.22" filter="url(#b3)"/>
<path d="M7.40,37.00 C7.79,33.24 8.84,23.07 11.80,20.70 C14.76,18.33 26.44,18.63 29.60,19.20 C32.76,19.77 33.33,23.91 35.50,25.00 C37.67,26.09 43.33,26.79 45.90,27.40 C48.47,28.01 52.83,28.12 54.80,29.60 C56.77,31.08 59.71,36.13 60.70,38.50 C61.69,40.87 62.40,45.03 62.20,47.40 C62.00,49.77 60.79,54.53 59.20,56.30 C57.61,58.07 53.06,60.11 50.30,60.70 C47.54,61.29 41.21,60.99 38.50,60.70 C35.79,60.41 32.17,58.30 30.00,58.50 C27.83,58.70 24.03,62.11 22.20,62.20 C20.37,62.29 18.07,60.97 16.30,59.20 C14.53,57.43 10.09,51.86 8.90,48.90 C7.71,45.94 7.01,40.76 7.40,37.00 Z" fill="none" stroke="#5444b4" stroke-width="15.2" stroke-linejoin="round" opacity="0.7" filter="url(#b2)"/>
<clipPath id="cp42"><path d="M4.50,40.00 C4.50,35.00 5.42,30.17 7.00,26.00 C8.58,21.83 10.50,17.33 14.00,15.00 C17.50,12.67 23.33,12.00 28.00,12.00 C32.67,12.00 38.00,13.33 42.00,15.00 C46.00,16.67 48.67,19.50 52.00,22.00 C55.33,24.50 59.50,26.33 62.00,30.00 C64.50,33.67 66.67,39.67 67.00,44.00 C67.33,48.33 66.17,52.67 64.00,56.00 C61.83,59.33 57.67,62.33 54.00,64.00 C50.33,65.67 46.33,65.67 42.00,66.00 C37.67,66.33 32.50,66.33 28.00,66.00 C23.50,65.67 18.50,65.67 15.00,64.00 C11.50,62.33 8.75,60.00 7.00,56.00 C5.25,52.00 4.50,45.00 4.50,40.00 Z"/></clipPath><rect x="-2.00" y="-2.00" width="79.00" height="78.00" fill="#000" filter="url(#nzJ)" clip-path="url(#cp42)"/>
<path d="M7.40,37.00 C7.79,33.24 8.84,23.07 11.80,20.70 C14.76,18.33 26.44,18.63 29.60,19.20 C32.76,19.77 33.33,23.91 35.50,25.00 C37.67,26.09 43.33,26.79 45.90,27.40 C48.47,28.01 52.83,28.12 54.80,29.60 C56.77,31.08 59.71,36.13 60.70,38.50 C61.69,40.87 62.40,45.03 62.20,47.40 C62.00,49.77 60.79,54.53 59.20,56.30 C57.61,58.07 53.06,60.11 50.30,60.70 C47.54,61.29 41.21,60.99 38.50,60.70 C35.79,60.41 32.17,58.30 30.00,58.50 C27.83,58.70 24.03,62.11 22.20,62.20 C20.37,62.29 18.07,60.97 16.30,59.20 C14.53,57.43 10.09,51.86 8.90,48.90 C7.71,45.94 7.01,40.76 7.40,37.00 Z" fill="none" stroke="#d87a98" stroke-width="5.2" opacity="0.85" filter="url(#b1)"/>
<clipPath id="cp43"><path d="M4.50,40.00 C4.50,35.00 5.42,30.17 7.00,26.00 C8.58,21.83 10.50,17.33 14.00,15.00 C17.50,12.67 23.33,12.00 28.00,12.00 C32.67,12.00 38.00,13.33 42.00,15.00 C46.00,16.67 48.67,19.50 52.00,22.00 C55.33,24.50 59.50,26.33 62.00,30.00 C64.50,33.67 66.67,39.67 67.00,44.00 C67.33,48.33 66.17,52.67 64.00,56.00 C61.83,59.33 57.67,62.33 54.00,64.00 C50.33,65.67 46.33,65.67 42.00,66.00 C37.67,66.33 32.50,66.33 28.00,66.00 C23.50,65.67 18.50,65.67 15.00,64.00 C11.50,62.33 8.75,60.00 7.00,56.00 C5.25,52.00 4.50,45.00 4.50,40.00 Z"/></clipPath><rect x="-2.00" y="-2.00" width="79.00" height="78.00" fill="#000" filter="url(#nzR)" clip-path="url(#cp43)"/>
<path d="M7.40,37.00 C7.79,33.24 8.84,23.07 11.80,20.70 C14.76,18.33 26.44,18.63 29.60,19.20 C32.76,19.77 33.33,23.91 35.50,25.00 C37.67,26.09 43.33,26.79 45.90,27.40 C48.47,28.01 52.83,28.12 54.80,29.60 C56.77,31.08 59.71,36.13 60.70,38.50 C61.69,40.87 62.40,45.03 62.20,47.40 C62.00,49.77 60.79,54.53 59.20,56.30 C57.61,58.07 53.06,60.11 50.30,60.70 C47.54,61.29 41.21,60.99 38.50,60.70 C35.79,60.41 32.17,58.30 30.00,58.50 C27.83,58.70 24.03,62.11 22.20,62.20 C20.37,62.29 18.07,60.97 16.30,59.20 C14.53,57.43 10.09,51.86 8.90,48.90 C7.71,45.94 7.01,40.76 7.40,37.00 Z" fill="#d87a98" opacity="0.9" filter="url(#b05)"/>
<path d="M35.50,25.20 C35.65,25.05 43.97,26.96 45.90,27.40 C47.83,27.84 53.32,28.49 54.80,29.60 C56.28,30.71 59.96,36.72 60.70,38.50 C61.44,40.28 62.35,45.62 62.20,47.40 C62.05,49.18 60.39,54.97 59.20,56.30 C58.01,57.63 52.37,60.26 50.30,60.70 C48.23,61.14 39.83,61.14 38.50,60.70 C37.17,60.26 35.96,56.89 37.00,56.30 C38.04,55.71 47.49,55.54 48.90,54.80 C50.31,54.06 50.88,50.53 51.10,48.90 C51.32,47.27 51.18,40.28 51.10,38.50 C51.02,36.72 50.97,32.06 50.30,31.10 C49.63,30.14 45.88,29.49 44.40,28.90 C42.92,28.31 35.35,25.35 35.50,25.20 Z" fill="#909c84" filter="url(#b05)"/>
<clipPath id="cp44"><path d="M35.50,25.20 C35.65,25.05 43.97,26.96 45.90,27.40 C47.83,27.84 53.32,28.49 54.80,29.60 C56.28,30.71 59.96,36.72 60.70,38.50 C61.44,40.28 62.35,45.62 62.20,47.40 C62.05,49.18 60.39,54.97 59.20,56.30 C58.01,57.63 52.37,60.26 50.30,60.70 C48.23,61.14 39.83,61.14 38.50,60.70 C37.17,60.26 35.96,56.89 37.00,56.30 C38.04,55.71 47.49,55.54 48.90,54.80 C50.31,54.06 50.88,50.53 51.10,48.90 C51.32,47.27 51.18,40.28 51.10,38.50 C51.02,36.72 50.97,32.06 50.30,31.10 C49.63,30.14 45.88,29.49 44.40,28.90 C42.92,28.31 35.35,25.35 35.50,25.20 Z"/></clipPath><rect x="-2.00" y="-2.00" width="79.00" height="78.00" fill="#000" filter="url(#nzP)" clip-path="url(#cp44)"/>
<clipPath id="cp45"><path d="M35.50,25.20 C35.65,25.05 43.97,26.96 45.90,27.40 C47.83,27.84 53.32,28.49 54.80,29.60 C56.28,30.71 59.96,36.72 60.70,38.50 C61.44,40.28 62.35,45.62 62.20,47.40 C62.05,49.18 60.39,54.97 59.20,56.30 C58.01,57.63 52.37,60.26 50.30,60.70 C48.23,61.14 39.83,61.14 38.50,60.70 C37.17,60.26 35.96,56.89 37.00,56.30 C38.04,55.71 47.49,55.54 48.90,54.80 C50.31,54.06 50.88,50.53 51.10,48.90 C51.32,47.27 51.18,40.28 51.10,38.50 C51.02,36.72 50.97,32.06 50.30,31.10 C49.63,30.14 45.88,29.49 44.40,28.90 C42.92,28.31 35.35,25.35 35.50,25.20 Z"/></clipPath><rect x="-2.00" y="-2.00" width="79.00" height="78.00" fill="#000" filter="url(#nzD)" clip-path="url(#cp45)"/>
<path d="M11.80,20.70 C15.50,17.73 25.65,18.45 29.60,19.20 C33.55,19.95 33.03,23.58 35.50,25.20 C37.97,26.82 41.93,27.92 44.40,28.90 C46.87,29.88 49.18,29.50 50.30,31.10 C51.42,32.70 50.97,35.53 51.10,38.50 C51.23,41.47 51.47,46.18 51.10,48.90 C50.73,51.62 51.25,53.57 48.90,54.80 C46.55,56.03 40.83,55.57 37.00,56.30 C33.17,57.03 28.37,58.22 25.90,59.20 C23.43,60.18 23.80,62.20 22.20,62.20 C20.60,62.20 18.52,61.42 16.30,59.20 C14.08,56.98 10.38,52.60 8.90,48.90 C7.42,45.20 6.92,41.70 7.40,37.00 C7.88,32.30 8.10,23.67 11.80,20.70 Z" fill="#050505" filter="url(#b05)"/>
<path d="M35.50,25.20 C35.65,25.05 43.97,26.96 45.90,27.40 C47.83,27.84 53.32,28.49 54.80,29.60 C56.28,30.71 59.96,36.72 60.70,38.50 C61.44,40.28 62.35,45.62 62.20,47.40 C62.05,49.18 60.39,54.97 59.20,56.30 C58.01,57.63 52.37,60.26 50.30,60.70 C48.23,61.14 39.83,61.14 38.50,60.70 C37.17,60.26 35.96,56.89 37.00,56.30 C38.04,55.71 47.49,55.54 48.90,54.80 C50.31,54.06 50.88,50.53 51.10,48.90 C51.32,47.27 51.18,40.28 51.10,38.50 C51.02,36.72 50.97,32.06 50.30,31.10 C49.63,30.14 45.88,29.49 44.40,28.90 C42.92,28.31 35.35,25.35 35.50,25.20 Z" fill="none" stroke="#f4f4f4" stroke-width="0.8" opacity="0.9"/>
<rect x="58.5" y="5.2" width="11.5" height="1.3" fill="#eeeeee"/>
</g></g>
<clipPath id="cp46"><rect x="286.00" y="561.50" width="75.20" height="73.50"/></clipPath>
<g clip-path="url(#cp46)"><g transform="translate(286.00,561.50) scale(1.0027,0.9932)">
<path d="M8.50,37.00 C8.33,31.33 8.58,26.33 10.00,22.00 C11.42,17.67 14.00,13.67 17.00,11.00 C20.00,8.33 24.17,6.92 28.00,6.00 C31.83,5.08 36.00,4.50 40.00,5.50 C44.00,6.50 48.67,8.92 52.00,12.00 C55.33,15.08 58.25,19.67 60.00,24.00 C61.75,28.33 62.33,33.33 62.50,38.00 C62.67,42.67 62.08,47.83 61.00,52.00 C59.92,56.17 58.83,60.17 56.00,63.00 C53.17,65.83 48.33,67.83 44.00,69.00 C39.67,70.17 34.33,70.50 30.00,70.00 C25.67,69.50 21.17,68.33 18.00,66.00 C14.83,63.67 12.58,60.83 11.00,56.00 C9.42,51.17 8.67,42.67 8.50,37.00 Z" fill="#2a8aa4" opacity="0.22" filter="url(#b3)"/>
<path d="M23.70,19.20 C24.58,18.31 27.83,16.59 29.60,16.30 C31.37,16.01 35.23,16.51 37.00,17.00 C38.77,17.49 41.13,18.91 42.90,20.00 C44.67,21.09 49.09,23.87 50.30,25.20 C51.51,26.53 51.77,28.23 52.00,30.00 C52.23,31.77 52.23,35.98 52.00,38.50 C51.77,41.02 50.71,46.53 50.30,48.90 C49.89,51.27 49.69,54.53 48.90,56.30 C48.11,58.07 46.37,61.21 44.40,62.20 C42.43,63.19 37.06,63.90 34.10,63.70 C31.14,63.50 24.37,61.89 22.20,60.70 C20.03,59.51 18.49,56.97 17.80,54.80 C17.11,52.63 16.84,47.04 17.00,44.40 C17.16,41.76 18.40,37.19 19.00,35.00 C19.60,32.81 20.97,29.60 21.50,28.00 C22.03,26.40 22.71,24.17 23.00,23.00 C23.29,21.83 22.82,20.09 23.70,19.20 Z" fill="none" stroke="#2a8aa4" stroke-width="21.8" stroke-linejoin="round" opacity="0.7" filter="url(#b2)"/>
<clipPath id="cp47"><path d="M8.50,37.00 C8.33,31.33 8.58,26.33 10.00,22.00 C11.42,17.67 14.00,13.67 17.00,11.00 C20.00,8.33 24.17,6.92 28.00,6.00 C31.83,5.08 36.00,4.50 40.00,5.50 C44.00,6.50 48.67,8.92 52.00,12.00 C55.33,15.08 58.25,19.67 60.00,24.00 C61.75,28.33 62.33,33.33 62.50,38.00 C62.67,42.67 62.08,47.83 61.00,52.00 C59.92,56.17 58.83,60.17 56.00,63.00 C53.17,65.83 48.33,67.83 44.00,69.00 C39.67,70.17 34.33,70.50 30.00,70.00 C25.67,69.50 21.17,68.33 18.00,66.00 C14.83,63.67 12.58,60.83 11.00,56.00 C9.42,51.17 8.67,42.67 8.50,37.00 Z"/></clipPath><rect x="-2.00" y="-2.00" width="79.00" height="78.00" fill="#000" filter="url(#nzJ)" clip-path="url(#cp47)"/>
<path d="M23.70,19.20 C24.58,18.31 27.83,16.59 29.60,16.30 C31.37,16.01 35.23,16.51 37.00,17.00 C38.77,17.49 41.13,18.91 42.90,20.00 C44.67,21.09 49.09,23.87 50.30,25.20 C51.51,26.53 51.77,28.23 52.00,30.00 C52.23,31.77 52.23,35.98 52.00,38.50 C51.77,41.02 50.71,46.53 50.30,48.90 C49.89,51.27 49.69,54.53 48.90,56.30 C48.11,58.07 46.37,61.21 44.40,62.20 C42.43,63.19 37.06,63.90 34.10,63.70 C31.14,63.50 24.37,61.89 22.20,60.70 C20.03,59.51 18.49,56.97 17.80,54.80 C17.11,52.63 16.84,47.04 17.00,44.40 C17.16,41.76 18.40,37.19 19.00,35.00 C19.60,32.81 20.97,29.60 21.50,28.00 C22.03,26.40 22.71,24.17 23.00,23.00 C23.29,21.83 22.82,20.09 23.70,19.20 Z" fill="none" stroke="#b45c8c" stroke-width="9.8" opacity="0.85" filter="url(#b1)"/>
<clipPath id="cp48"><path d="M8.50,37.00 C8.33,31.33 8.58,26.33 10.00,22.00 C11.42,17.67 14.00,13.67 17.00,11.00 C20.00,8.33 24.17,6.92 28.00,6.00 C31.83,5.08 36.00,4.50 40.00,5.50 C44.00,6.50 48.67,8.92 52.00,12.00 C55.33,15.08 58.25,19.67 60.00,24.00 C61.75,28.33 62.33,33.33 62.50,38.00 C62.67,42.67 62.08,47.83 61.00,52.00 C59.92,56.17 58.83,60.17 56.00,63.00 C53.17,65.83 48.33,67.83 44.00,69.00 C39.67,70.17 34.33,70.50 30.00,70.00 C25.67,69.50 21.17,68.33 18.00,66.00 C14.83,63.67 12.58,60.83 11.00,56.00 C9.42,51.17 8.67,42.67 8.50,37.00 Z"/></clipPath><rect x="-2.00" y="-2.00" width="79.00" height="78.00" fill="#000" filter="url(#nzR)" clip-path="url(#cp48)"/>
<path d="M23.70,19.20 C24.58,18.31 27.83,16.59 29.60,16.30 C31.37,16.01 35.23,16.51 37.00,17.00 C38.77,17.49 41.13,18.91 42.90,20.00 C44.67,21.09 49.09,23.87 50.30,25.20 C51.51,26.53 51.77,28.23 52.00,30.00 C52.23,31.77 52.23,35.98 52.00,38.50 C51.77,41.02 50.71,46.53 50.30,48.90 C49.89,51.27 49.69,54.53 48.90,56.30 C48.11,58.07 46.37,61.21 44.40,62.20 C42.43,63.19 37.06,63.90 34.10,63.70 C31.14,63.50 24.37,61.89 22.20,60.70 C20.03,59.51 18.49,56.97 17.80,54.80 C17.11,52.63 16.84,47.04 17.00,44.40 C17.16,41.76 18.40,37.19 19.00,35.00 C19.60,32.81 20.97,29.60 21.50,28.00 C22.03,26.40 22.71,24.17 23.00,23.00 C23.29,21.83 22.82,20.09 23.70,19.20 Z" fill="#b45c8c" opacity="0.9" filter="url(#b05)"/>
<path d="M23.70,19.20 C24.29,18.61 28.27,16.52 29.60,16.30 C30.93,16.08 35.67,16.63 37.00,17.00 C38.33,17.37 41.57,19.18 42.90,20.00 C44.23,20.82 49.48,24.46 50.30,25.20 C51.12,25.94 51.84,27.25 51.10,27.40 C50.36,27.55 44.31,27.00 42.90,26.70 C41.49,26.40 38.33,24.70 37.00,24.40 C35.67,24.10 30.78,23.55 29.60,23.70 C28.42,23.85 25.79,26.05 25.20,25.90 C24.61,25.75 23.85,22.87 23.70,22.20 C23.55,21.53 23.11,19.79 23.70,19.20 Z" fill="#c87890" filter="url(#b05)"/>
<clipPath id="cp49"><path d="M23.70,19.20 C24.29,18.61 28.27,16.52 29.60,16.30 C30.93,16.08 35.67,16.63 37.00,17.00 C38.33,17.37 41.57,19.18 42.90,20.00 C44.23,20.82 49.48,24.46 50.30,25.20 C51.12,25.94 51.84,27.25 51.10,27.40 C50.36,27.55 44.31,27.00 42.90,26.70 C41.49,26.40 38.33,24.70 37.00,24.40 C35.67,24.10 30.78,23.55 29.60,23.70 C28.42,23.85 25.79,26.05 25.20,25.90 C24.61,25.75 23.85,22.87 23.70,22.20 C23.55,21.53 23.11,19.79 23.70,19.20 Z"/></clipPath><rect x="-2.00" y="-2.00" width="79.00" height="78.00" fill="#000" filter="url(#nzP)" clip-path="url(#cp49)"/>
<clipPath id="cp50"><path d="M23.70,19.20 C24.29,18.61 28.27,16.52 29.60,16.30 C30.93,16.08 35.67,16.63 37.00,17.00 C38.33,17.37 41.57,19.18 42.90,20.00 C44.23,20.82 49.48,24.46 50.30,25.20 C51.12,25.94 51.84,27.25 51.10,27.40 C50.36,27.55 44.31,27.00 42.90,26.70 C41.49,26.40 38.33,24.70 37.00,24.40 C35.67,24.10 30.78,23.55 29.60,23.70 C28.42,23.85 25.79,26.05 25.20,25.90 C24.61,25.75 23.85,22.87 23.70,22.20 C23.55,21.53 23.11,19.79 23.70,19.20 Z"/></clipPath><rect x="-2.00" y="-2.00" width="79.00" height="78.00" fill="#000" filter="url(#nzD)" clip-path="url(#cp50)"/>
<path d="M25.90,25.90 C27.87,25.17 33.92,24.95 37.00,25.20 C40.08,25.45 42.18,26.67 44.40,27.40 C46.62,28.13 49.07,28.25 50.30,29.60 C51.53,30.95 51.80,33.28 51.80,35.50 C51.80,37.72 50.55,40.67 50.30,42.90 C50.05,45.13 50.53,46.67 50.30,48.90 C50.07,51.13 49.88,54.08 48.90,56.30 C47.92,58.52 46.38,60.72 44.40,62.20 C42.42,63.68 39.95,64.95 37.00,65.20 C34.05,65.45 29.67,64.70 26.70,63.70 C23.73,62.70 20.93,61.18 19.20,59.20 C17.47,57.22 16.53,54.75 16.30,51.80 C16.07,48.85 16.82,44.45 17.80,41.50 C18.78,38.55 20.97,36.08 22.20,34.10 C23.43,32.12 24.58,30.97 25.20,29.60 C25.82,28.23 23.93,26.63 25.90,25.90 Z" fill="#050505" filter="url(#b05)"/>
<path d="M23.70,19.20 C24.29,18.61 28.27,16.52 29.60,16.30 C30.93,16.08 35.67,16.63 37.00,17.00 C38.33,17.37 41.57,19.18 42.90,20.00 C44.23,20.82 49.48,24.46 50.30,25.20 C51.12,25.94 51.84,27.25 51.10,27.40 C50.36,27.55 44.31,27.00 42.90,26.70 C41.49,26.40 38.33,24.70 37.00,24.40 C35.67,24.10 30.78,23.55 29.60,23.70 C28.42,23.85 25.79,26.05 25.20,25.90 C24.61,25.75 23.85,22.87 23.70,22.20 C23.55,21.53 23.11,19.79 23.70,19.20 Z" fill="none" stroke="#f4f4f4" stroke-width="0.8" opacity="0.9"/>
<rect x="58.5" y="5.2" width="11.5" height="1.3" fill="#eeeeee"/>
</g></g>
<clipPath id="cp51"><rect x="363.00" y="561.50" width="74.00" height="73.50"/></clipPath>
<g clip-path="url(#cp51)"><g transform="translate(363.00,561.50) scale(0.9867,0.9932)">
<path d="M22.00,9.00 C23.83,7.83 27.00,7.17 30.00,7.00 C33.00,6.83 37.33,7.17 40.00,8.00 C42.67,8.83 44.67,10.00 46.00,12.00 C47.33,14.00 47.52,17.07 48.00,20.00 C48.48,22.93 49.00,26.02 48.90,29.60 C48.80,33.18 47.17,38.28 47.40,41.50 C47.63,44.72 48.82,46.93 50.30,48.90 C51.78,50.87 54.32,51.82 56.30,53.30 C58.28,54.78 60.97,56.52 62.20,57.80 C63.43,59.08 64.23,59.80 63.70,61.00 C63.17,62.20 61.45,64.30 59.00,65.00 C56.55,65.70 52.67,65.42 49.00,65.20 C45.33,64.98 40.50,64.70 37.00,63.70 C33.50,62.70 30.47,60.93 28.00,59.20 C25.53,57.47 23.90,55.77 22.20,53.30 C20.50,50.83 18.92,47.62 17.80,44.40 C16.68,41.18 15.75,37.70 15.50,34.00 C15.25,30.30 15.72,25.53 16.30,22.20 C16.88,18.87 18.05,16.20 19.00,14.00 C19.95,11.80 20.17,10.17 22.00,9.00 Z" fill="#2a8aa4" opacity="0.22" filter="url(#b3)"/>
<path d="M28.00,25.00 C30.47,22.63 42.07,19.07 44.40,19.20 C46.73,19.33 46.09,24.83 45.50,26.00 C44.91,27.17 40.73,26.33 40.00,28.00 C39.27,29.67 39.80,35.91 40.00,38.50 C40.20,41.09 41.70,45.60 41.50,47.40 C41.30,49.20 39.50,51.39 38.50,52.00 C37.50,52.61 35.39,52.81 34.00,52.00 C32.61,51.19 29.18,47.90 28.10,45.90 C27.02,43.90 25.91,39.79 25.90,37.00 C25.89,34.21 25.53,27.37 28.00,25.00 Z" fill="none" stroke="#2a8aa4" stroke-width="17.5" stroke-linejoin="round" opacity="0.7" filter="url(#b2)"/>
<clipPath id="cp52"><path d="M22.00,9.00 C23.83,7.83 27.00,7.17 30.00,7.00 C33.00,6.83 37.33,7.17 40.00,8.00 C42.67,8.83 44.67,10.00 46.00,12.00 C47.33,14.00 47.52,17.07 48.00,20.00 C48.48,22.93 49.00,26.02 48.90,29.60 C48.80,33.18 47.17,38.28 47.40,41.50 C47.63,44.72 48.82,46.93 50.30,48.90 C51.78,50.87 54.32,51.82 56.30,53.30 C58.28,54.78 60.97,56.52 62.20,57.80 C63.43,59.08 64.23,59.80 63.70,61.00 C63.17,62.20 61.45,64.30 59.00,65.00 C56.55,65.70 52.67,65.42 49.00,65.20 C45.33,64.98 40.50,64.70 37.00,63.70 C33.50,62.70 30.47,60.93 28.00,59.20 C25.53,57.47 23.90,55.77 22.20,53.30 C20.50,50.83 18.92,47.62 17.80,44.40 C16.68,41.18 15.75,37.70 15.50,34.00 C15.25,30.30 15.72,25.53 16.30,22.20 C16.88,18.87 18.05,16.20 19.00,14.00 C19.95,11.80 20.17,10.17 22.00,9.00 Z"/></clipPath><rect x="-2.00" y="-2.00" width="79.00" height="78.00" fill="#000" filter="url(#nzJ)" clip-path="url(#cp52)"/>
<path d="M47,30 C46,42 48,50 56,56" stroke="#3a5ab8" stroke-width="4" fill="none" opacity="0.7" filter="url(#b1)"/>
<path d="M28.00,25.00 C30.47,22.63 42.07,19.07 44.40,19.20 C46.73,19.33 46.09,24.83 45.50,26.00 C44.91,27.17 40.73,26.33 40.00,28.00 C39.27,29.67 39.80,35.91 40.00,38.50 C40.20,41.09 41.70,45.60 41.50,47.40 C41.30,49.20 39.50,51.39 38.50,52.00 C37.50,52.61 35.39,52.81 34.00,52.00 C32.61,51.19 29.18,47.90 28.10,45.90 C27.02,43.90 25.91,39.79 25.90,37.00 C25.89,34.21 25.53,27.37 28.00,25.00 Z" fill="none" stroke="#b45c8c" stroke-width="7.5" opacity="0.85" filter="url(#b1)"/>
<clipPath id="cp53"><path d="M22.00,9.00 C23.83,7.83 27.00,7.17 30.00,7.00 C33.00,6.83 37.33,7.17 40.00,8.00 C42.67,8.83 44.67,10.00 46.00,12.00 C47.33,14.00 47.52,17.07 48.00,20.00 C48.48,22.93 49.00,26.02 48.90,29.60 C48.80,33.18 47.17,38.28 47.40,41.50 C47.63,44.72 48.82,46.93 50.30,48.90 C51.78,50.87 54.32,51.82 56.30,53.30 C58.28,54.78 60.97,56.52 62.20,57.80 C63.43,59.08 64.23,59.80 63.70,61.00 C63.17,62.20 61.45,64.30 59.00,65.00 C56.55,65.70 52.67,65.42 49.00,65.20 C45.33,64.98 40.50,64.70 37.00,63.70 C33.50,62.70 30.47,60.93 28.00,59.20 C25.53,57.47 23.90,55.77 22.20,53.30 C20.50,50.83 18.92,47.62 17.80,44.40 C16.68,41.18 15.75,37.70 15.50,34.00 C15.25,30.30 15.72,25.53 16.30,22.20 C16.88,18.87 18.05,16.20 19.00,14.00 C19.95,11.80 20.17,10.17 22.00,9.00 Z"/></clipPath><rect x="-2.00" y="-2.00" width="79.00" height="78.00" fill="#000" filter="url(#nzR)" clip-path="url(#cp53)"/>
<path d="M28.00,25.00 C30.47,22.63 42.07,19.07 44.40,19.20 C46.73,19.33 46.09,24.83 45.50,26.00 C44.91,27.17 40.73,26.33 40.00,28.00 C39.27,29.67 39.80,35.91 40.00,38.50 C40.20,41.09 41.70,45.60 41.50,47.40 C41.30,49.20 39.50,51.39 38.50,52.00 C37.50,52.61 35.39,52.81 34.00,52.00 C32.61,51.19 29.18,47.90 28.10,45.90 C27.02,43.90 25.91,39.79 25.90,37.00 C25.89,34.21 25.53,27.37 28.00,25.00 Z" fill="#b45c8c" opacity="0.9" filter="url(#b05)"/>
<path d="M29.60,25.90 C30.93,24.93 42.84,19.20 44.40,19.20 C45.96,19.20 46.53,24.93 45.20,25.90 C43.87,26.87 32.66,28.90 31.10,28.90 C29.54,28.90 28.27,26.87 29.60,25.90 Z" fill="#a07070" filter="url(#b05)"/>
<clipPath id="cp54"><path d="M29.60,25.90 C30.93,24.93 42.84,19.20 44.40,19.20 C45.96,19.20 46.53,24.93 45.20,25.90 C43.87,26.87 32.66,28.90 31.10,28.90 C29.54,28.90 28.27,26.87 29.60,25.90 Z"/></clipPath><rect x="-2.00" y="-2.00" width="79.00" height="78.00" fill="#000" filter="url(#nzP)" clip-path="url(#cp54)"/>
<clipPath id="cp55"><path d="M29.60,25.90 C30.93,24.93 42.84,19.20 44.40,19.20 C45.96,19.20 46.53,24.93 45.20,25.90 C43.87,26.87 32.66,28.90 31.10,28.90 C29.54,28.90 28.27,26.87 29.60,25.90 Z"/></clipPath><rect x="-2.00" y="-2.00" width="79.00" height="78.00" fill="#000" filter="url(#nzD)" clip-path="url(#cp55)"/>
<path d="M28.00,26.70 C30.22,24.98 37.20,24.73 39.20,26.70 C41.20,28.67 39.62,35.05 40.00,38.50 C40.38,41.95 41.75,45.15 41.50,47.40 C41.25,49.65 39.75,51.23 38.50,52.00 C37.25,52.77 35.73,53.02 34.00,52.00 C32.27,50.98 29.45,48.40 28.10,45.90 C26.75,43.40 25.92,40.20 25.90,37.00 C25.88,33.80 25.78,28.42 28.00,26.70 Z" fill="#050505" filter="url(#b05)"/>
<path d="M29.60,25.90 C30.93,24.93 42.84,19.20 44.40,19.20 C45.96,19.20 46.53,24.93 45.20,25.90 C43.87,26.87 32.66,28.90 31.10,28.90 C29.54,28.90 28.27,26.87 29.60,25.90 Z" fill="none" stroke="#f4f4f4" stroke-width="0.8" opacity="0.9"/>
<rect x="58.5" y="5.2" width="11.5" height="1.3" fill="#eeeeee"/>
</g></g>
<clipPath id="cp56"><rect x="438.50" y="561.50" width="74.70" height="73.50"/></clipPath>
<g clip-path="url(#cp56)"><g transform="translate(438.50,561.50) scale(0.9960,0.9932)">
<path d="M14.50,41.00 C14.50,36.00 15.08,30.33 17.00,26.00 C18.92,21.67 22.67,17.42 26.00,15.00 C29.33,12.58 33.17,11.50 37.00,11.50 C40.83,11.50 45.67,12.92 49.00,15.00 C52.33,17.08 55.25,20.33 57.00,24.00 C58.75,27.67 59.50,32.33 59.50,37.00 C59.50,41.67 58.58,47.67 57.00,52.00 C55.42,56.33 53.33,60.08 50.00,63.00 C46.67,65.92 41.17,69.00 37.00,69.50 C32.83,70.00 28.33,68.25 25.00,66.00 C21.67,63.75 18.75,60.17 17.00,56.00 C15.25,51.83 14.50,46.00 14.50,41.00 Z" fill="#2a8aa4" opacity="0.22" filter="url(#b3)"/>
<path d="M28.10,22.20 C29.78,21.12 35.93,20.00 38.50,20.00 C41.07,20.00 45.72,20.92 47.40,22.20 C49.08,23.48 50.71,27.43 51.10,29.60 C51.49,31.77 50.99,36.33 50.30,38.50 C49.61,40.67 46.89,44.13 45.90,45.90 C44.91,47.67 44.47,50.21 42.90,51.80 C41.33,53.39 36.26,57.20 34.10,57.80 C31.94,58.40 28.49,57.49 26.70,56.30 C24.91,55.11 21.30,50.87 20.70,48.90 C20.10,46.93 21.40,43.29 22.20,41.50 C23.00,39.71 26.21,37.29 26.70,35.50 C27.19,33.71 25.71,29.87 25.90,28.10 C26.09,26.33 26.42,23.28 28.10,22.20 Z" fill="none" stroke="#2a8aa4" stroke-width="19.0" stroke-linejoin="round" opacity="0.7" filter="url(#b2)"/>
<clipPath id="cp57"><path d="M14.50,41.00 C14.50,36.00 15.08,30.33 17.00,26.00 C18.92,21.67 22.67,17.42 26.00,15.00 C29.33,12.58 33.17,11.50 37.00,11.50 C40.83,11.50 45.67,12.92 49.00,15.00 C52.33,17.08 55.25,20.33 57.00,24.00 C58.75,27.67 59.50,32.33 59.50,37.00 C59.50,41.67 58.58,47.67 57.00,52.00 C55.42,56.33 53.33,60.08 50.00,63.00 C46.67,65.92 41.17,69.00 37.00,69.50 C32.83,70.00 28.33,68.25 25.00,66.00 C21.67,63.75 18.75,60.17 17.00,56.00 C15.25,51.83 14.50,46.00 14.50,41.00 Z"/></clipPath><rect x="-2.00" y="-2.00" width="79.00" height="78.00" fill="#000" filter="url(#nzJ)" clip-path="url(#cp57)"/>
<path d="M28.10,22.20 C29.78,21.12 35.93,20.00 38.50,20.00 C41.07,20.00 45.72,20.92 47.40,22.20 C49.08,23.48 50.71,27.43 51.10,29.60 C51.49,31.77 50.99,36.33 50.30,38.50 C49.61,40.67 46.89,44.13 45.90,45.90 C44.91,47.67 44.47,50.21 42.90,51.80 C41.33,53.39 36.26,57.20 34.10,57.80 C31.94,58.40 28.49,57.49 26.70,56.30 C24.91,55.11 21.30,50.87 20.70,48.90 C20.10,46.93 21.40,43.29 22.20,41.50 C23.00,39.71 26.21,37.29 26.70,35.50 C27.19,33.71 25.71,29.87 25.90,28.10 C26.09,26.33 26.42,23.28 28.10,22.20 Z" fill="none" stroke="#c05478" stroke-width="9.0" opacity="0.85" filter="url(#b1)"/>
<clipPath id="cp58"><path d="M14.50,41.00 C14.50,36.00 15.08,30.33 17.00,26.00 C18.92,21.67 22.67,17.42 26.00,15.00 C29.33,12.58 33.17,11.50 37.00,11.50 C40.83,11.50 45.67,12.92 49.00,15.00 C52.33,17.08 55.25,20.33 57.00,24.00 C58.75,27.67 59.50,32.33 59.50,37.00 C59.50,41.67 58.58,47.67 57.00,52.00 C55.42,56.33 53.33,60.08 50.00,63.00 C46.67,65.92 41.17,69.00 37.00,69.50 C32.83,70.00 28.33,68.25 25.00,66.00 C21.67,63.75 18.75,60.17 17.00,56.00 C15.25,51.83 14.50,46.00 14.50,41.00 Z"/></clipPath><rect x="-2.00" y="-2.00" width="79.00" height="78.00" fill="#000" filter="url(#nzR)" clip-path="url(#cp58)"/>
<path d="M28.10,22.20 C30.20,20.85 35.28,20.00 38.50,20.00 C41.72,20.00 45.30,20.60 47.40,22.20 C49.50,23.80 50.62,26.88 51.10,29.60 C51.58,32.32 51.17,35.78 50.30,38.50 C49.43,41.22 47.13,43.68 45.90,45.90 C44.67,48.12 44.87,49.82 42.90,51.80 C40.93,53.78 36.80,57.05 34.10,57.80 C31.40,58.55 28.93,57.78 26.70,56.30 C24.47,54.82 21.45,51.37 20.70,48.90 C19.95,46.43 21.20,43.73 22.20,41.50 C23.20,39.27 26.08,37.73 26.70,35.50 C27.32,33.27 25.67,30.32 25.90,28.10 C26.13,25.88 26.00,23.55 28.10,22.20 Z" fill="#050505" filter="url(#b05)"/>
<rect x="58.5" y="5.2" width="11.5" height="1.3" fill="#eeeeee"/>
</g></g>
<clipPath id="cp59"><rect x="286.00" y="637.00" width="75.20" height="73.70"/></clipPath>
<g clip-path="url(#cp59)"><g transform="translate(286.00,637.00) scale(1.0027,0.9959)">
<circle cx="89.8" cy="32.2" r="1.3" fill="#c24868" opacity="0.55"/>
<circle cx="89.7" cy="15.3" r="1.2" fill="#c24868" opacity="0.55"/>
<circle cx="89.7" cy="39.5" r="1.1" fill="#c24868" opacity="0.55"/>
<circle cx="41.2" cy="21.3" r="1.5" fill="#c24868" opacity="0.55"/>
<circle cx="36.8" cy="17.6" r="1.5" fill="#c24868" opacity="0.55"/>
<circle cx="59.7" cy="13.3" r="0.9" fill="#c24868" opacity="0.55"/>
<circle cx="90.0" cy="18.3" r="1.0" fill="#c24868" opacity="0.55"/>
<circle cx="71.4" cy="36.9" r="1.0" fill="#c24868" opacity="0.55"/>
<circle cx="35.4" cy="27.7" r="0.6" fill="#c24868" opacity="0.55"/>
<circle cx="36.2" cy="12.5" r="1.2" fill="#c24868" opacity="0.55"/>
<circle cx="48.7" cy="32.3" r="0.7" fill="#c24868" opacity="0.55"/>
<circle cx="37.8" cy="5.9" r="1.2" fill="#c24868" opacity="0.55"/>
<circle cx="86.7" cy="13.7" r="0.8" fill="#c24868" opacity="0.55"/>
<circle cx="30.9" cy="30.5" r="0.9" fill="#c24868" opacity="0.55"/>
<circle cx="39.0" cy="30.6" r="1.1" fill="#c24868" opacity="0.55"/>
<circle cx="59.5" cy="11.1" r="1.2" fill="#c24868" opacity="0.55"/>
<circle cx="66.7" cy="22.1" r="0.7" fill="#c24868" opacity="0.55"/>
<circle cx="91.3" cy="39.2" r="1.2" fill="#c24868" opacity="0.55"/>
<circle cx="34.9" cy="15.4" r="0.9" fill="#39a08a" opacity="0.55"/>
<circle cx="8.5" cy="15.9" r="1.1" fill="#39a08a" opacity="0.55"/>
<circle cx="18.1" cy="22.9" r="1.4" fill="#39a08a" opacity="0.55"/>
<circle cx="8.4" cy="20.9" r="0.6" fill="#39a08a" opacity="0.55"/>
<circle cx="24.5" cy="10.7" r="1.3" fill="#39a08a" opacity="0.55"/>
<circle cx="33.6" cy="14.5" r="1.3" fill="#39a08a" opacity="0.55"/>
<circle cx="6.6" cy="17.0" r="0.7" fill="#39a08a" opacity="0.55"/>
<circle cx="18.7" cy="11.0" r="0.7" fill="#39a08a" opacity="0.55"/>
<circle cx="27.4" cy="6.7" r="0.8" fill="#39a08a" opacity="0.55"/>
<circle cx="7.6" cy="16.9" r="0.9" fill="#39a08a" opacity="0.55"/>
<circle cx="6.3" cy="5.5" r="0.8" fill="#39a08a" opacity="0.55"/>
<circle cx="20.2" cy="5.2" r="0.6" fill="#39a08a" opacity="0.55"/>
<path d="M1.50,30.00 C2.33,25.33 3.25,18.17 6.00,14.00 C8.75,9.83 12.83,6.83 18.00,5.00 C23.17,3.17 30.67,2.83 37.00,3.00 C43.33,3.17 50.83,4.17 56.00,6.00 C61.17,7.83 65.17,10.00 68.00,14.00 C70.83,18.00 72.50,24.83 73.00,30.00 C73.50,35.17 72.50,40.83 71.00,45.00 C69.50,49.17 67.17,52.50 64.00,55.00 C60.83,57.50 55.67,58.17 52.00,60.00 C48.33,61.83 45.67,63.83 42.00,66.00 C38.33,68.17 34.67,72.33 30.00,73.00 C25.33,73.67 18.33,72.83 14.00,70.00 C9.67,67.17 6.17,60.67 4.00,56.00 C1.83,51.33 1.42,46.33 1.00,42.00 C0.58,37.67 0.67,34.67 1.50,30.00 Z" fill="#2a7f90" opacity="0.22" filter="url(#b3)"/>
<path d="M17.80,24.40 C19.68,23.81 24.94,23.82 26.70,23.70 C28.46,23.58 29.43,23.70 31.00,23.50 C32.57,23.30 36.71,22.17 38.50,22.20 C40.29,22.23 42.03,23.30 44.40,23.70 C46.77,24.10 53.93,24.41 56.30,25.20 C58.67,25.99 61.21,28.41 62.20,29.60 C63.19,30.79 64.10,32.51 63.70,34.10 C63.30,35.69 60.99,39.73 59.20,41.50 C57.41,43.27 52.27,46.23 50.30,47.40 C48.33,48.57 45.97,49.95 44.40,50.30 C42.83,50.65 39.75,49.24 38.50,50.00 C37.25,50.76 35.20,54.77 35.00,56.00 C34.80,57.23 36.93,57.97 37.00,59.20 C37.07,60.43 36.69,64.01 35.50,65.20 C34.31,66.39 29.87,68.10 28.10,68.10 C26.33,68.10 23.77,66.39 22.20,65.20 C20.63,64.01 17.69,61.37 16.30,59.20 C14.91,57.03 12.59,51.86 11.80,48.90 C11.01,45.94 10.29,39.77 10.40,37.00 C10.51,34.23 11.61,29.78 12.60,28.10 C13.59,26.42 15.92,24.99 17.80,24.40 Z" fill="none" stroke="#2a7f90" stroke-width="24.0" stroke-linejoin="round" opacity="0.7" filter="url(#b2)"/>
<clipPath id="cp60"><path d="M1.50,30.00 C2.33,25.33 3.25,18.17 6.00,14.00 C8.75,9.83 12.83,6.83 18.00,5.00 C23.17,3.17 30.67,2.83 37.00,3.00 C43.33,3.17 50.83,4.17 56.00,6.00 C61.17,7.83 65.17,10.00 68.00,14.00 C70.83,18.00 72.50,24.83 73.00,30.00 C73.50,35.17 72.50,40.83 71.00,45.00 C69.50,49.17 67.17,52.50 64.00,55.00 C60.83,57.50 55.67,58.17 52.00,60.00 C48.33,61.83 45.67,63.83 42.00,66.00 C38.33,68.17 34.67,72.33 30.00,73.00 C25.33,73.67 18.33,72.83 14.00,70.00 C9.67,67.17 6.17,60.67 4.00,56.00 C1.83,51.33 1.42,46.33 1.00,42.00 C0.58,37.67 0.67,34.67 1.50,30.00 Z"/></clipPath><rect x="-2.00" y="-2.00" width="79.00" height="78.00" fill="#000" filter="url(#nzJ)" clip-path="url(#cp60)"/>
<path d="M34,8 C50,8 62,14 68,26" stroke="#c84060" stroke-width="6" fill="none" opacity="0.6" filter="url(#b2)"/>
<path d="M6,14 C12,8 20,6 28,8" stroke="#3aa890" stroke-width="7" fill="none" opacity="0.6" filter="url(#b2)"/>
<path d="M4,22 C3,35 4,50 10,62" stroke="#a09030" stroke-width="4" fill="none" opacity="0.5" filter="url(#b2)"/>
<path d="M17.80,24.40 C19.68,23.81 24.94,23.82 26.70,23.70 C28.46,23.58 29.43,23.70 31.00,23.50 C32.57,23.30 36.71,22.17 38.50,22.20 C40.29,22.23 42.03,23.30 44.40,23.70 C46.77,24.10 53.93,24.41 56.30,25.20 C58.67,25.99 61.21,28.41 62.20,29.60 C63.19,30.79 64.10,32.51 63.70,34.10 C63.30,35.69 60.99,39.73 59.20,41.50 C57.41,43.27 52.27,46.23 50.30,47.40 C48.33,48.57 45.97,49.95 44.40,50.30 C42.83,50.65 39.75,49.24 38.50,50.00 C37.25,50.76 35.20,54.77 35.00,56.00 C34.80,57.23 36.93,57.97 37.00,59.20 C37.07,60.43 36.69,64.01 35.50,65.20 C34.31,66.39 29.87,68.10 28.10,68.10 C26.33,68.10 23.77,66.39 22.20,65.20 C20.63,64.01 17.69,61.37 16.30,59.20 C14.91,57.03 12.59,51.86 11.80,48.90 C11.01,45.94 10.29,39.77 10.40,37.00 C10.51,34.23 11.61,29.78 12.60,28.10 C13.59,26.42 15.92,24.99 17.80,24.40 Z" fill="none" stroke="#c44a78" stroke-width="6.0" opacity="0.85" filter="url(#b1)"/>
<clipPath id="cp61"><path d="M1.50,30.00 C2.33,25.33 3.25,18.17 6.00,14.00 C8.75,9.83 12.83,6.83 18.00,5.00 C23.17,3.17 30.67,2.83 37.00,3.00 C43.33,3.17 50.83,4.17 56.00,6.00 C61.17,7.83 65.17,10.00 68.00,14.00 C70.83,18.00 72.50,24.83 73.00,30.00 C73.50,35.17 72.50,40.83 71.00,45.00 C69.50,49.17 67.17,52.50 64.00,55.00 C60.83,57.50 55.67,58.17 52.00,60.00 C48.33,61.83 45.67,63.83 42.00,66.00 C38.33,68.17 34.67,72.33 30.00,73.00 C25.33,73.67 18.33,72.83 14.00,70.00 C9.67,67.17 6.17,60.67 4.00,56.00 C1.83,51.33 1.42,46.33 1.00,42.00 C0.58,37.67 0.67,34.67 1.50,30.00 Z"/></clipPath><rect x="-2.00" y="-2.00" width="79.00" height="78.00" fill="#000" filter="url(#nzR)" clip-path="url(#cp61)"/>
<path d="M17.80,24.40 C19.68,23.81 24.94,23.82 26.70,23.70 C28.46,23.58 29.43,23.70 31.00,23.50 C32.57,23.30 36.71,22.17 38.50,22.20 C40.29,22.23 42.03,23.30 44.40,23.70 C46.77,24.10 53.93,24.41 56.30,25.20 C58.67,25.99 61.21,28.41 62.20,29.60 C63.19,30.79 64.10,32.51 63.70,34.10 C63.30,35.69 60.99,39.73 59.20,41.50 C57.41,43.27 52.27,46.23 50.30,47.40 C48.33,48.57 45.97,49.95 44.40,50.30 C42.83,50.65 39.75,49.24 38.50,50.00 C37.25,50.76 35.20,54.77 35.00,56.00 C34.80,57.23 36.93,57.97 37.00,59.20 C37.07,60.43 36.69,64.01 35.50,65.20 C34.31,66.39 29.87,68.10 28.10,68.10 C26.33,68.10 23.77,66.39 22.20,65.20 C20.63,64.01 17.69,61.37 16.30,59.20 C14.91,57.03 12.59,51.86 11.80,48.90 C11.01,45.94 10.29,39.77 10.40,37.00 C10.51,34.23 11.61,29.78 12.60,28.10 C13.59,26.42 15.92,24.99 17.80,24.40 Z" fill="#c44a78" opacity="0.9" filter="url(#b05)"/>
<path d="M17.80,24.40 C19.21,23.96 25.37,23.47 26.70,23.70 C28.03,23.93 30.96,26.11 31.10,26.70 C31.24,27.29 28.54,28.57 28.10,29.60 C27.66,30.63 26.40,35.67 26.70,37.00 C27.00,38.33 30.81,41.71 31.10,42.90 C31.39,44.09 29.60,47.71 29.60,48.90 C29.60,50.09 30.36,53.77 31.10,54.80 C31.84,55.83 36.56,58.16 37.00,59.20 C37.44,60.24 36.39,64.31 35.50,65.20 C34.61,66.09 29.43,68.10 28.10,68.10 C26.77,68.10 23.38,66.09 22.20,65.20 C21.02,64.31 17.34,60.83 16.30,59.20 C15.26,57.57 12.39,51.12 11.80,48.90 C11.21,46.68 10.32,39.08 10.40,37.00 C10.48,34.92 11.86,29.36 12.60,28.10 C13.34,26.84 16.39,24.84 17.80,24.40 Z" fill="#4a7eaa" filter="url(#b05)"/>
<clipPath id="cp62"><path d="M17.80,24.40 C19.21,23.96 25.37,23.47 26.70,23.70 C28.03,23.93 30.96,26.11 31.10,26.70 C31.24,27.29 28.54,28.57 28.10,29.60 C27.66,30.63 26.40,35.67 26.70,37.00 C27.00,38.33 30.81,41.71 31.10,42.90 C31.39,44.09 29.60,47.71 29.60,48.90 C29.60,50.09 30.36,53.77 31.10,54.80 C31.84,55.83 36.56,58.16 37.00,59.20 C37.44,60.24 36.39,64.31 35.50,65.20 C34.61,66.09 29.43,68.10 28.10,68.10 C26.77,68.10 23.38,66.09 22.20,65.20 C21.02,64.31 17.34,60.83 16.30,59.20 C15.26,57.57 12.39,51.12 11.80,48.90 C11.21,46.68 10.32,39.08 10.40,37.00 C10.48,34.92 11.86,29.36 12.60,28.10 C13.34,26.84 16.39,24.84 17.80,24.40 Z"/></clipPath><rect x="-2.00" y="-2.00" width="79.00" height="78.00" fill="#000" filter="url(#nzP)" clip-path="url(#cp62)"/>
<clipPath id="cp63"><path d="M17.80,24.40 C19.21,23.96 25.37,23.47 26.70,23.70 C28.03,23.93 30.96,26.11 31.10,26.70 C31.24,27.29 28.54,28.57 28.10,29.60 C27.66,30.63 26.40,35.67 26.70,37.00 C27.00,38.33 30.81,41.71 31.10,42.90 C31.39,44.09 29.60,47.71 29.60,48.90 C29.60,50.09 30.36,53.77 31.10,54.80 C31.84,55.83 36.56,58.16 37.00,59.20 C37.44,60.24 36.39,64.31 35.50,65.20 C34.61,66.09 29.43,68.10 28.10,68.10 C26.77,68.10 23.38,66.09 22.20,65.20 C21.02,64.31 17.34,60.83 16.30,59.20 C15.26,57.57 12.39,51.12 11.80,48.90 C11.21,46.68 10.32,39.08 10.40,37.00 C10.48,34.92 11.86,29.36 12.60,28.10 C13.34,26.84 16.39,24.84 17.80,24.40 Z"/></clipPath><rect x="-2.00" y="-2.00" width="79.00" height="78.00" fill="#000" filter="url(#nzD)" clip-path="url(#cp63)"/>
<circle cx="27.5" cy="47.0" r="0.6" fill="#c8d860" opacity="0.6"/>
<circle cx="19.5" cy="30.8" r="0.7" fill="#c8d860" opacity="0.6"/>
<circle cx="21.2" cy="34.5" r="0.6" fill="#c8d860" opacity="0.6"/>
<circle cx="17.5" cy="37.9" r="0.9" fill="#c8d860" opacity="0.6"/>
<circle cx="32.4" cy="51.9" r="0.8" fill="#c8d860" opacity="0.6"/>
<circle cx="12.5" cy="33.3" r="0.9" fill="#c8d860" opacity="0.6"/>
<circle cx="21.6" cy="59.9" r="1.1" fill="#c8d860" opacity="0.6"/>
<circle cx="19.1" cy="40.4" r="0.7" fill="#c8d860" opacity="0.6"/>
<circle cx="27.7" cy="29.7" r="0.7" fill="#c8d860" opacity="0.6"/>
<circle cx="32.3" cy="40.8" r="1.2" fill="#c8d860" opacity="0.6"/>
<circle cx="21.3" cy="59.5" r="0.8" fill="#c8d860" opacity="0.6"/>
<circle cx="14.6" cy="49.0" r="0.6" fill="#c8d860" opacity="0.6"/>
<circle cx="33.1" cy="54.0" r="0.9" fill="#c8d860" opacity="0.6"/>
<circle cx="33.3" cy="47.8" r="1.2" fill="#c8d860" opacity="0.6"/>
<circle cx="33.5" cy="45.5" r="2.2" fill="#f0e020" filter="url(#b05)"/>
<circle cx="2.5" cy="42.2" r="1.6" fill="#f0e020" filter="url(#b05)"/>
<path d="M31.10,23.70 C32.83,22.47 36.28,22.20 38.50,22.20 C40.72,22.20 41.43,23.20 44.40,23.70 C47.37,24.20 53.33,24.22 56.30,25.20 C59.27,26.18 60.97,28.12 62.20,29.60 C63.43,31.08 64.20,32.12 63.70,34.10 C63.20,36.08 61.43,39.28 59.20,41.50 C56.97,43.72 52.77,45.93 50.30,47.40 C47.83,48.87 46.37,50.05 44.40,50.30 C42.43,50.55 39.98,49.63 38.50,48.90 C37.02,48.17 36.23,47.13 35.50,45.90 C34.77,44.67 35.08,43.23 34.10,41.50 C33.12,39.77 30.60,37.48 29.60,35.50 C28.60,33.52 27.85,31.57 28.10,29.60 C28.35,27.63 29.37,24.93 31.10,23.70 Z" fill="#050505" filter="url(#b05)"/>
<path d="M17.80,24.40 C19.21,23.96 25.37,23.47 26.70,23.70 C28.03,23.93 30.96,26.11 31.10,26.70 C31.24,27.29 28.54,28.57 28.10,29.60 C27.66,30.63 26.40,35.67 26.70,37.00 C27.00,38.33 30.81,41.71 31.10,42.90 C31.39,44.09 29.60,47.71 29.60,48.90 C29.60,50.09 30.36,53.77 31.10,54.80 C31.84,55.83 36.56,58.16 37.00,59.20 C37.44,60.24 36.39,64.31 35.50,65.20 C34.61,66.09 29.43,68.10 28.10,68.10 C26.77,68.10 23.38,66.09 22.20,65.20 C21.02,64.31 17.34,60.83 16.30,59.20 C15.26,57.57 12.39,51.12 11.80,48.90 C11.21,46.68 10.32,39.08 10.40,37.00 C10.48,34.92 11.86,29.36 12.60,28.10 C13.34,26.84 16.39,24.84 17.80,24.40 Z" fill="none" stroke="#f4f4f4" stroke-width="0.8" opacity="0.9"/>
<rect x="58.5" y="5.2" width="11.5" height="1.3" fill="#eeeeee"/>
</g></g>
<clipPath id="cp64"><rect x="363.00" y="637.00" width="74.00" height="73.70"/></clipPath>
<g clip-path="url(#cp64)"><g transform="translate(363.00,637.00) scale(0.9867,0.9959)">
<circle cx="12.3" cy="17.8" r="1.2" fill="#3fa88a" opacity="0.55"/>
<circle cx="16.7" cy="13.8" r="1.3" fill="#3fa88a" opacity="0.55"/>
<circle cx="21.3" cy="16.3" r="1.1" fill="#3fa88a" opacity="0.55"/>
<circle cx="13.3" cy="12.0" r="0.9" fill="#3fa88a" opacity="0.55"/>
<circle cx="18.2" cy="12.6" r="1.3" fill="#3fa88a" opacity="0.55"/>
<circle cx="13.3" cy="14.0" r="0.6" fill="#3fa88a" opacity="0.55"/>
<circle cx="24.0" cy="18.2" r="1.4" fill="#3fa88a" opacity="0.55"/>
<circle cx="18.6" cy="12.3" r="0.9" fill="#3fa88a" opacity="0.55"/>
<circle cx="17.0" cy="13.0" r="1.5" fill="#3fa88a" opacity="0.55"/>
<circle cx="15.2" cy="13.3" r="1.3" fill="#3fa88a" opacity="0.55"/>
<circle cx="11.7" cy="19.8" r="1.0" fill="#3fa88a" opacity="0.55"/>
<circle cx="17.7" cy="14.9" r="1.0" fill="#3fa88a" opacity="0.55"/>
<circle cx="12.6" cy="12.3" r="1.4" fill="#3fa88a" opacity="0.55"/>
<circle cx="13.3" cy="18.6" r="0.8" fill="#3fa88a" opacity="0.55"/>
<circle cx="23.6" cy="19.5" r="1.3" fill="#3fa88a" opacity="0.55"/>
<circle cx="37.6" cy="7.5" r="1.3" fill="#a08030" opacity="0.55"/>
<circle cx="31.2" cy="6.9" r="1.3" fill="#a08030" opacity="0.55"/>
<circle cx="32.0" cy="9.5" r="1.4" fill="#a08030" opacity="0.55"/>
<circle cx="34.1" cy="6.2" r="1.0" fill="#a08030" opacity="0.55"/>
<circle cx="33.9" cy="10.0" r="0.9" fill="#a08030" opacity="0.55"/>
<circle cx="30.3" cy="4.6" r="1.2" fill="#a08030" opacity="0.55"/>
<circle cx="39.9" cy="7.0" r="1.0" fill="#a08030" opacity="0.55"/>
<circle cx="35.5" cy="8.5" r="0.8" fill="#a08030" opacity="0.55"/>
<circle cx="36.1" cy="7.3" r="1.2" fill="#a08030" opacity="0.55"/>
<circle cx="31.8" cy="5.0" r="0.9" fill="#a08030" opacity="0.55"/>
<circle cx="39.3" cy="6.1" r="1.1" fill="#a08030" opacity="0.55"/>
<circle cx="33.1" cy="4.6" r="0.7" fill="#a08030" opacity="0.55"/>
<path d="M5.50,37.00 C5.67,31.33 6.92,26.50 9.00,22.00 C11.08,17.50 14.50,12.75 18.00,10.00 C21.50,7.25 25.33,6.17 30.00,5.50 C34.67,4.83 41.00,4.92 46.00,6.00 C51.00,7.08 56.50,9.33 60.00,12.00 C63.50,14.67 65.67,18.00 67.00,22.00 C68.33,26.00 68.67,31.33 68.00,36.00 C67.33,40.67 65.33,46.33 63.00,50.00 C60.67,53.67 57.50,55.33 54.00,58.00 C50.50,60.67 46.00,63.83 42.00,66.00 C38.00,68.17 34.00,70.67 30.00,71.00 C26.00,71.33 21.67,70.50 18.00,68.00 C14.33,65.50 10.08,61.17 8.00,56.00 C5.92,50.83 5.33,42.67 5.50,37.00 Z" fill="#286f88" opacity="0.22" filter="url(#b3)"/>
<path d="M19.20,24.40 C20.79,23.85 23.61,24.29 25.20,24.00 C26.79,23.71 29.13,22.64 31.10,22.20 C33.07,21.76 37.63,20.99 40.00,20.70 C42.37,20.41 46.73,19.80 48.90,20.00 C51.07,20.20 54.53,21.31 56.30,22.20 C58.07,23.09 61.21,25.11 62.20,26.70 C63.19,28.29 63.90,32.13 63.70,34.10 C63.50,36.07 62.09,39.73 60.70,41.50 C59.31,43.27 55.47,46.23 53.30,47.40 C51.13,48.57 46.71,49.95 44.40,50.30 C42.09,50.65 37.65,49.24 36.00,50.00 C34.35,50.76 32.65,54.37 32.00,56.00 C31.35,57.63 31.62,60.79 31.10,62.20 C30.58,63.61 29.29,66.01 28.10,66.60 C26.91,67.19 23.97,67.59 22.20,66.60 C20.43,65.61 16.37,61.76 14.80,59.20 C13.23,56.64 11.09,50.56 10.40,47.40 C9.71,44.24 9.21,38.07 9.60,35.50 C9.99,32.93 12.02,29.58 13.30,28.10 C14.58,26.62 17.61,24.95 19.20,24.40 Z" fill="none" stroke="#286f88" stroke-width="21.2" stroke-linejoin="round" opacity="0.7" filter="url(#b2)"/>
<clipPath id="cp65"><path d="M5.50,37.00 C5.67,31.33 6.92,26.50 9.00,22.00 C11.08,17.50 14.50,12.75 18.00,10.00 C21.50,7.25 25.33,6.17 30.00,5.50 C34.67,4.83 41.00,4.92 46.00,6.00 C51.00,7.08 56.50,9.33 60.00,12.00 C63.50,14.67 65.67,18.00 67.00,22.00 C68.33,26.00 68.67,31.33 68.00,36.00 C67.33,40.67 65.33,46.33 63.00,50.00 C60.67,53.67 57.50,55.33 54.00,58.00 C50.50,60.67 46.00,63.83 42.00,66.00 C38.00,68.17 34.00,70.67 30.00,71.00 C26.00,71.33 21.67,70.50 18.00,68.00 C14.33,65.50 10.08,61.17 8.00,56.00 C5.92,50.83 5.33,42.67 5.50,37.00 Z"/></clipPath><rect x="-2.00" y="-2.00" width="79.00" height="78.00" fill="#000" filter="url(#nzJ)" clip-path="url(#cp65)"/>
<path d="M19.20,24.40 C20.79,23.85 23.61,24.29 25.20,24.00 C26.79,23.71 29.13,22.64 31.10,22.20 C33.07,21.76 37.63,20.99 40.00,20.70 C42.37,20.41 46.73,19.80 48.90,20.00 C51.07,20.20 54.53,21.31 56.30,22.20 C58.07,23.09 61.21,25.11 62.20,26.70 C63.19,28.29 63.90,32.13 63.70,34.10 C63.50,36.07 62.09,39.73 60.70,41.50 C59.31,43.27 55.47,46.23 53.30,47.40 C51.13,48.57 46.71,49.95 44.40,50.30 C42.09,50.65 37.65,49.24 36.00,50.00 C34.35,50.76 32.65,54.37 32.00,56.00 C31.35,57.63 31.62,60.79 31.10,62.20 C30.58,63.61 29.29,66.01 28.10,66.60 C26.91,67.19 23.97,67.59 22.20,66.60 C20.43,65.61 16.37,61.76 14.80,59.20 C13.23,56.64 11.09,50.56 10.40,47.40 C9.71,44.24 9.21,38.07 9.60,35.50 C9.99,32.93 12.02,29.58 13.30,28.10 C14.58,26.62 17.61,24.95 19.20,24.40 Z" fill="none" stroke="#c45068" stroke-width="5.2" opacity="0.85" filter="url(#b1)"/>
<clipPath id="cp66"><path d="M5.50,37.00 C5.67,31.33 6.92,26.50 9.00,22.00 C11.08,17.50 14.50,12.75 18.00,10.00 C21.50,7.25 25.33,6.17 30.00,5.50 C34.67,4.83 41.00,4.92 46.00,6.00 C51.00,7.08 56.50,9.33 60.00,12.00 C63.50,14.67 65.67,18.00 67.00,22.00 C68.33,26.00 68.67,31.33 68.00,36.00 C67.33,40.67 65.33,46.33 63.00,50.00 C60.67,53.67 57.50,55.33 54.00,58.00 C50.50,60.67 46.00,63.83 42.00,66.00 C38.00,68.17 34.00,70.67 30.00,71.00 C26.00,71.33 21.67,70.50 18.00,68.00 C14.33,65.50 10.08,61.17 8.00,56.00 C5.92,50.83 5.33,42.67 5.50,37.00 Z"/></clipPath><rect x="-2.00" y="-2.00" width="79.00" height="78.00" fill="#000" filter="url(#nzR)" clip-path="url(#cp66)"/>
<path d="M19.20,24.40 C20.79,23.85 23.61,24.29 25.20,24.00 C26.79,23.71 29.13,22.64 31.10,22.20 C33.07,21.76 37.63,20.99 40.00,20.70 C42.37,20.41 46.73,19.80 48.90,20.00 C51.07,20.20 54.53,21.31 56.30,22.20 C58.07,23.09 61.21,25.11 62.20,26.70 C63.19,28.29 63.90,32.13 63.70,34.10 C63.50,36.07 62.09,39.73 60.70,41.50 C59.31,43.27 55.47,46.23 53.30,47.40 C51.13,48.57 46.71,49.95 44.40,50.30 C42.09,50.65 37.65,49.24 36.00,50.00 C34.35,50.76 32.65,54.37 32.00,56.00 C31.35,57.63 31.62,60.79 31.10,62.20 C30.58,63.61 29.29,66.01 28.10,66.60 C26.91,67.19 23.97,67.59 22.20,66.60 C20.43,65.61 16.37,61.76 14.80,59.20 C13.23,56.64 11.09,50.56 10.40,47.40 C9.71,44.24 9.21,38.07 9.60,35.50 C9.99,32.93 12.02,29.58 13.30,28.10 C14.58,26.62 17.61,24.95 19.20,24.40 Z" fill="#c45068" opacity="0.9" filter="url(#b05)"/>
<path d="M19.20,24.40 C20.68,23.96 27.95,23.18 28.10,23.70 C28.25,24.22 21.44,28.42 20.70,29.60 C19.96,30.78 19.81,34.02 20.70,35.50 C21.59,36.98 28.12,42.84 29.60,44.40 C31.08,45.96 35.50,49.91 35.50,51.10 C35.50,52.29 30.04,55.19 29.60,56.30 C29.16,57.41 31.25,61.17 31.10,62.20 C30.95,63.23 28.99,66.16 28.10,66.60 C27.21,67.04 23.53,67.34 22.20,66.60 C20.87,65.86 15.98,61.12 14.80,59.20 C13.62,57.28 10.92,49.77 10.40,47.40 C9.88,45.03 9.31,37.43 9.60,35.50 C9.89,33.57 12.34,29.21 13.30,28.10 C14.26,26.99 17.72,24.84 19.20,24.40 Z" fill="#4e88a4" filter="url(#b05)"/>
<clipPath id="cp67"><path d="M19.20,24.40 C20.68,23.96 27.95,23.18 28.10,23.70 C28.25,24.22 21.44,28.42 20.70,29.60 C19.96,30.78 19.81,34.02 20.70,35.50 C21.59,36.98 28.12,42.84 29.60,44.40 C31.08,45.96 35.50,49.91 35.50,51.10 C35.50,52.29 30.04,55.19 29.60,56.30 C29.16,57.41 31.25,61.17 31.10,62.20 C30.95,63.23 28.99,66.16 28.10,66.60 C27.21,67.04 23.53,67.34 22.20,66.60 C20.87,65.86 15.98,61.12 14.80,59.20 C13.62,57.28 10.92,49.77 10.40,47.40 C9.88,45.03 9.31,37.43 9.60,35.50 C9.89,33.57 12.34,29.21 13.30,28.10 C14.26,26.99 17.72,24.84 19.20,24.40 Z"/></clipPath><rect x="-2.00" y="-2.00" width="79.00" height="78.00" fill="#000" filter="url(#nzP)" clip-path="url(#cp67)"/>
<clipPath id="cp68"><path d="M19.20,24.40 C20.68,23.96 27.95,23.18 28.10,23.70 C28.25,24.22 21.44,28.42 20.70,29.60 C19.96,30.78 19.81,34.02 20.70,35.50 C21.59,36.98 28.12,42.84 29.60,44.40 C31.08,45.96 35.50,49.91 35.50,51.10 C35.50,52.29 30.04,55.19 29.60,56.30 C29.16,57.41 31.25,61.17 31.10,62.20 C30.95,63.23 28.99,66.16 28.10,66.60 C27.21,67.04 23.53,67.34 22.20,66.60 C20.87,65.86 15.98,61.12 14.80,59.20 C13.62,57.28 10.92,49.77 10.40,47.40 C9.88,45.03 9.31,37.43 9.60,35.50 C9.89,33.57 12.34,29.21 13.30,28.10 C14.26,26.99 17.72,24.84 19.20,24.40 Z"/></clipPath><rect x="-2.00" y="-2.00" width="79.00" height="78.00" fill="#000" filter="url(#nzD)" clip-path="url(#cp68)"/>
<circle cx="29.4" cy="55.9" r="0.8" fill="#c8d860" opacity="0.6"/>
<circle cx="26.6" cy="52.0" r="1.1" fill="#c8d860" opacity="0.6"/>
<circle cx="32.6" cy="41.5" r="1.2" fill="#c8d860" opacity="0.6"/>
<circle cx="32.7" cy="48.7" r="1.1" fill="#c8d860" opacity="0.6"/>
<circle cx="22.4" cy="40.3" r="0.7" fill="#c8d860" opacity="0.6"/>
<circle cx="30.8" cy="32.0" r="0.5" fill="#c8d860" opacity="0.6"/>
<circle cx="29.2" cy="55.8" r="0.8" fill="#c8d860" opacity="0.6"/>
<circle cx="29.9" cy="27.7" r="0.7" fill="#c8d860" opacity="0.6"/>
<circle cx="17.9" cy="42.0" r="0.6" fill="#c8d860" opacity="0.6"/>
<circle cx="13.1" cy="38.9" r="1.1" fill="#c8d860" opacity="0.6"/>
<circle cx="33.1" cy="54.7" r="0.8" fill="#c8d860" opacity="0.6"/>
<circle cx="17.1" cy="63.0" r="0.9" fill="#c8d860" opacity="0.6"/>
<circle cx="27.6" cy="26.8" r="0.6" fill="#c8d860" opacity="0.6"/>
<circle cx="30.0" cy="56.6" r="1.1" fill="#c8d860" opacity="0.6"/>
<path d="M25.20,25.20 C26.93,24.22 28.63,22.95 31.10,22.20 C33.57,21.45 37.03,21.07 40.00,20.70 C42.97,20.33 46.18,19.75 48.90,20.00 C51.62,20.25 54.08,21.08 56.30,22.20 C58.52,23.32 60.97,24.72 62.20,26.70 C63.43,28.68 63.95,31.63 63.70,34.10 C63.45,36.57 62.43,39.28 60.70,41.50 C58.97,43.72 56.02,45.93 53.30,47.40 C50.58,48.87 47.37,50.05 44.40,50.30 C41.43,50.55 37.97,50.13 35.50,48.90 C33.03,47.67 31.82,45.13 29.60,42.90 C27.38,40.67 23.68,37.97 22.20,35.50 C20.72,33.03 20.20,29.82 20.70,28.10 C21.20,26.38 23.47,26.18 25.20,25.20 Z" fill="#050505" filter="url(#b05)"/>
<path d="M19.20,24.40 C20.68,23.96 27.95,23.18 28.10,23.70 C28.25,24.22 21.44,28.42 20.70,29.60 C19.96,30.78 19.81,34.02 20.70,35.50 C21.59,36.98 28.12,42.84 29.60,44.40 C31.08,45.96 35.50,49.91 35.50,51.10 C35.50,52.29 30.04,55.19 29.60,56.30 C29.16,57.41 31.25,61.17 31.10,62.20 C30.95,63.23 28.99,66.16 28.10,66.60 C27.21,67.04 23.53,67.34 22.20,66.60 C20.87,65.86 15.98,61.12 14.80,59.20 C13.62,57.28 10.92,49.77 10.40,47.40 C9.88,45.03 9.31,37.43 9.60,35.50 C9.89,33.57 12.34,29.21 13.30,28.10 C14.26,26.99 17.72,24.84 19.20,24.40 Z" fill="none" stroke="#f4f4f4" stroke-width="0.8" opacity="0.9"/>
<rect x="58.5" y="5.2" width="11.5" height="1.3" fill="#eeeeee"/>
</g></g>
<clipPath id="cp69"><rect x="438.50" y="637.00" width="74.70" height="73.70"/></clipPath>
<g clip-path="url(#cp69)"><g transform="translate(438.50,637.00) scale(0.9960,0.9959)">
<circle cx="25.7" cy="4.7" r="0.6" fill="#88b060" opacity="0.55"/>
<circle cx="26.0" cy="4.9" r="0.7" fill="#88b060" opacity="0.55"/>
<circle cx="23.2" cy="5.7" r="1.4" fill="#88b060" opacity="0.55"/>
<circle cx="19.9" cy="8.6" r="0.9" fill="#88b060" opacity="0.55"/>
<circle cx="22.8" cy="8.5" r="1.2" fill="#88b060" opacity="0.55"/>
<circle cx="25.4" cy="7.4" r="0.6" fill="#88b060" opacity="0.55"/>
<circle cx="25.1" cy="6.8" r="0.9" fill="#88b060" opacity="0.55"/>
<circle cx="19.5" cy="8.1" r="1.1" fill="#88b060" opacity="0.55"/>
<circle cx="25.5" cy="7.7" r="1.5" fill="#88b060" opacity="0.55"/>
<circle cx="22.5" cy="7.4" r="1.2" fill="#88b060" opacity="0.55"/>
<circle cx="20.1" cy="8.6" r="0.9" fill="#88b060" opacity="0.55"/>
<circle cx="24.2" cy="8.6" r="1.2" fill="#88b060" opacity="0.55"/>
<circle cx="32.0" cy="8.9" r="1.2" fill="#c04060" opacity="0.55"/>
<circle cx="32.6" cy="2.4" r="1.1" fill="#c04060" opacity="0.55"/>
<circle cx="30.5" cy="9.8" r="1.1" fill="#c04060" opacity="0.55"/>
<circle cx="37.2" cy="5.4" r="1.2" fill="#c04060" opacity="0.55"/>
<circle cx="42.8" cy="4.6" r="0.9" fill="#c04060" opacity="0.55"/>
<circle cx="38.2" cy="4.5" r="1.1" fill="#c04060" opacity="0.55"/>
<circle cx="37.6" cy="5.6" r="1.2" fill="#c04060" opacity="0.55"/>
<circle cx="37.4" cy="2.7" r="1.5" fill="#c04060" opacity="0.55"/>
<circle cx="35.0" cy="5.6" r="1.0" fill="#c04060" opacity="0.55"/>
<circle cx="43.0" cy="10.0" r="1.1" fill="#c04060" opacity="0.55"/>
<circle cx="35.6" cy="2.8" r="1.4" fill="#c04060" opacity="0.55"/>
<circle cx="32.4" cy="6.6" r="0.9" fill="#c04060" opacity="0.55"/>
<circle cx="34.6" cy="5.0" r="0.8" fill="#c04060" opacity="0.55"/>
<circle cx="30.5" cy="6.5" r="1.3" fill="#c04060" opacity="0.55"/>
<circle cx="39.1" cy="3.7" r="1.2" fill="#c04060" opacity="0.55"/>
<path d="M5.50,37.00 C5.17,31.00 6.25,26.17 8.00,22.00 C9.75,17.83 12.33,14.67 16.00,12.00 C19.67,9.33 24.67,7.17 30.00,6.00 C35.33,4.83 42.67,4.33 48.00,5.00 C53.33,5.67 58.33,7.17 62.00,10.00 C65.67,12.83 68.33,17.67 70.00,22.00 C71.67,26.33 72.33,31.67 72.00,36.00 C71.67,40.33 70.33,44.33 68.00,48.00 C65.67,51.67 61.67,55.00 58.00,58.00 C54.33,61.00 50.33,64.00 46.00,66.00 C41.67,68.00 36.33,69.67 32.00,70.00 C27.67,70.33 23.67,70.00 20.00,68.00 C16.33,66.00 12.42,63.17 10.00,58.00 C7.58,52.83 5.83,43.00 5.50,37.00 Z" fill="#3050b0" opacity="0.22" filter="url(#b3)"/>
<path d="M13.30,22.20 C14.98,20.63 19.83,18.49 22.20,17.80 C24.57,17.11 28.53,16.81 31.10,17.00 C33.67,17.19 38.94,18.71 41.50,19.20 C44.06,19.69 48.33,19.90 50.30,20.70 C52.27,21.50 55.11,23.81 56.30,25.20 C57.49,26.59 59.00,29.53 59.20,31.10 C59.40,32.67 58.59,35.61 57.80,37.00 C57.01,38.39 54.69,40.11 53.30,41.50 C51.91,42.89 48.97,46.03 47.40,47.40 C45.83,48.77 43.15,51.05 41.50,51.80 C39.85,52.55 35.99,52.60 35.00,53.00 C34.01,53.40 34.82,54.07 34.10,54.80 C33.38,55.53 31.19,58.10 29.60,58.50 C28.01,58.90 24.17,58.69 22.20,57.80 C20.23,56.91 16.37,54.17 14.80,51.80 C13.23,49.43 11.09,42.96 10.40,40.00 C9.71,37.04 9.21,31.97 9.60,29.60 C9.99,27.23 11.62,23.77 13.30,22.20 Z" fill="none" stroke="#3050b0" stroke-width="23.2" stroke-linejoin="round" opacity="0.7" filter="url(#b2)"/>
<clipPath id="cp70"><path d="M5.50,37.00 C5.17,31.00 6.25,26.17 8.00,22.00 C9.75,17.83 12.33,14.67 16.00,12.00 C19.67,9.33 24.67,7.17 30.00,6.00 C35.33,4.83 42.67,4.33 48.00,5.00 C53.33,5.67 58.33,7.17 62.00,10.00 C65.67,12.83 68.33,17.67 70.00,22.00 C71.67,26.33 72.33,31.67 72.00,36.00 C71.67,40.33 70.33,44.33 68.00,48.00 C65.67,51.67 61.67,55.00 58.00,58.00 C54.33,61.00 50.33,64.00 46.00,66.00 C41.67,68.00 36.33,69.67 32.00,70.00 C27.67,70.33 23.67,70.00 20.00,68.00 C16.33,66.00 12.42,63.17 10.00,58.00 C7.58,52.83 5.83,43.00 5.50,37.00 Z"/></clipPath><rect x="-2.00" y="-2.00" width="79.00" height="78.00" fill="#000" filter="url(#nzJ)" clip-path="url(#cp70)"/>
<path d="M20,60 C28,68 40,68 50,62" stroke="#c04060" stroke-width="5" fill="none" opacity="0.7" filter="url(#b2)"/>
<path d="M13.30,22.20 C14.98,20.63 19.83,18.49 22.20,17.80 C24.57,17.11 28.53,16.81 31.10,17.00 C33.67,17.19 38.94,18.71 41.50,19.20 C44.06,19.69 48.33,19.90 50.30,20.70 C52.27,21.50 55.11,23.81 56.30,25.20 C57.49,26.59 59.00,29.53 59.20,31.10 C59.40,32.67 58.59,35.61 57.80,37.00 C57.01,38.39 54.69,40.11 53.30,41.50 C51.91,42.89 48.97,46.03 47.40,47.40 C45.83,48.77 43.15,51.05 41.50,51.80 C39.85,52.55 35.99,52.60 35.00,53.00 C34.01,53.40 34.82,54.07 34.10,54.80 C33.38,55.53 31.19,58.10 29.60,58.50 C28.01,58.90 24.17,58.69 22.20,57.80 C20.23,56.91 16.37,54.17 14.80,51.80 C13.23,49.43 11.09,42.96 10.40,40.00 C9.71,37.04 9.21,31.97 9.60,29.60 C9.99,27.23 11.62,23.77 13.30,22.20 Z" fill="none" stroke="#c4507a" stroke-width="5.2" opacity="0.85" filter="url(#b1)"/>
<clipPath id="cp71"><path d="M5.50,37.00 C5.17,31.00 6.25,26.17 8.00,22.00 C9.75,17.83 12.33,14.67 16.00,12.00 C19.67,9.33 24.67,7.17 30.00,6.00 C35.33,4.83 42.67,4.33 48.00,5.00 C53.33,5.67 58.33,7.17 62.00,10.00 C65.67,12.83 68.33,17.67 70.00,22.00 C71.67,26.33 72.33,31.67 72.00,36.00 C71.67,40.33 70.33,44.33 68.00,48.00 C65.67,51.67 61.67,55.00 58.00,58.00 C54.33,61.00 50.33,64.00 46.00,66.00 C41.67,68.00 36.33,69.67 32.00,70.00 C27.67,70.33 23.67,70.00 20.00,68.00 C16.33,66.00 12.42,63.17 10.00,58.00 C7.58,52.83 5.83,43.00 5.50,37.00 Z"/></clipPath><rect x="-2.00" y="-2.00" width="79.00" height="78.00" fill="#000" filter="url(#nzR)" clip-path="url(#cp71)"/>
<path d="M13.30,22.20 C14.98,20.63 19.83,18.49 22.20,17.80 C24.57,17.11 28.53,16.81 31.10,17.00 C33.67,17.19 38.94,18.71 41.50,19.20 C44.06,19.69 48.33,19.90 50.30,20.70 C52.27,21.50 55.11,23.81 56.30,25.20 C57.49,26.59 59.00,29.53 59.20,31.10 C59.40,32.67 58.59,35.61 57.80,37.00 C57.01,38.39 54.69,40.11 53.30,41.50 C51.91,42.89 48.97,46.03 47.40,47.40 C45.83,48.77 43.15,51.05 41.50,51.80 C39.85,52.55 35.99,52.60 35.00,53.00 C34.01,53.40 34.82,54.07 34.10,54.80 C33.38,55.53 31.19,58.10 29.60,58.50 C28.01,58.90 24.17,58.69 22.20,57.80 C20.23,56.91 16.37,54.17 14.80,51.80 C13.23,49.43 11.09,42.96 10.40,40.00 C9.71,37.04 9.21,31.97 9.60,29.60 C9.99,27.23 11.62,23.77 13.30,22.20 Z" fill="#c4507a" opacity="0.9" filter="url(#b05)"/>
<path d="M13.30,22.20 C14.56,21.02 20.42,18.32 22.20,17.80 C23.98,17.28 30.06,16.71 31.10,17.00 C32.14,17.29 33.34,20.03 32.60,20.70 C31.86,21.37 24.89,22.81 23.70,23.70 C22.51,24.59 21.00,28.27 20.70,29.60 C20.40,30.93 20.25,35.52 20.70,37.00 C21.15,38.48 24.01,43.21 25.20,44.40 C26.39,45.59 31.71,47.86 32.60,48.90 C33.49,49.94 34.40,53.84 34.10,54.80 C33.80,55.76 30.79,58.20 29.60,58.50 C28.41,58.80 23.68,58.47 22.20,57.80 C20.72,57.13 15.98,53.58 14.80,51.80 C13.62,50.02 10.92,42.22 10.40,40.00 C9.88,37.78 9.31,31.38 9.60,29.60 C9.89,27.82 12.04,23.38 13.30,22.20 Z" fill="#5a8e98" filter="url(#b05)"/>
<clipPath id="cp72"><path d="M13.30,22.20 C14.56,21.02 20.42,18.32 22.20,17.80 C23.98,17.28 30.06,16.71 31.10,17.00 C32.14,17.29 33.34,20.03 32.60,20.70 C31.86,21.37 24.89,22.81 23.70,23.70 C22.51,24.59 21.00,28.27 20.70,29.60 C20.40,30.93 20.25,35.52 20.70,37.00 C21.15,38.48 24.01,43.21 25.20,44.40 C26.39,45.59 31.71,47.86 32.60,48.90 C33.49,49.94 34.40,53.84 34.10,54.80 C33.80,55.76 30.79,58.20 29.60,58.50 C28.41,58.80 23.68,58.47 22.20,57.80 C20.72,57.13 15.98,53.58 14.80,51.80 C13.62,50.02 10.92,42.22 10.40,40.00 C9.88,37.78 9.31,31.38 9.60,29.60 C9.89,27.82 12.04,23.38 13.30,22.20 Z"/></clipPath><rect x="-2.00" y="-2.00" width="79.00" height="78.00" fill="#000" filter="url(#nzP)" clip-path="url(#cp72)"/>
<clipPath id="cp73"><path d="M13.30,22.20 C14.56,21.02 20.42,18.32 22.20,17.80 C23.98,17.28 30.06,16.71 31.10,17.00 C32.14,17.29 33.34,20.03 32.60,20.70 C31.86,21.37 24.89,22.81 23.70,23.70 C22.51,24.59 21.00,28.27 20.70,29.60 C20.40,30.93 20.25,35.52 20.70,37.00 C21.15,38.48 24.01,43.21 25.20,44.40 C26.39,45.59 31.71,47.86 32.60,48.90 C33.49,49.94 34.40,53.84 34.10,54.80 C33.80,55.76 30.79,58.20 29.60,58.50 C28.41,58.80 23.68,58.47 22.20,57.80 C20.72,57.13 15.98,53.58 14.80,51.80 C13.62,50.02 10.92,42.22 10.40,40.00 C9.88,37.78 9.31,31.38 9.60,29.60 C9.89,27.82 12.04,23.38 13.30,22.20 Z"/></clipPath><rect x="-2.00" y="-2.00" width="79.00" height="78.00" fill="#000" filter="url(#nzD)" clip-path="url(#cp73)"/>
<circle cx="12.7" cy="34.4" r="1.1" fill="#c8d860" opacity="0.6"/>
<circle cx="30.5" cy="36.3" r="1.1" fill="#c8d860" opacity="0.6"/>
<circle cx="21.8" cy="38.6" r="0.9" fill="#c8d860" opacity="0.6"/>
<circle cx="31.9" cy="46.9" r="0.8" fill="#c8d860" opacity="0.6"/>
<circle cx="26.5" cy="43.1" r="0.7" fill="#c8d860" opacity="0.6"/>
<circle cx="27.7" cy="49.7" r="0.9" fill="#c8d860" opacity="0.6"/>
<circle cx="30.9" cy="19.7" r="0.9" fill="#c8d860" opacity="0.6"/>
<circle cx="24.6" cy="31.8" r="0.6" fill="#c8d860" opacity="0.6"/>
<circle cx="25.8" cy="35.3" r="0.7" fill="#c8d860" opacity="0.6"/>
<circle cx="12.5" cy="55.3" r="0.7" fill="#c8d860" opacity="0.6"/>
<circle cx="14.0" cy="27.1" r="0.7" fill="#c8d860" opacity="0.6"/>
<circle cx="29.4" cy="25.8" r="0.7" fill="#c8d860" opacity="0.6"/>
<circle cx="13.6" cy="36.6" r="0.6" fill="#c8d860" opacity="0.6"/>
<circle cx="18.7" cy="46.6" r="1.1" fill="#c8d860" opacity="0.6"/>
<path d="M20.70,25.20 C22.43,23.72 26.13,21.70 29.60,20.70 C33.07,19.70 38.05,19.20 41.50,19.20 C44.95,19.20 47.83,19.70 50.30,20.70 C52.77,21.70 54.82,23.47 56.30,25.20 C57.78,26.93 58.95,29.13 59.20,31.10 C59.45,33.07 58.78,35.27 57.80,37.00 C56.82,38.73 55.03,39.77 53.30,41.50 C51.57,43.23 49.37,45.68 47.40,47.40 C45.43,49.12 43.72,51.07 41.50,51.80 C39.28,52.53 36.33,52.28 34.10,51.80 C31.87,51.32 30.08,50.38 28.10,48.90 C26.12,47.42 23.68,45.13 22.20,42.90 C20.72,40.67 19.70,37.72 19.20,35.50 C18.70,33.28 18.95,31.32 19.20,29.60 C19.45,27.88 18.97,26.68 20.70,25.20 Z" fill="#050505" filter="url(#b05)"/>
<path d="M13.30,22.20 C14.56,21.02 20.42,18.32 22.20,17.80 C23.98,17.28 30.06,16.71 31.10,17.00 C32.14,17.29 33.34,20.03 32.60,20.70 C31.86,21.37 24.89,22.81 23.70,23.70 C22.51,24.59 21.00,28.27 20.70,29.60 C20.40,30.93 20.25,35.52 20.70,37.00 C21.15,38.48 24.01,43.21 25.20,44.40 C26.39,45.59 31.71,47.86 32.60,48.90 C33.49,49.94 34.40,53.84 34.10,54.80 C33.80,55.76 30.79,58.20 29.60,58.50 C28.41,58.80 23.68,58.47 22.20,57.80 C20.72,57.13 15.98,53.58 14.80,51.80 C13.62,50.02 10.92,42.22 10.40,40.00 C9.88,37.78 9.31,31.38 9.60,29.60 C9.89,27.82 12.04,23.38 13.30,22.20 Z" fill="none" stroke="#f4f4f4" stroke-width="0.8" opacity="0.9"/>
<rect x="58.5" y="5.2" width="11.5" height="1.3" fill="#eeeeee"/>
</g></g>
<text transform="translate(280.80,522.80) rotate(-90)" x="0" y="0" text-anchor="middle" font-size="7" fill="#333333" stroke="#333333" stroke-width="0.05" textLength="22.00" lengthAdjust="spacingAndGlyphs">Control</text>
<text transform="translate(280.80,598.60) rotate(-90)" x="0" y="0" text-anchor="middle" font-size="7" fill="#333333" stroke="#333333" stroke-width="0.05" textLength="30.00" lengthAdjust="spacingAndGlyphs">Ticagrelor</text>
<text transform="translate(280.80,674.70) rotate(-90)" x="0" y="0" text-anchor="middle" font-size="7" fill="#333333" stroke="#333333" stroke-width="0.05" textLength="35.00" lengthAdjust="spacingAndGlyphs">Clopidogrel</text>
<text x="346.20" y="720.70" font-size="7" fill="#333333" stroke="#333333" stroke-width="0.05" textLength="105.00" lengthAdjust="spacingAndGlyphs"><tspan fill="#f2b640" stroke="#f2b640">Nile Red</tspan> / <tspan fill="#2a5da8" stroke="#2a5da8">DAPI</tspan> / <tspan fill="#c8284a" stroke="#c8284a">Autofluorescence</tspan></text>
<rect x="0.6" y="0.6" width="518.8" height="759.8" fill="none" stroke="#484848" stroke-width="1.3"/>
</svg>
</body></html>
